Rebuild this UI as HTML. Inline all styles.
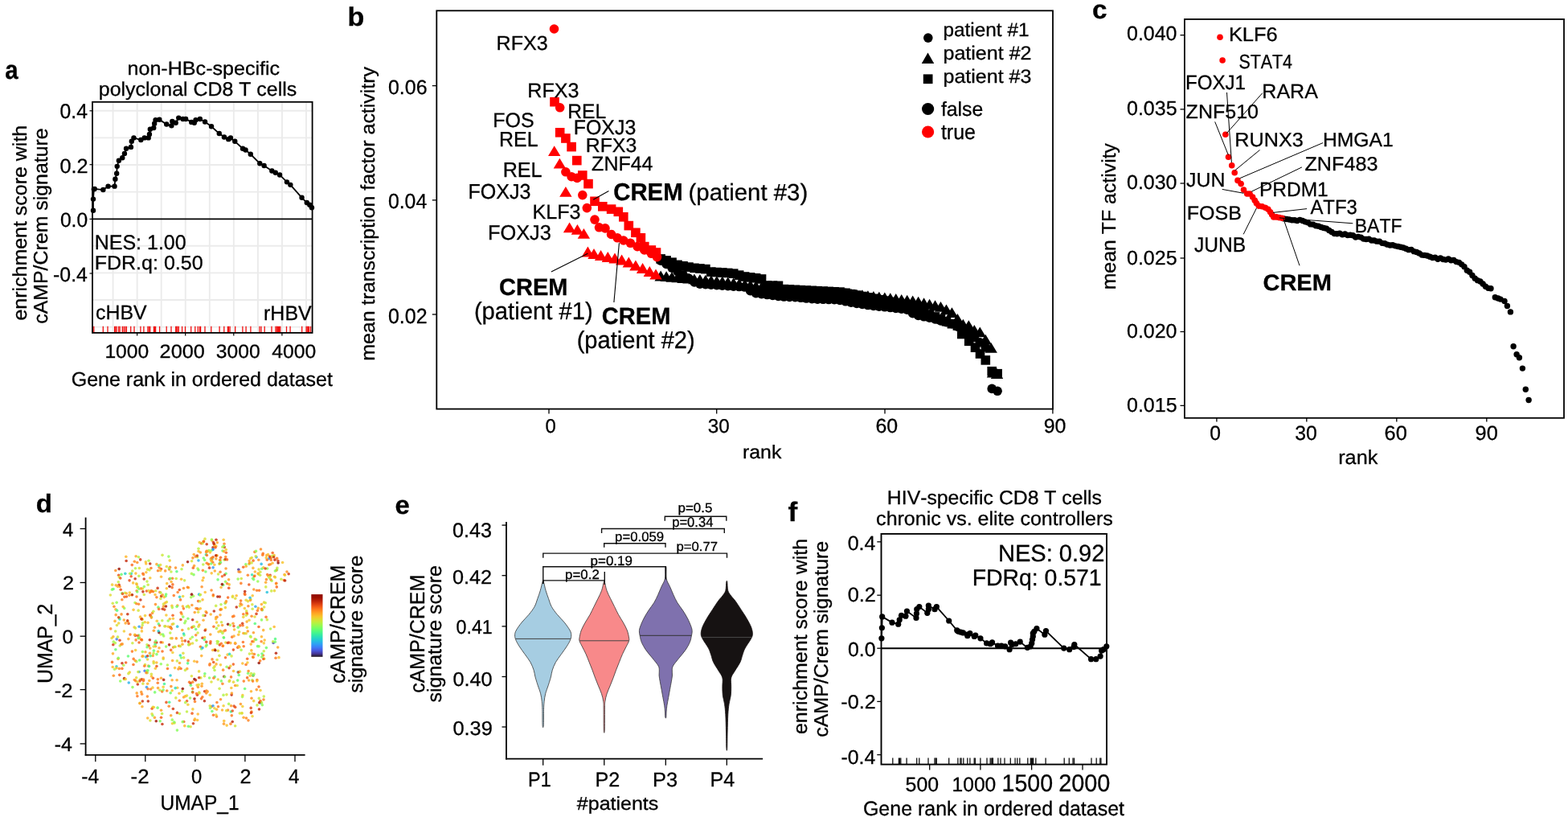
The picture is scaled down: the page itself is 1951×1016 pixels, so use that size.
<!DOCTYPE html>
<html><head><meta charset="utf-8"><title>Figure</title>
<style>
html,body{margin:0;padding:0;background:#fff;width:1951px;height:1016px;overflow:hidden}
svg{display:block}
text{font-family:"Liberation Sans",Arial,sans-serif;font-kerning:none;fill:#000;stroke:#000;stroke-width:0.3px}
</style></head><body>
<svg width="1951" height="1016" viewBox="0 0 1951 1016" text-rendering="geometricPrecision">
<rect width="1951" height="1016" fill="#fff"/>
<g id="pa">
<line x1="115.00" y1="137.80" x2="388.60" y2="137.80" stroke="#EBEBEB" stroke-width="1.90"/>
<line x1="115.00" y1="171.40" x2="388.60" y2="171.40" stroke="#EBEBEB" stroke-width="1.90"/>
<line x1="115.00" y1="205.00" x2="388.60" y2="205.00" stroke="#EBEBEB" stroke-width="1.90"/>
<line x1="115.00" y1="238.60" x2="388.60" y2="238.60" stroke="#EBEBEB" stroke-width="1.90"/>
<line x1="115.00" y1="305.80" x2="388.60" y2="305.80" stroke="#EBEBEB" stroke-width="1.90"/>
<line x1="115.00" y1="339.40" x2="388.60" y2="339.40" stroke="#EBEBEB" stroke-width="1.90"/>
<line x1="115.00" y1="373.00" x2="388.60" y2="373.00" stroke="#EBEBEB" stroke-width="1.90"/>
<line x1="115.00" y1="406.60" x2="388.60" y2="406.60" stroke="#EBEBEB" stroke-width="1.90"/>
<line x1="140.60" y1="126.80" x2="140.60" y2="413.90" stroke="#EBEBEB" stroke-width="1.90"/>
<line x1="170.65" y1="126.80" x2="170.65" y2="413.90" stroke="#EBEBEB" stroke-width="1.90"/>
<line x1="200.70" y1="126.80" x2="200.70" y2="413.90" stroke="#EBEBEB" stroke-width="1.90"/>
<line x1="230.75" y1="126.80" x2="230.75" y2="413.90" stroke="#EBEBEB" stroke-width="1.90"/>
<line x1="260.80" y1="126.80" x2="260.80" y2="413.90" stroke="#EBEBEB" stroke-width="1.90"/>
<line x1="290.85" y1="126.80" x2="290.85" y2="413.90" stroke="#EBEBEB" stroke-width="1.90"/>
<line x1="320.90" y1="126.80" x2="320.90" y2="413.90" stroke="#EBEBEB" stroke-width="1.90"/>
<line x1="350.95" y1="126.80" x2="350.95" y2="413.90" stroke="#EBEBEB" stroke-width="1.90"/>
<line x1="381.00" y1="126.80" x2="381.00" y2="413.90" stroke="#EBEBEB" stroke-width="1.90"/>
<line x1="116.80" y1="405.80" x2="116.80" y2="413.20" stroke="#F01010" stroke-width="1.30"/>
<line x1="128.30" y1="405.80" x2="128.30" y2="413.20" stroke="#F01010" stroke-width="1.30"/>
<line x1="134.00" y1="405.80" x2="134.00" y2="413.20" stroke="#F01010" stroke-width="1.30"/>
<line x1="142.60" y1="405.80" x2="142.60" y2="413.20" stroke="#F01010" stroke-width="1.30"/>
<line x1="143.70" y1="405.80" x2="143.70" y2="413.20" stroke="#F01010" stroke-width="1.30"/>
<line x1="145.20" y1="405.80" x2="145.20" y2="413.20" stroke="#F01010" stroke-width="1.30"/>
<line x1="147.70" y1="405.80" x2="147.70" y2="413.20" stroke="#F01010" stroke-width="1.30"/>
<line x1="149.10" y1="405.80" x2="149.10" y2="413.20" stroke="#F01010" stroke-width="1.30"/>
<line x1="152.30" y1="405.80" x2="152.30" y2="413.20" stroke="#F01010" stroke-width="1.30"/>
<line x1="154.10" y1="405.80" x2="154.10" y2="413.20" stroke="#F01010" stroke-width="1.30"/>
<line x1="155.90" y1="405.80" x2="155.90" y2="413.20" stroke="#F01010" stroke-width="1.30"/>
<line x1="157.40" y1="405.80" x2="157.40" y2="413.20" stroke="#F01010" stroke-width="1.30"/>
<line x1="162.70" y1="405.80" x2="162.70" y2="413.20" stroke="#F01010" stroke-width="1.30"/>
<line x1="167.00" y1="405.80" x2="167.00" y2="413.20" stroke="#F01010" stroke-width="1.30"/>
<line x1="174.90" y1="405.80" x2="174.90" y2="413.20" stroke="#F01010" stroke-width="1.30"/>
<line x1="178.90" y1="405.80" x2="178.90" y2="413.20" stroke="#F01010" stroke-width="1.30"/>
<line x1="183.90" y1="405.80" x2="183.90" y2="413.20" stroke="#F01010" stroke-width="1.30"/>
<line x1="185.30" y1="405.80" x2="185.30" y2="413.20" stroke="#F01010" stroke-width="1.30"/>
<line x1="186.80" y1="405.80" x2="186.80" y2="413.20" stroke="#F01010" stroke-width="1.30"/>
<line x1="191.40" y1="405.80" x2="191.40" y2="413.20" stroke="#F01010" stroke-width="1.30"/>
<line x1="192.50" y1="405.80" x2="192.50" y2="413.20" stroke="#F01010" stroke-width="1.30"/>
<line x1="193.60" y1="405.80" x2="193.60" y2="413.20" stroke="#F01010" stroke-width="1.30"/>
<line x1="198.60" y1="405.80" x2="198.60" y2="413.20" stroke="#F01010" stroke-width="1.30"/>
<line x1="207.20" y1="405.80" x2="207.20" y2="413.20" stroke="#F01010" stroke-width="1.30"/>
<line x1="213.00" y1="405.80" x2="213.00" y2="413.20" stroke="#F01010" stroke-width="1.30"/>
<line x1="218.70" y1="405.80" x2="218.70" y2="413.20" stroke="#F01010" stroke-width="1.30"/>
<line x1="219.80" y1="405.80" x2="219.80" y2="413.20" stroke="#F01010" stroke-width="1.30"/>
<line x1="220.90" y1="405.80" x2="220.90" y2="413.20" stroke="#F01010" stroke-width="1.30"/>
<line x1="222.30" y1="405.80" x2="222.30" y2="413.20" stroke="#F01010" stroke-width="1.30"/>
<line x1="226.60" y1="405.80" x2="226.60" y2="413.20" stroke="#F01010" stroke-width="1.30"/>
<line x1="230.50" y1="405.80" x2="230.50" y2="413.20" stroke="#F01010" stroke-width="1.30"/>
<line x1="237.70" y1="405.80" x2="237.70" y2="413.20" stroke="#F01010" stroke-width="1.30"/>
<line x1="242.80" y1="405.80" x2="242.80" y2="413.20" stroke="#F01010" stroke-width="1.30"/>
<line x1="246.30" y1="405.80" x2="246.30" y2="413.20" stroke="#F01010" stroke-width="1.30"/>
<line x1="248.50" y1="405.80" x2="248.50" y2="413.20" stroke="#F01010" stroke-width="1.30"/>
<line x1="249.60" y1="405.80" x2="249.60" y2="413.20" stroke="#F01010" stroke-width="1.30"/>
<line x1="255.00" y1="405.80" x2="255.00" y2="413.20" stroke="#F01010" stroke-width="1.30"/>
<line x1="262.80" y1="405.80" x2="262.80" y2="413.20" stroke="#F01010" stroke-width="1.30"/>
<line x1="273.10" y1="405.80" x2="273.10" y2="413.20" stroke="#F01010" stroke-width="1.30"/>
<line x1="278.80" y1="405.80" x2="278.80" y2="413.20" stroke="#F01010" stroke-width="1.30"/>
<line x1="283.40" y1="405.80" x2="283.40" y2="413.20" stroke="#F01010" stroke-width="1.30"/>
<line x1="284.60" y1="405.80" x2="284.60" y2="413.20" stroke="#F01010" stroke-width="1.30"/>
<line x1="286.10" y1="405.80" x2="286.10" y2="413.20" stroke="#F01010" stroke-width="1.30"/>
<line x1="292.70" y1="405.80" x2="292.70" y2="413.20" stroke="#F01010" stroke-width="1.30"/>
<line x1="301.90" y1="405.80" x2="301.90" y2="413.20" stroke="#F01010" stroke-width="1.30"/>
<line x1="306.10" y1="405.80" x2="306.10" y2="413.20" stroke="#F01010" stroke-width="1.30"/>
<line x1="311.90" y1="405.80" x2="311.90" y2="413.20" stroke="#F01010" stroke-width="1.30"/>
<line x1="323.00" y1="405.80" x2="323.00" y2="413.20" stroke="#F01010" stroke-width="1.30"/>
<line x1="325.00" y1="405.80" x2="325.00" y2="413.20" stroke="#F01010" stroke-width="1.30"/>
<line x1="329.20" y1="405.80" x2="329.20" y2="413.20" stroke="#F01010" stroke-width="1.30"/>
<line x1="338.00" y1="405.80" x2="338.00" y2="413.20" stroke="#F01010" stroke-width="1.30"/>
<line x1="343.00" y1="405.80" x2="343.00" y2="413.20" stroke="#F01010" stroke-width="1.30"/>
<line x1="344.20" y1="405.80" x2="344.20" y2="413.20" stroke="#F01010" stroke-width="1.30"/>
<line x1="345.30" y1="405.80" x2="345.30" y2="413.20" stroke="#F01010" stroke-width="1.30"/>
<line x1="346.50" y1="405.80" x2="346.50" y2="413.20" stroke="#F01010" stroke-width="1.30"/>
<line x1="347.60" y1="405.80" x2="347.60" y2="413.20" stroke="#F01010" stroke-width="1.30"/>
<line x1="348.80" y1="405.80" x2="348.80" y2="413.20" stroke="#F01010" stroke-width="1.30"/>
<line x1="356.50" y1="405.80" x2="356.50" y2="413.20" stroke="#F01010" stroke-width="1.30"/>
<line x1="361.10" y1="405.80" x2="361.10" y2="413.20" stroke="#F01010" stroke-width="1.30"/>
<line x1="375.70" y1="405.80" x2="375.70" y2="413.20" stroke="#F01010" stroke-width="1.30"/>
<line x1="381.10" y1="405.80" x2="381.10" y2="413.20" stroke="#F01010" stroke-width="1.30"/>
<line x1="382.20" y1="405.80" x2="382.20" y2="413.20" stroke="#F01010" stroke-width="1.30"/>
<line x1="383.40" y1="405.80" x2="383.40" y2="413.20" stroke="#F01010" stroke-width="1.30"/>
<line x1="384.50" y1="405.80" x2="384.50" y2="413.20" stroke="#F01010" stroke-width="1.30"/>
<line x1="386.50" y1="405.80" x2="386.50" y2="413.20" stroke="#F01010" stroke-width="1.30"/>
<line x1="115.00" y1="272.40" x2="388.60" y2="272.40" stroke="#000" stroke-width="1.90"/>
<polyline fill="none" stroke="#000" stroke-width="1.8" points="116.00,261.77 116.00,247.59 116.84,235.19 117.72,234.83 128.35,236.07 134.56,231.64 142.53,231.64 143.42,222.78 145.19,215.69 145.72,206.83 147.85,199.74 152.28,196.20 154.94,190.88 157.06,184.68 162.91,182.91 163.80,175.82 166.45,171.39 175.31,174.05 179.74,171.39 184.71,171.39 185.95,166.96 186.83,160.76 191.26,158.99 192.15,153.67 193.57,149.24 198.35,148.71 207.21,154.56 213.41,156.33 214.30,151.01 218.73,152.78 222.28,146.58 227.59,148.00 231.14,148.00 238.22,151.90 241.77,152.78 243.54,149.24 248.86,148.00 255.06,151.54 263.03,157.21 272.78,166.07 278.98,170.51 284.30,173.16 286.96,171.39 292.27,175.82 302.02,184.68 305.56,186.45 311.77,191.77 323.29,203.29 328.60,205.95 338.35,212.50 342.78,214.81 348.09,217.47 356.96,226.33 361.39,229.87 375.56,245.82 381.77,252.02 385.31,254.68 387.97,258.22"/>
<circle cx="116.00" cy="261.77" r="3.20" fill="#000"/>
<circle cx="116.00" cy="247.59" r="3.20" fill="#000"/>
<circle cx="116.84" cy="235.19" r="3.20" fill="#000"/>
<circle cx="117.72" cy="234.83" r="3.20" fill="#000"/>
<circle cx="128.35" cy="236.07" r="3.20" fill="#000"/>
<circle cx="134.56" cy="231.64" r="3.20" fill="#000"/>
<circle cx="142.53" cy="231.64" r="3.20" fill="#000"/>
<circle cx="143.42" cy="222.78" r="3.20" fill="#000"/>
<circle cx="145.19" cy="215.69" r="3.20" fill="#000"/>
<circle cx="145.72" cy="206.83" r="3.20" fill="#000"/>
<circle cx="147.85" cy="199.74" r="3.20" fill="#000"/>
<circle cx="152.28" cy="196.20" r="3.20" fill="#000"/>
<circle cx="154.94" cy="190.88" r="3.20" fill="#000"/>
<circle cx="157.06" cy="184.68" r="3.20" fill="#000"/>
<circle cx="162.91" cy="182.91" r="3.20" fill="#000"/>
<circle cx="163.80" cy="175.82" r="3.20" fill="#000"/>
<circle cx="166.45" cy="171.39" r="3.20" fill="#000"/>
<circle cx="175.31" cy="174.05" r="3.20" fill="#000"/>
<circle cx="179.74" cy="171.39" r="3.20" fill="#000"/>
<circle cx="184.71" cy="171.39" r="3.20" fill="#000"/>
<circle cx="185.95" cy="166.96" r="3.20" fill="#000"/>
<circle cx="186.83" cy="160.76" r="3.20" fill="#000"/>
<circle cx="191.26" cy="158.99" r="3.20" fill="#000"/>
<circle cx="192.15" cy="153.67" r="3.20" fill="#000"/>
<circle cx="193.57" cy="149.24" r="3.20" fill="#000"/>
<circle cx="198.35" cy="148.71" r="3.20" fill="#000"/>
<circle cx="207.21" cy="154.56" r="3.20" fill="#000"/>
<circle cx="213.41" cy="156.33" r="3.20" fill="#000"/>
<circle cx="214.30" cy="151.01" r="3.20" fill="#000"/>
<circle cx="218.73" cy="152.78" r="3.20" fill="#000"/>
<circle cx="222.28" cy="146.58" r="3.20" fill="#000"/>
<circle cx="227.59" cy="148.00" r="3.20" fill="#000"/>
<circle cx="231.14" cy="148.00" r="3.20" fill="#000"/>
<circle cx="238.22" cy="151.90" r="3.20" fill="#000"/>
<circle cx="241.77" cy="152.78" r="3.20" fill="#000"/>
<circle cx="243.54" cy="149.24" r="3.20" fill="#000"/>
<circle cx="248.86" cy="148.00" r="3.20" fill="#000"/>
<circle cx="255.06" cy="151.54" r="3.20" fill="#000"/>
<circle cx="263.03" cy="157.21" r="3.20" fill="#000"/>
<circle cx="272.78" cy="166.07" r="3.20" fill="#000"/>
<circle cx="278.98" cy="170.51" r="3.20" fill="#000"/>
<circle cx="284.30" cy="173.16" r="3.20" fill="#000"/>
<circle cx="286.96" cy="171.39" r="3.20" fill="#000"/>
<circle cx="292.27" cy="175.82" r="3.20" fill="#000"/>
<circle cx="302.02" cy="184.68" r="3.20" fill="#000"/>
<circle cx="305.56" cy="186.45" r="3.20" fill="#000"/>
<circle cx="311.77" cy="191.77" r="3.20" fill="#000"/>
<circle cx="323.29" cy="203.29" r="3.20" fill="#000"/>
<circle cx="328.60" cy="205.95" r="3.20" fill="#000"/>
<circle cx="338.35" cy="212.50" r="3.20" fill="#000"/>
<circle cx="342.78" cy="214.81" r="3.20" fill="#000"/>
<circle cx="348.09" cy="217.47" r="3.20" fill="#000"/>
<circle cx="356.96" cy="226.33" r="3.20" fill="#000"/>
<circle cx="361.39" cy="229.87" r="3.20" fill="#000"/>
<circle cx="375.56" cy="245.82" r="3.20" fill="#000"/>
<circle cx="381.77" cy="252.02" r="3.20" fill="#000"/>
<circle cx="385.31" cy="254.68" r="3.20" fill="#000"/>
<circle cx="387.97" cy="258.22" r="3.20" fill="#000"/>
<rect x="115.00" y="126.80" width="273.60" height="287.10" fill="none" stroke="#000" stroke-width="1.8"/>
<line x1="111.50" y1="137.80" x2="115.00" y2="137.80" stroke="#000" stroke-width="1.20"/>
<line x1="111.50" y1="204.70" x2="115.00" y2="204.70" stroke="#000" stroke-width="1.20"/>
<line x1="111.50" y1="272.40" x2="115.00" y2="272.40" stroke="#000" stroke-width="1.20"/>
<line x1="111.50" y1="340.00" x2="115.00" y2="340.00" stroke="#000" stroke-width="1.20"/>
<line x1="170.60" y1="413.90" x2="170.60" y2="417.50" stroke="#000" stroke-width="1.20"/>
<line x1="230.70" y1="413.90" x2="230.70" y2="417.50" stroke="#000" stroke-width="1.20"/>
<line x1="290.80" y1="413.90" x2="290.80" y2="417.50" stroke="#000" stroke-width="1.20"/>
<line x1="350.90" y1="413.90" x2="350.90" y2="417.50" stroke="#000" stroke-width="1.20"/>
</g>
<g id="pb">
<circle cx="822.14" cy="324.09" r="5.80" fill="#000"/>
<rect x="816.34" y="316.14" width="11.60" height="11.60" fill="#000"/>
<polygon points="822.14,336.61 814.44,349.41 829.84,349.41" fill="#000"/>
<circle cx="829.11" cy="328.52" r="5.80" fill="#000"/>
<rect x="823.31" y="318.13" width="11.60" height="11.60" fill="#000"/>
<polygon points="829.11,337.25 821.41,350.05 836.81,350.05" fill="#000"/>
<circle cx="836.07" cy="333.20" r="5.80" fill="#000"/>
<rect x="830.27" y="320.44" width="11.60" height="11.60" fill="#000"/>
<polygon points="836.07,337.88 828.37,350.68 843.77,350.68" fill="#000"/>
<circle cx="843.04" cy="337.74" r="5.80" fill="#000"/>
<rect x="837.24" y="323.56" width="11.60" height="11.60" fill="#000"/>
<polygon points="843.04,338.51 835.34,351.31 850.74,351.31" fill="#000"/>
<circle cx="850.01" cy="341.72" r="5.80" fill="#000"/>
<rect x="844.21" y="324.99" width="11.60" height="11.60" fill="#000"/>
<polygon points="850.01,339.15 842.31,351.95 857.71,351.95" fill="#000"/>
<circle cx="856.97" cy="346.12" r="5.80" fill="#000"/>
<rect x="851.17" y="326.30" width="11.60" height="11.60" fill="#000"/>
<polygon points="856.97,339.78 849.27,352.58 864.67,352.58" fill="#000"/>
<circle cx="863.94" cy="350.96" r="5.80" fill="#000"/>
<rect x="858.14" y="327.51" width="11.60" height="11.60" fill="#000"/>
<polygon points="863.94,340.41 856.24,353.21 871.64,353.21" fill="#000"/>
<circle cx="870.91" cy="353.26" r="5.80" fill="#000"/>
<rect x="865.11" y="328.17" width="11.60" height="11.60" fill="#000"/>
<polygon points="870.91,341.03 863.21,353.83 878.61,353.83" fill="#000"/>
<circle cx="877.88" cy="353.74" r="5.80" fill="#000"/>
<rect x="872.08" y="328.84" width="11.60" height="11.60" fill="#000"/>
<polygon points="877.88,341.65 870.18,354.45 885.58,354.45" fill="#000"/>
<circle cx="884.84" cy="354.21" r="5.80" fill="#000"/>
<rect x="879.04" y="332.30" width="11.60" height="11.60" fill="#000"/>
<polygon points="884.84,342.26 877.14,355.06 892.54,355.06" fill="#000"/>
<circle cx="891.81" cy="354.68" r="5.80" fill="#000"/>
<rect x="886.01" y="332.75" width="11.60" height="11.60" fill="#000"/>
<polygon points="891.81,342.88 884.11,355.68 899.51,355.68" fill="#000"/>
<circle cx="898.78" cy="355.15" r="5.80" fill="#000"/>
<rect x="892.98" y="333.19" width="11.60" height="11.60" fill="#000"/>
<polygon points="898.78,343.49 891.08,356.29 906.48,356.29" fill="#000"/>
<circle cx="905.74" cy="355.62" r="5.80" fill="#000"/>
<rect x="899.94" y="333.63" width="11.60" height="11.60" fill="#000"/>
<polygon points="905.74,344.36 898.04,357.16 913.44,357.16" fill="#000"/>
<circle cx="912.71" cy="356.10" r="5.80" fill="#000"/>
<rect x="906.91" y="334.35" width="11.60" height="11.60" fill="#000"/>
<polygon points="912.71,345.27 905.01,358.07 920.41,358.07" fill="#000"/>
<circle cx="919.68" cy="356.57" r="5.80" fill="#000"/>
<rect x="913.88" y="336.34" width="11.60" height="11.60" fill="#000"/>
<polygon points="919.68,346.19 911.98,358.99 927.38,358.99" fill="#000"/>
<circle cx="926.64" cy="357.04" r="5.80" fill="#000"/>
<rect x="920.85" y="338.21" width="11.60" height="11.60" fill="#000"/>
<polygon points="926.64,347.11 918.94,359.91 934.35,359.91" fill="#000"/>
<circle cx="933.61" cy="361.68" r="5.80" fill="#000"/>
<rect x="927.81" y="339.09" width="11.60" height="11.60" fill="#000"/>
<polygon points="933.61,348.02 925.91,360.82 941.31,360.82" fill="#000"/>
<circle cx="940.58" cy="364.63" r="5.80" fill="#000"/>
<rect x="934.78" y="339.97" width="11.60" height="11.60" fill="#000"/>
<polygon points="940.58,349.02 932.88,361.82 948.28,361.82" fill="#000"/>
<circle cx="947.55" cy="365.59" r="5.80" fill="#000"/>
<rect x="941.75" y="341.17" width="11.60" height="11.60" fill="#000"/>
<polygon points="947.55,350.15 939.85,362.95 955.25,362.95" fill="#000"/>
<circle cx="954.51" cy="366.55" r="5.80" fill="#000"/>
<rect x="948.71" y="349.20" width="11.60" height="11.60" fill="#000"/>
<polygon points="954.51,351.28 946.81,364.08 962.21,364.08" fill="#000"/>
<circle cx="961.48" cy="367.51" r="5.80" fill="#000"/>
<rect x="955.68" y="349.37" width="11.60" height="11.60" fill="#000"/>
<polygon points="961.48,352.41 953.78,365.21 969.18,365.21" fill="#000"/>
<circle cx="968.45" cy="368.48" r="5.80" fill="#000"/>
<rect x="962.65" y="349.54" width="11.60" height="11.60" fill="#000"/>
<polygon points="968.45,353.54 960.75,366.34 976.15,366.34" fill="#000"/>
<circle cx="975.41" cy="369.03" r="5.80" fill="#000"/>
<rect x="969.61" y="353.80" width="11.60" height="11.60" fill="#000"/>
<polygon points="975.41,354.62 967.71,367.42 983.11,367.42" fill="#000"/>
<circle cx="982.38" cy="369.36" r="5.80" fill="#000"/>
<rect x="976.58" y="354.15" width="11.60" height="11.60" fill="#000"/>
<polygon points="982.38,354.94 974.68,367.74 990.08,367.74" fill="#000"/>
<circle cx="989.35" cy="369.70" r="5.80" fill="#000"/>
<rect x="983.55" y="354.51" width="11.60" height="11.60" fill="#000"/>
<polygon points="989.35,355.27 981.65,368.07 997.05,368.07" fill="#000"/>
<circle cx="996.31" cy="370.31" r="5.80" fill="#000"/>
<rect x="990.51" y="354.86" width="11.60" height="11.60" fill="#000"/>
<polygon points="996.31,355.59 988.61,368.39 1004.01,368.39" fill="#000"/>
<circle cx="1003.28" cy="371.03" r="5.80" fill="#000"/>
<rect x="997.48" y="355.21" width="11.60" height="11.60" fill="#000"/>
<polygon points="1003.28,355.91 995.58,368.71 1010.98,368.71" fill="#000"/>
<circle cx="1010.25" cy="371.74" r="5.80" fill="#000"/>
<rect x="1004.45" y="355.56" width="11.60" height="11.60" fill="#000"/>
<polygon points="1010.25,356.24 1002.55,369.04 1017.95,369.04" fill="#000"/>
<circle cx="1017.22" cy="372.08" r="5.80" fill="#000"/>
<rect x="1011.42" y="355.91" width="11.60" height="11.60" fill="#000"/>
<polygon points="1017.22,356.56 1009.52,369.36 1024.92,369.36" fill="#000"/>
<circle cx="1024.18" cy="372.30" r="5.80" fill="#000"/>
<rect x="1018.38" y="356.27" width="11.60" height="11.60" fill="#000"/>
<polygon points="1024.18,356.89 1016.48,369.69 1031.88,369.69" fill="#000"/>
<circle cx="1031.15" cy="372.53" r="5.80" fill="#000"/>
<rect x="1025.35" y="356.62" width="11.60" height="11.60" fill="#000"/>
<polygon points="1031.15,357.21 1023.45,370.01 1038.85,370.01" fill="#000"/>
<circle cx="1038.12" cy="372.76" r="5.80" fill="#000"/>
<rect x="1032.32" y="356.97" width="11.60" height="11.60" fill="#000"/>
<polygon points="1038.12,357.53 1030.42,370.33 1045.82,370.33" fill="#000"/>
<circle cx="1045.08" cy="373.42" r="5.80" fill="#000"/>
<rect x="1039.28" y="357.32" width="11.60" height="11.60" fill="#000"/>
<polygon points="1045.08,357.86 1037.38,370.66 1052.78,370.66" fill="#000"/>
<circle cx="1052.05" cy="374.81" r="5.80" fill="#000"/>
<rect x="1046.25" y="358.50" width="11.60" height="11.60" fill="#000"/>
<polygon points="1052.05,358.08 1044.35,370.88 1059.75,370.88" fill="#000"/>
<circle cx="1059.02" cy="376.20" r="5.80" fill="#000"/>
<rect x="1053.22" y="359.90" width="11.60" height="11.60" fill="#000"/>
<polygon points="1059.02,358.80 1051.32,371.60 1066.72,371.60" fill="#000"/>
<circle cx="1065.98" cy="377.45" r="5.80" fill="#000"/>
<rect x="1060.18" y="361.30" width="11.60" height="11.60" fill="#000"/>
<polygon points="1065.98,359.59 1058.28,372.39 1073.68,372.39" fill="#000"/>
<circle cx="1072.95" cy="378.50" r="5.80" fill="#000"/>
<rect x="1067.15" y="362.71" width="11.60" height="11.60" fill="#000"/>
<polygon points="1072.95,360.37 1065.25,373.17 1080.65,373.17" fill="#000"/>
<circle cx="1079.92" cy="379.56" r="5.80" fill="#000"/>
<rect x="1074.12" y="364.11" width="11.60" height="11.60" fill="#000"/>
<polygon points="1079.92,361.16 1072.22,373.96 1087.62,373.96" fill="#000"/>
<circle cx="1086.89" cy="380.43" r="5.80" fill="#000"/>
<rect x="1081.09" y="365.52" width="11.60" height="11.60" fill="#000"/>
<polygon points="1086.89,361.95 1079.19,374.75 1094.59,374.75" fill="#000"/>
<circle cx="1093.85" cy="381.11" r="5.80" fill="#000"/>
<rect x="1088.05" y="366.92" width="11.60" height="11.60" fill="#000"/>
<polygon points="1093.85,362.73 1086.15,375.53 1101.55,375.53" fill="#000"/>
<circle cx="1100.82" cy="381.79" r="5.80" fill="#000"/>
<rect x="1095.02" y="368.32" width="11.60" height="11.60" fill="#000"/>
<polygon points="1100.82,363.52 1093.12,376.32 1108.52,376.32" fill="#000"/>
<circle cx="1107.79" cy="382.56" r="5.80" fill="#000"/>
<rect x="1101.99" y="369.73" width="11.60" height="11.60" fill="#000"/>
<polygon points="1107.79,364.30 1100.09,377.10 1115.49,377.10" fill="#000"/>
<circle cx="1114.75" cy="383.40" r="5.80" fill="#000"/>
<rect x="1108.95" y="371.13" width="11.60" height="11.60" fill="#000"/>
<polygon points="1114.75,365.09 1107.05,377.89 1122.45,377.89" fill="#000"/>
<circle cx="1121.72" cy="384.25" r="5.80" fill="#000"/>
<rect x="1115.92" y="372.53" width="11.60" height="11.60" fill="#000"/>
<polygon points="1121.72,365.88 1114.02,378.68 1129.42,378.68" fill="#000"/>
<circle cx="1128.69" cy="385.09" r="5.80" fill="#000"/>
<rect x="1122.89" y="373.94" width="11.60" height="11.60" fill="#000"/>
<polygon points="1128.69,366.66 1120.99,379.46 1136.39,379.46" fill="#000"/>
<circle cx="1135.65" cy="389.74" r="5.80" fill="#000"/>
<rect x="1129.86" y="376.56" width="11.60" height="11.60" fill="#000"/>
<polygon points="1135.65,367.45 1127.95,380.25 1143.36,380.25" fill="#000"/>
<circle cx="1142.62" cy="392.42" r="5.80" fill="#000"/>
<rect x="1136.82" y="379.46" width="11.60" height="11.60" fill="#000"/>
<polygon points="1142.62,368.82 1134.92,381.62 1150.32,381.62" fill="#000"/>
<circle cx="1149.59" cy="393.82" r="5.80" fill="#000"/>
<rect x="1143.79" y="382.36" width="11.60" height="11.60" fill="#000"/>
<polygon points="1149.59,370.34 1141.89,383.14 1157.29,383.14" fill="#000"/>
<circle cx="1156.56" cy="395.21" r="5.80" fill="#000"/>
<rect x="1150.76" y="385.26" width="11.60" height="11.60" fill="#000"/>
<polygon points="1156.56,371.86 1148.86,384.66 1164.26,384.66" fill="#000"/>
<circle cx="1163.52" cy="397.01" r="5.80" fill="#000"/>
<rect x="1157.72" y="388.17" width="11.60" height="11.60" fill="#000"/>
<polygon points="1163.52,373.37 1155.82,386.17 1171.22,386.17" fill="#000"/>
<circle cx="1170.49" cy="398.88" r="5.80" fill="#000"/>
<rect x="1164.69" y="391.07" width="11.60" height="11.60" fill="#000"/>
<polygon points="1170.49,374.89 1162.79,387.69 1178.19,387.69" fill="#000"/>
<circle cx="1177.46" cy="400.74" r="5.80" fill="#000"/>
<rect x="1171.66" y="393.97" width="11.60" height="11.60" fill="#000"/>
<polygon points="1177.46,378.51 1169.76,391.31 1185.16,391.31" fill="#000"/>
<circle cx="1184.42" cy="402.61" r="5.80" fill="#000"/>
<rect x="1178.62" y="396.88" width="11.60" height="11.60" fill="#000"/>
<polygon points="1184.42,382.29 1176.72,395.09 1192.12,395.09" fill="#000"/>
<circle cx="1191.39" cy="406.12" r="5.80" fill="#000"/>
<rect x="1185.59" y="399.20" width="11.60" height="11.60" fill="#000"/>
<polygon points="1191.39,390.06 1183.69,402.86 1199.09,402.86" fill="#000"/>
<circle cx="1198.36" cy="410.60" r="5.80" fill="#000"/>
<polygon points="1198.36,396.87 1190.66,409.67 1206.06,409.67" fill="#000"/>
<circle cx="1205.32" cy="415.07" r="5.80" fill="#000"/>
<polygon points="1205.32,398.26 1197.62,411.06 1213.02,411.06" fill="#000"/>
<circle cx="1212.29" cy="419.55" r="5.80" fill="#000"/>
<polygon points="1212.29,403.89 1204.59,416.69 1219.99,416.69" fill="#000"/>
<circle cx="1219.26" cy="425.78" r="5.80" fill="#000"/>
<polygon points="1219.26,406.39 1211.56,419.19 1226.96,419.19" fill="#000"/>
<circle cx="1226.23" cy="432.00" r="5.80" fill="#000"/>
<polygon points="1226.23,415.72 1218.53,428.52 1233.93,428.52" fill="#000"/>
<polygon points="1233.19,425.92 1225.49,438.72 1240.89,438.72" fill="#000"/>
<rect x="1191.00" y="409.70" width="11.60" height="11.60" fill="#000"/>
<rect x="1199.90" y="418.50" width="11.60" height="11.60" fill="#000"/>
<rect x="1207.70" y="426.40" width="11.60" height="11.60" fill="#000"/>
<rect x="1213.70" y="434.20" width="11.60" height="11.60" fill="#000"/>
<rect x="1220.50" y="442.10" width="11.60" height="11.60" fill="#000"/>
<rect x="1228.40" y="455.90" width="11.60" height="11.60" fill="#000"/>
<rect x="1235.30" y="458.90" width="11.60" height="11.60" fill="#000"/>
<polygon points="1235.50,456.60 1227.80,469.40 1243.20,469.40" fill="#000"/>
<polygon points="1240.50,458.10 1232.80,470.90 1248.20,470.90" fill="#000"/>
<circle cx="1234.20" cy="483.40" r="5.80" fill="#000"/>
<circle cx="1241.10" cy="486.30" r="5.80" fill="#000"/>
<polygon points="689.70,181.30 682.00,194.10 697.40,194.10" fill="#FF0000"/>
<polygon points="696.40,196.80 688.70,209.60 704.10,209.60" fill="#FF0000"/>
<polygon points="703.90,231.90 696.20,244.70 711.60,244.70" fill="#FF0000"/>
<polygon points="708.60,276.40 700.90,289.20 716.30,289.20" fill="#FF0000"/>
<polygon points="718.40,279.00 710.70,291.80 726.10,291.80" fill="#FF0000"/>
<polygon points="726.40,284.00 718.70,296.80 734.10,296.80" fill="#FF0000"/>
<polygon points="731.40,306.60 723.70,319.40 739.10,319.40" fill="#FF0000"/>
<polygon points="739.00,309.10 731.30,321.90 746.70,321.90" fill="#FF0000"/>
<polygon points="747.60,311.10 739.90,323.90 755.30,323.90" fill="#FF0000"/>
<polygon points="756.30,313.10 748.60,325.90 764.00,325.90" fill="#FF0000"/>
<polygon points="765.00,314.60 757.30,327.40 772.70,327.40" fill="#FF0000"/>
<polygon points="773.60,316.60 765.90,329.40 781.30,329.40" fill="#FF0000"/>
<polygon points="782.30,319.60 774.60,332.40 790.00,332.40" fill="#FF0000"/>
<polygon points="790.90,323.60 783.20,336.40 798.60,336.40" fill="#FF0000"/>
<polygon points="799.60,327.10 791.90,339.90 807.30,339.90" fill="#FF0000"/>
<polygon points="808.30,331.10 800.60,343.90 816.00,343.90" fill="#FF0000"/>
<polygon points="816.00,334.60 808.30,347.40 823.70,347.40" fill="#FF0000"/>
<circle cx="689.50" cy="36.00" r="5.80" fill="#FF0000"/>
<circle cx="696.70" cy="133.80" r="5.80" fill="#FF0000"/>
<circle cx="703.90" cy="213.80" r="5.80" fill="#FF0000"/>
<circle cx="711.10" cy="219.70" r="5.80" fill="#FF0000"/>
<circle cx="718.10" cy="221.40" r="5.80" fill="#FF0000"/>
<circle cx="724.80" cy="242.60" r="5.80" fill="#FF0000"/>
<circle cx="730.30" cy="258.60" r="5.80" fill="#FF0000"/>
<circle cx="740.00" cy="273.10" r="5.80" fill="#FF0000"/>
<circle cx="745.50" cy="282.80" r="5.80" fill="#FF0000"/>
<circle cx="753.00" cy="283.90" r="5.80" fill="#FF0000"/>
<circle cx="760.60" cy="291.50" r="5.80" fill="#FF0000"/>
<circle cx="768.20" cy="295.80" r="5.80" fill="#FF0000"/>
<circle cx="775.80" cy="299.00" r="5.80" fill="#FF0000"/>
<circle cx="784.40" cy="302.30" r="5.80" fill="#FF0000"/>
<circle cx="793.10" cy="306.60" r="5.80" fill="#FF0000"/>
<circle cx="801.80" cy="311.00" r="5.80" fill="#FF0000"/>
<circle cx="810.40" cy="315.30" r="5.80" fill="#FF0000"/>
<circle cx="817.50" cy="319.60" r="5.80" fill="#FF0000"/>
<rect x="684.20" y="120.90" width="11.60" height="11.60" fill="#FF0000"/>
<rect x="690.90" y="159.00" width="11.60" height="11.60" fill="#FF0000"/>
<rect x="698.10" y="166.20" width="11.60" height="11.60" fill="#FF0000"/>
<rect x="705.30" y="176.80" width="11.60" height="11.60" fill="#FF0000"/>
<rect x="712.00" y="193.80" width="11.60" height="11.60" fill="#FF0000"/>
<rect x="719.00" y="212.20" width="11.60" height="11.60" fill="#FF0000"/>
<rect x="726.20" y="222.80" width="11.60" height="11.60" fill="#FF0000"/>
<rect x="734.20" y="244.50" width="11.60" height="11.60" fill="#FF0000"/>
<rect x="744.00" y="251.00" width="11.60" height="11.60" fill="#FF0000"/>
<rect x="754.80" y="254.30" width="11.60" height="11.60" fill="#FF0000"/>
<rect x="763.50" y="257.50" width="11.60" height="11.60" fill="#FF0000"/>
<rect x="770.00" y="264.00" width="11.60" height="11.60" fill="#FF0000"/>
<rect x="776.50" y="274.80" width="11.60" height="11.60" fill="#FF0000"/>
<rect x="785.10" y="283.50" width="11.60" height="11.60" fill="#FF0000"/>
<rect x="791.60" y="290.00" width="11.60" height="11.60" fill="#FF0000"/>
<rect x="796.00" y="300.80" width="11.60" height="11.60" fill="#FF0000"/>
<rect x="804.60" y="305.20" width="11.60" height="11.60" fill="#FF0000"/>
<rect x="810.70" y="308.20" width="11.60" height="11.60" fill="#FF0000"/>
<line x1="738.20" y1="248.20" x2="757.40" y2="237.60" stroke="#000" stroke-width="1.10"/>
<line x1="685.90" y1="338.00" x2="731.40" y2="315.30" stroke="#000" stroke-width="1.10"/>
<line x1="770.40" y1="302.30" x2="763.90" y2="376.00" stroke="#000" stroke-width="1.10"/>
<rect x="543.30" y="13.30" width="766.70" height="495.30" fill="none" stroke="#000" stroke-width="1.8"/>
<line x1="537.80" y1="106.60" x2="543.30" y2="106.60" stroke="#000" stroke-width="1.30"/>
<line x1="537.80" y1="248.90" x2="543.30" y2="248.90" stroke="#000" stroke-width="1.30"/>
<line x1="537.80" y1="391.00" x2="543.30" y2="391.00" stroke="#000" stroke-width="1.30"/>
<line x1="683.00" y1="508.60" x2="683.00" y2="514.60" stroke="#000" stroke-width="1.30"/>
<line x1="891.70" y1="508.60" x2="891.70" y2="514.60" stroke="#000" stroke-width="1.30"/>
<line x1="1101.00" y1="508.60" x2="1101.00" y2="514.60" stroke="#000" stroke-width="1.30"/>
<line x1="1309.90" y1="508.60" x2="1309.90" y2="514.60" stroke="#000" stroke-width="1.30"/>
<circle cx="1154.80" cy="47.10" r="5.80" fill="#000"/>
<polygon points="1154.50,65.60 1146.75,79.00 1162.25,79.00" fill="#000"/>
<rect x="1148.80" y="92.40" width="11.70" height="11.70" fill="#000"/>
<circle cx="1154.60" cy="135.50" r="7.60" fill="#000"/>
<circle cx="1154.60" cy="164.00" r="7.60" fill="#FF0000"/>
</g>
<g id="pc">
<circle cx="1597.60" cy="271.92" r="3.70" fill="#000"/>
<circle cx="1600.90" cy="272.55" r="3.70" fill="#000"/>
<circle cx="1604.20" cy="273.07" r="3.70" fill="#000"/>
<circle cx="1607.50" cy="273.75" r="3.70" fill="#000"/>
<circle cx="1610.80" cy="273.81" r="3.70" fill="#000"/>
<circle cx="1614.10" cy="274.55" r="3.70" fill="#000"/>
<circle cx="1617.40" cy="273.36" r="3.70" fill="#000"/>
<circle cx="1620.70" cy="274.57" r="3.70" fill="#000"/>
<circle cx="1624.00" cy="275.85" r="3.70" fill="#000"/>
<circle cx="1627.30" cy="276.80" r="3.70" fill="#000"/>
<circle cx="1630.60" cy="278.89" r="3.70" fill="#000"/>
<circle cx="1633.90" cy="279.11" r="3.70" fill="#000"/>
<circle cx="1637.20" cy="280.73" r="3.70" fill="#000"/>
<circle cx="1640.50" cy="281.18" r="3.70" fill="#000"/>
<circle cx="1643.80" cy="282.56" r="3.70" fill="#000"/>
<circle cx="1647.10" cy="283.45" r="3.70" fill="#000"/>
<circle cx="1650.40" cy="284.17" r="3.70" fill="#000"/>
<circle cx="1653.70" cy="286.50" r="3.70" fill="#000"/>
<circle cx="1657.00" cy="288.57" r="3.70" fill="#000"/>
<circle cx="1660.30" cy="290.58" r="3.70" fill="#000"/>
<circle cx="1663.60" cy="290.76" r="3.70" fill="#000"/>
<circle cx="1666.90" cy="290.13" r="3.70" fill="#000"/>
<circle cx="1670.20" cy="291.73" r="3.70" fill="#000"/>
<circle cx="1673.50" cy="291.00" r="3.70" fill="#000"/>
<circle cx="1676.80" cy="292.46" r="3.70" fill="#000"/>
<circle cx="1680.10" cy="292.25" r="3.70" fill="#000"/>
<circle cx="1683.40" cy="292.69" r="3.70" fill="#000"/>
<circle cx="1686.70" cy="294.93" r="3.70" fill="#000"/>
<circle cx="1690.00" cy="294.41" r="3.70" fill="#000"/>
<circle cx="1693.30" cy="295.08" r="3.70" fill="#000"/>
<circle cx="1696.60" cy="297.11" r="3.70" fill="#000"/>
<circle cx="1699.90" cy="297.56" r="3.70" fill="#000"/>
<circle cx="1703.20" cy="297.16" r="3.70" fill="#000"/>
<circle cx="1706.50" cy="299.02" r="3.70" fill="#000"/>
<circle cx="1709.80" cy="299.02" r="3.70" fill="#000"/>
<circle cx="1713.10" cy="300.14" r="3.70" fill="#000"/>
<circle cx="1716.40" cy="300.16" r="3.70" fill="#000"/>
<circle cx="1719.70" cy="302.35" r="3.70" fill="#000"/>
<circle cx="1723.00" cy="302.77" r="3.70" fill="#000"/>
<circle cx="1726.30" cy="304.16" r="3.70" fill="#000"/>
<circle cx="1729.60" cy="304.96" r="3.70" fill="#000"/>
<circle cx="1732.90" cy="304.82" r="3.70" fill="#000"/>
<circle cx="1736.20" cy="305.86" r="3.70" fill="#000"/>
<circle cx="1739.50" cy="306.44" r="3.70" fill="#000"/>
<circle cx="1742.80" cy="307.30" r="3.70" fill="#000"/>
<circle cx="1746.10" cy="307.99" r="3.70" fill="#000"/>
<circle cx="1749.40" cy="309.26" r="3.70" fill="#000"/>
<circle cx="1752.70" cy="310.65" r="3.70" fill="#000"/>
<circle cx="1756.00" cy="310.42" r="3.70" fill="#000"/>
<circle cx="1759.30" cy="312.66" r="3.70" fill="#000"/>
<circle cx="1762.60" cy="313.50" r="3.70" fill="#000"/>
<circle cx="1765.90" cy="314.90" r="3.70" fill="#000"/>
<circle cx="1769.20" cy="317.12" r="3.70" fill="#000"/>
<circle cx="1772.50" cy="317.42" r="3.70" fill="#000"/>
<circle cx="1775.80" cy="318.03" r="3.70" fill="#000"/>
<circle cx="1779.10" cy="319.24" r="3.70" fill="#000"/>
<circle cx="1782.40" cy="320.55" r="3.70" fill="#000"/>
<circle cx="1785.70" cy="320.18" r="3.70" fill="#000"/>
<circle cx="1789.00" cy="322.22" r="3.70" fill="#000"/>
<circle cx="1792.30" cy="320.88" r="3.70" fill="#000"/>
<circle cx="1795.60" cy="322.57" r="3.70" fill="#000"/>
<circle cx="1798.90" cy="323.12" r="3.70" fill="#000"/>
<circle cx="1802.20" cy="322.02" r="3.70" fill="#000"/>
<circle cx="1805.50" cy="323.78" r="3.70" fill="#000"/>
<circle cx="1808.80" cy="323.56" r="3.70" fill="#000"/>
<circle cx="1812.10" cy="325.62" r="3.70" fill="#000"/>
<circle cx="1815.40" cy="326.34" r="3.70" fill="#000"/>
<circle cx="1818.70" cy="328.87" r="3.70" fill="#000"/>
<circle cx="1822.00" cy="331.63" r="3.70" fill="#000"/>
<circle cx="1825.30" cy="336.32" r="3.70" fill="#000"/>
<circle cx="1828.60" cy="338.25" r="3.70" fill="#000"/>
<circle cx="1831.90" cy="342.56" r="3.70" fill="#000"/>
<circle cx="1835.20" cy="346.17" r="3.70" fill="#000"/>
<circle cx="1838.50" cy="348.66" r="3.70" fill="#000"/>
<circle cx="1841.80" cy="350.05" r="3.70" fill="#000"/>
<circle cx="1845.10" cy="353.00" r="3.70" fill="#000"/>
<circle cx="1848.40" cy="356.27" r="3.70" fill="#000"/>
<circle cx="1851.70" cy="358.37" r="3.70" fill="#000"/>
<circle cx="1855.00" cy="358.74" r="3.70" fill="#000"/>
<circle cx="1860.30" cy="369.80" r="3.70" fill="#000"/>
<circle cx="1864.00" cy="371.00" r="3.70" fill="#000"/>
<circle cx="1867.00" cy="372.10" r="3.70" fill="#000"/>
<circle cx="1872.00" cy="374.50" r="3.70" fill="#000"/>
<circle cx="1875.40" cy="380.50" r="3.70" fill="#000"/>
<circle cx="1879.40" cy="387.90" r="3.70" fill="#000"/>
<circle cx="1883.10" cy="430.70" r="3.70" fill="#000"/>
<circle cx="1887.10" cy="440.70" r="3.70" fill="#000"/>
<circle cx="1890.40" cy="444.70" r="3.70" fill="#000"/>
<circle cx="1894.40" cy="458.10" r="3.70" fill="#000"/>
<circle cx="1898.30" cy="484.20" r="3.70" fill="#000"/>
<circle cx="1902.10" cy="497.50" r="3.70" fill="#000"/>
<circle cx="1518.00" cy="46.30" r="3.80" fill="#FF0000"/>
<circle cx="1521.10" cy="75.00" r="3.80" fill="#FF0000"/>
<circle cx="1524.80" cy="167.20" r="3.80" fill="#FF0000"/>
<circle cx="1528.50" cy="195.20" r="3.80" fill="#FF0000"/>
<circle cx="1532.70" cy="205.80" r="3.80" fill="#FF0000"/>
<circle cx="1536.20" cy="214.80" r="3.80" fill="#FF0000"/>
<circle cx="1540.00" cy="224.40" r="3.80" fill="#FF0000"/>
<circle cx="1544.10" cy="228.60" r="3.80" fill="#FF0000"/>
<circle cx="1547.50" cy="236.10" r="3.80" fill="#FF0000"/>
<circle cx="1551.70" cy="241.00" r="3.80" fill="#FF0000"/>
<circle cx="1555.10" cy="241.00" r="3.80" fill="#FF0000"/>
<circle cx="1558.60" cy="245.10" r="3.80" fill="#FF0000"/>
<circle cx="1561.30" cy="249.20" r="3.80" fill="#FF0000"/>
<circle cx="1563.40" cy="252.70" r="3.80" fill="#FF0000"/>
<circle cx="1566.20" cy="256.10" r="3.80" fill="#FF0000"/>
<circle cx="1570.30" cy="256.80" r="3.80" fill="#FF0000"/>
<circle cx="1574.40" cy="258.20" r="3.80" fill="#FF0000"/>
<circle cx="1577.90" cy="260.30" r="3.80" fill="#FF0000"/>
<circle cx="1580.60" cy="263.70" r="3.80" fill="#FF0000"/>
<circle cx="1582.70" cy="267.10" r="3.80" fill="#FF0000"/>
<circle cx="1584.80" cy="269.90" r="3.80" fill="#FF0000"/>
<circle cx="1588.20" cy="269.90" r="3.80" fill="#FF0000"/>
<circle cx="1591.60" cy="270.60" r="3.80" fill="#FF0000"/>
<circle cx="1595.10" cy="271.30" r="3.80" fill="#FF0000"/>
<line x1="1526.50" y1="115.00" x2="1532.40" y2="202.00" stroke="#000" stroke-width="1.00"/>
<line x1="1570.90" y1="115.60" x2="1526.20" y2="165.80" stroke="#000" stroke-width="1.00"/>
<line x1="1511.70" y1="151.40" x2="1528.30" y2="192.70" stroke="#000" stroke-width="1.00"/>
<line x1="1567.50" y1="186.50" x2="1536.50" y2="212.00" stroke="#000" stroke-width="1.00"/>
<line x1="1646.10" y1="177.60" x2="1542.70" y2="221.70" stroke="#000" stroke-width="1.00"/>
<line x1="1619.90" y1="207.90" x2="1557.20" y2="238.20" stroke="#000" stroke-width="1.00"/>
<line x1="1520.70" y1="235.40" x2="1547.50" y2="240.30" stroke="#000" stroke-width="1.00"/>
<line x1="1626.10" y1="259.60" x2="1584.10" y2="264.40" stroke="#000" stroke-width="1.00"/>
<line x1="1683.30" y1="277.80" x2="1592.00" y2="270.90" stroke="#000" stroke-width="1.00"/>
<line x1="1563.40" y1="258.90" x2="1547.20" y2="291.30" stroke="#000" stroke-width="1.00"/>
<line x1="1596.70" y1="271.50" x2="1617.00" y2="330.30" stroke="#000" stroke-width="1.00"/>
<rect x="1473.90" y="23.90" width="472.10" height="495.90" fill="none" stroke="#000" stroke-width="1.8"/>
<line x1="1468.50" y1="43.70" x2="1473.90" y2="43.70" stroke="#000" stroke-width="1.30"/>
<line x1="1468.50" y1="135.90" x2="1473.90" y2="135.90" stroke="#000" stroke-width="1.30"/>
<line x1="1468.50" y1="228.00" x2="1473.90" y2="228.00" stroke="#000" stroke-width="1.30"/>
<line x1="1468.50" y1="321.00" x2="1473.90" y2="321.00" stroke="#000" stroke-width="1.30"/>
<line x1="1468.50" y1="412.50" x2="1473.90" y2="412.50" stroke="#000" stroke-width="1.30"/>
<line x1="1468.50" y1="504.40" x2="1473.90" y2="504.40" stroke="#000" stroke-width="1.30"/>
<line x1="1513.90" y1="519.80" x2="1513.90" y2="524.60" stroke="#000" stroke-width="1.30"/>
<line x1="1625.80" y1="519.80" x2="1625.80" y2="524.60" stroke="#000" stroke-width="1.30"/>
<line x1="1737.80" y1="519.80" x2="1737.80" y2="524.60" stroke="#000" stroke-width="1.30"/>
<line x1="1849.80" y1="519.80" x2="1849.80" y2="524.60" stroke="#000" stroke-width="1.30"/>
</g>
<g id="pd">
<circle cx="234.95" cy="801.94" r="1.8" fill="#F0CD2C" fill-opacity="0.82"/>
<circle cx="172.84" cy="789.98" r="1.8" fill="#75FE63" fill-opacity="0.82"/>
<circle cx="151.84" cy="737.85" r="1.8" fill="#75FE63" fill-opacity="0.82"/>
<circle cx="272.81" cy="701.37" r="1.8" fill="#C6EB3B" fill-opacity="0.82"/>
<circle cx="143.82" cy="709.55" r="1.8" fill="#FF8C1F" fill-opacity="0.82"/>
<circle cx="325.44" cy="791.78" r="1.8" fill="#FFB125" fill-opacity="0.82"/>
<circle cx="283.69" cy="776.33" r="1.8" fill="#900D00" fill-opacity="0.82"/>
<circle cx="294.21" cy="740.82" r="1.8" fill="#FFB727" fill-opacity="0.82"/>
<circle cx="326.41" cy="758.63" r="1.8" fill="#87FD58" fill-opacity="0.82"/>
<circle cx="341.18" cy="779.50" r="1.8" fill="#FFB626" fill-opacity="0.82"/>
<circle cx="146.94" cy="819.36" r="1.8" fill="#FFA723" fill-opacity="0.82"/>
<circle cx="314.91" cy="706.42" r="1.8" fill="#FFAD25" fill-opacity="0.82"/>
<circle cx="174.24" cy="844.97" r="1.8" fill="#DBDF33" fill-opacity="0.82"/>
<circle cx="179.38" cy="729.45" r="1.8" fill="#87FD58" fill-opacity="0.82"/>
<circle cx="200.56" cy="883.22" r="1.8" fill="#FFA523" fill-opacity="0.82"/>
<circle cx="189.92" cy="855.17" r="1.8" fill="#F3CA2B" fill-opacity="0.82"/>
<circle cx="186.38" cy="812.32" r="1.8" fill="#FFA022" fill-opacity="0.82"/>
<circle cx="263.30" cy="878.63" r="1.8" fill="#FF7C1C" fill-opacity="0.82"/>
<circle cx="174.03" cy="846.86" r="1.8" fill="#E84C14" fill-opacity="0.82"/>
<circle cx="270.02" cy="767.36" r="1.8" fill="#FF831E" fill-opacity="0.82"/>
<circle cx="353.34" cy="721.60" r="1.8" fill="#FB6819" fill-opacity="0.82"/>
<circle cx="198.08" cy="705.86" r="1.8" fill="#FF8F1F" fill-opacity="0.82"/>
<circle cx="182.99" cy="801.84" r="1.8" fill="#C3ED3C" fill-opacity="0.82"/>
<circle cx="215.56" cy="805.04" r="1.8" fill="#FF8A1F" fill-opacity="0.82"/>
<circle cx="290.36" cy="808.11" r="1.8" fill="#E54813" fill-opacity="0.82"/>
<circle cx="292.63" cy="902.69" r="1.8" fill="#D1E537" fill-opacity="0.82"/>
<circle cx="241.88" cy="844.62" r="1.8" fill="#900C00" fill-opacity="0.82"/>
<circle cx="300.99" cy="887.05" r="1.8" fill="#D7E135" fill-opacity="0.82"/>
<circle cx="314.04" cy="890.75" r="1.8" fill="#EBD22E" fill-opacity="0.82"/>
<circle cx="226.78" cy="859.63" r="1.8" fill="#B1F343" fill-opacity="0.82"/>
<circle cx="274.99" cy="757.58" r="1.8" fill="#E4D830" fill-opacity="0.82"/>
<circle cx="220.12" cy="845.76" r="1.8" fill="#FFA924" fill-opacity="0.82"/>
<circle cx="324.50" cy="682.95" r="1.8" fill="#FF891E" fill-opacity="0.82"/>
<circle cx="183.41" cy="836.58" r="1.8" fill="#BDEF3F" fill-opacity="0.82"/>
<circle cx="343.55" cy="725.96" r="1.8" fill="#FDBB28" fill-opacity="0.82"/>
<circle cx="232.53" cy="884.93" r="1.8" fill="#BEEE3E" fill-opacity="0.82"/>
<circle cx="176.05" cy="769.72" r="1.8" fill="#C3280B" fill-opacity="0.82"/>
<circle cx="265.28" cy="741.12" r="1.8" fill="#F9C229" fill-opacity="0.82"/>
<circle cx="324.21" cy="874.18" r="1.8" fill="#26B9E4" fill-opacity="0.82"/>
<circle cx="234.55" cy="730.79" r="1.8" fill="#FFAA24" fill-opacity="0.82"/>
<circle cx="275.17" cy="785.47" r="1.8" fill="#90FB53" fill-opacity="0.82"/>
<circle cx="201.70" cy="859.88" r="1.8" fill="#FF781C" fill-opacity="0.82"/>
<circle cx="185.08" cy="697.22" r="1.8" fill="#AEF445" fill-opacity="0.82"/>
<circle cx="281.97" cy="863.85" r="1.8" fill="#D5E335" fill-opacity="0.82"/>
<circle cx="176.25" cy="780.79" r="1.8" fill="#FF9621" fill-opacity="0.82"/>
<circle cx="171.55" cy="730.09" r="1.8" fill="#D1E537" fill-opacity="0.82"/>
<circle cx="250.74" cy="815.61" r="1.8" fill="#FFAB24" fill-opacity="0.82"/>
<circle cx="160.14" cy="775.38" r="1.8" fill="#EE5415" fill-opacity="0.82"/>
<circle cx="217.42" cy="804.20" r="1.8" fill="#8FFC53" fill-opacity="0.82"/>
<circle cx="281.11" cy="713.22" r="1.8" fill="#6EFE67" fill-opacity="0.82"/>
<circle cx="278.85" cy="841.42" r="1.8" fill="#A31302" fill-opacity="0.82"/>
<circle cx="254.57" cy="859.70" r="1.8" fill="#D5370F" fill-opacity="0.82"/>
<circle cx="328.54" cy="749.13" r="1.8" fill="#ECD12E" fill-opacity="0.82"/>
<circle cx="207.72" cy="858.98" r="1.8" fill="#FF811D" fill-opacity="0.82"/>
<circle cx="249.83" cy="842.89" r="1.8" fill="#E1DA31" fill-opacity="0.82"/>
<circle cx="278.22" cy="792.70" r="1.8" fill="#C3EC3C" fill-opacity="0.82"/>
<circle cx="202.31" cy="757.30" r="1.8" fill="#C72B0C" fill-opacity="0.82"/>
<circle cx="176.62" cy="795.98" r="1.8" fill="#EECF2D" fill-opacity="0.82"/>
<circle cx="222.94" cy="862.27" r="1.8" fill="#FFB827" fill-opacity="0.82"/>
<circle cx="254.98" cy="765.44" r="1.8" fill="#D5370F" fill-opacity="0.82"/>
<circle cx="192.46" cy="780.29" r="1.8" fill="#FFA523" fill-opacity="0.82"/>
<circle cx="240.56" cy="741.30" r="1.8" fill="#9FF94C" fill-opacity="0.82"/>
<circle cx="344.66" cy="694.37" r="1.8" fill="#FF701A" fill-opacity="0.82"/>
<circle cx="289.39" cy="742.52" r="1.8" fill="#D9E034" fill-opacity="0.82"/>
<circle cx="154.33" cy="844.72" r="1.8" fill="#CCE839" fill-opacity="0.82"/>
<circle cx="253.04" cy="771.19" r="1.8" fill="#FFA924" fill-opacity="0.82"/>
<circle cx="252.81" cy="701.93" r="1.8" fill="#BAF040" fill-opacity="0.82"/>
<circle cx="327.49" cy="814.93" r="1.8" fill="#FF891F" fill-opacity="0.82"/>
<circle cx="301.86" cy="864.63" r="1.8" fill="#F6C62A" fill-opacity="0.82"/>
<circle cx="161.07" cy="721.84" r="1.8" fill="#E64A13" fill-opacity="0.82"/>
<circle cx="313.27" cy="693.50" r="1.8" fill="#D9E034" fill-opacity="0.82"/>
<circle cx="288.31" cy="889.84" r="1.8" fill="#FF741B" fill-opacity="0.82"/>
<circle cx="247.32" cy="851.54" r="1.8" fill="#CFE738" fill-opacity="0.82"/>
<circle cx="249.44" cy="804.19" r="1.8" fill="#FE6E1A" fill-opacity="0.82"/>
<circle cx="177.31" cy="872.05" r="1.8" fill="#CA2E0C" fill-opacity="0.82"/>
<circle cx="205.82" cy="778.74" r="1.8" fill="#FFB226" fill-opacity="0.82"/>
<circle cx="325.87" cy="707.32" r="1.8" fill="#6BFD6A" fill-opacity="0.82"/>
<circle cx="168.30" cy="790.14" r="1.8" fill="#C92D0C" fill-opacity="0.82"/>
<circle cx="316.00" cy="838.17" r="1.8" fill="#B3F343" fill-opacity="0.82"/>
<circle cx="189.92" cy="889.82" r="1.8" fill="#89FC57" fill-opacity="0.82"/>
<circle cx="319.00" cy="763.41" r="1.8" fill="#D93B10" fill-opacity="0.82"/>
<circle cx="307.53" cy="763.44" r="1.8" fill="#FF9721" fill-opacity="0.82"/>
<circle cx="209.28" cy="779.21" r="1.8" fill="#F6C62A" fill-opacity="0.82"/>
<circle cx="208.37" cy="826.94" r="1.8" fill="#B4F242" fill-opacity="0.82"/>
<circle cx="292.69" cy="852.43" r="1.8" fill="#FF8F1F" fill-opacity="0.82"/>
<circle cx="189.54" cy="762.39" r="1.8" fill="#FF8C1F" fill-opacity="0.82"/>
<circle cx="340.11" cy="799.51" r="1.8" fill="#4B45BD" fill-opacity="0.82"/>
<circle cx="278.02" cy="864.38" r="1.8" fill="#ADF545" fill-opacity="0.82"/>
<circle cx="167.10" cy="779.94" r="1.8" fill="#FDBB27" fill-opacity="0.82"/>
<circle cx="268.70" cy="753.39" r="1.8" fill="#C7EB3B" fill-opacity="0.82"/>
<circle cx="220.47" cy="886.39" r="1.8" fill="#E14412" fill-opacity="0.82"/>
<circle cx="270.04" cy="690.77" r="1.8" fill="#FEB927" fill-opacity="0.82"/>
<circle cx="158.84" cy="772.72" r="1.8" fill="#FFB827" fill-opacity="0.82"/>
<circle cx="227.33" cy="856.49" r="1.8" fill="#900C00" fill-opacity="0.82"/>
<circle cx="274.99" cy="751.80" r="1.8" fill="#B0F444" fill-opacity="0.82"/>
<circle cx="276.88" cy="850.34" r="1.8" fill="#FF811D" fill-opacity="0.82"/>
<circle cx="228.64" cy="817.84" r="1.8" fill="#D4E436" fill-opacity="0.82"/>
<circle cx="286.90" cy="799.66" r="1.8" fill="#FFB226" fill-opacity="0.82"/>
<circle cx="241.02" cy="714.66" r="1.8" fill="#7CFD5F" fill-opacity="0.82"/>
<circle cx="308.35" cy="715.29" r="1.8" fill="#FF7C1D" fill-opacity="0.82"/>
<circle cx="317.89" cy="754.24" r="1.8" fill="#2BA8F0" fill-opacity="0.82"/>
<circle cx="303.10" cy="892.21" r="1.8" fill="#FFA022" fill-opacity="0.82"/>
<circle cx="149.26" cy="803.05" r="1.8" fill="#C0EE3D" fill-opacity="0.82"/>
<circle cx="147.65" cy="715.32" r="1.8" fill="#ED5315" fill-opacity="0.82"/>
<circle cx="200.48" cy="843.25" r="1.8" fill="#FFAB24" fill-opacity="0.82"/>
<circle cx="298.43" cy="753.60" r="1.8" fill="#DBDF34" fill-opacity="0.82"/>
<circle cx="200.71" cy="741.40" r="1.8" fill="#C52A0B" fill-opacity="0.82"/>
<circle cx="213.91" cy="753.39" r="1.8" fill="#FBBE28" fill-opacity="0.82"/>
<circle cx="219.92" cy="710.74" r="1.8" fill="#51F980" fill-opacity="0.82"/>
<circle cx="260.56" cy="706.15" r="1.8" fill="#D73910" fill-opacity="0.82"/>
<circle cx="256.24" cy="803.87" r="1.8" fill="#CEE738" fill-opacity="0.82"/>
<circle cx="256.86" cy="859.02" r="1.8" fill="#FF7D1D" fill-opacity="0.82"/>
<circle cx="301.00" cy="886.77" r="1.8" fill="#E0DB32" fill-opacity="0.82"/>
<circle cx="280.57" cy="723.36" r="1.8" fill="#95FB50" fill-opacity="0.82"/>
<circle cx="251.00" cy="853.18" r="1.8" fill="#FF9921" fill-opacity="0.82"/>
<circle cx="244.53" cy="796.33" r="1.8" fill="#C5EB3B" fill-opacity="0.82"/>
<circle cx="284.68" cy="875.38" r="1.8" fill="#A4F749" fill-opacity="0.82"/>
<circle cx="278.54" cy="792.96" r="1.8" fill="#55FA7C" fill-opacity="0.82"/>
<circle cx="227.81" cy="767.11" r="1.8" fill="#8DFC54" fill-opacity="0.82"/>
<circle cx="168.90" cy="713.09" r="1.8" fill="#FFB727" fill-opacity="0.82"/>
<circle cx="156.64" cy="824.00" r="1.8" fill="#F65F18" fill-opacity="0.82"/>
<circle cx="265.50" cy="889.32" r="1.8" fill="#FD6C1A" fill-opacity="0.82"/>
<circle cx="172.81" cy="716.34" r="1.8" fill="#BFEE3E" fill-opacity="0.82"/>
<circle cx="172.92" cy="732.27" r="1.8" fill="#6EFE68" fill-opacity="0.82"/>
<circle cx="202.32" cy="799.06" r="1.8" fill="#FEB827" fill-opacity="0.82"/>
<circle cx="219.31" cy="793.90" r="1.8" fill="#FF8C1F" fill-opacity="0.82"/>
<circle cx="314.85" cy="840.32" r="1.8" fill="#FC6B1A" fill-opacity="0.82"/>
<circle cx="190.19" cy="879.31" r="1.8" fill="#DADF34" fill-opacity="0.82"/>
<circle cx="164.95" cy="854.59" r="1.8" fill="#8FFB53" fill-opacity="0.82"/>
<circle cx="149.12" cy="729.48" r="1.8" fill="#FF9620" fill-opacity="0.82"/>
<circle cx="241.38" cy="779.17" r="1.8" fill="#D7E235" fill-opacity="0.82"/>
<circle cx="313.12" cy="766.24" r="1.8" fill="#FF831E" fill-opacity="0.82"/>
<circle cx="321.71" cy="714.10" r="1.8" fill="#E0DB32" fill-opacity="0.82"/>
<circle cx="202.25" cy="739.69" r="1.8" fill="#FF9721" fill-opacity="0.82"/>
<circle cx="238.40" cy="840.79" r="1.8" fill="#DCDF33" fill-opacity="0.82"/>
<circle cx="237.13" cy="903.73" r="1.8" fill="#D8E134" fill-opacity="0.82"/>
<circle cx="185.09" cy="803.03" r="1.8" fill="#EB5015" fill-opacity="0.82"/>
<circle cx="177.96" cy="816.02" r="1.8" fill="#FFB827" fill-opacity="0.82"/>
<circle cx="255.23" cy="736.55" r="1.8" fill="#FCBD28" fill-opacity="0.82"/>
<circle cx="176.39" cy="844.86" r="1.8" fill="#DA3C10" fill-opacity="0.82"/>
<circle cx="260.57" cy="842.95" r="1.8" fill="#81FD5B" fill-opacity="0.82"/>
<circle cx="151.90" cy="831.42" r="1.8" fill="#FE6F1A" fill-opacity="0.82"/>
<circle cx="223.33" cy="871.23" r="1.8" fill="#FF731B" fill-opacity="0.82"/>
<circle cx="158.79" cy="763.71" r="1.8" fill="#C62A0B" fill-opacity="0.82"/>
<circle cx="229.07" cy="789.89" r="1.8" fill="#81FD5C" fill-opacity="0.82"/>
<circle cx="206.89" cy="765.04" r="1.8" fill="#F6C62A" fill-opacity="0.82"/>
<circle cx="283.17" cy="814.15" r="1.8" fill="#F7C42A" fill-opacity="0.82"/>
<circle cx="154.66" cy="756.40" r="1.8" fill="#93FB51" fill-opacity="0.82"/>
<circle cx="321.44" cy="814.86" r="1.8" fill="#8FFC54" fill-opacity="0.82"/>
<circle cx="211.79" cy="787.10" r="1.8" fill="#BCEF3F" fill-opacity="0.82"/>
<circle cx="323.84" cy="711.30" r="1.8" fill="#CEE738" fill-opacity="0.82"/>
<circle cx="186.75" cy="806.12" r="1.8" fill="#FFAE25" fill-opacity="0.82"/>
<circle cx="339.74" cy="797.86" r="1.8" fill="#C7EA3A" fill-opacity="0.82"/>
<circle cx="338.11" cy="722.22" r="1.8" fill="#AAF646" fill-opacity="0.82"/>
<circle cx="173.05" cy="798.96" r="1.8" fill="#F35B17" fill-opacity="0.82"/>
<circle cx="285.73" cy="846.42" r="1.8" fill="#F9C229" fill-opacity="0.82"/>
<circle cx="238.58" cy="697.75" r="1.8" fill="#D7E235" fill-opacity="0.82"/>
<circle cx="191.17" cy="804.01" r="1.8" fill="#E1DB31" fill-opacity="0.82"/>
<circle cx="225.45" cy="817.95" r="1.8" fill="#77FE61" fill-opacity="0.82"/>
<circle cx="224.89" cy="770.49" r="1.8" fill="#E14412" fill-opacity="0.82"/>
<circle cx="252.02" cy="793.25" r="1.8" fill="#D2340E" fill-opacity="0.82"/>
<circle cx="298.34" cy="887.03" r="1.8" fill="#D2E537" fill-opacity="0.82"/>
<circle cx="304.44" cy="738.19" r="1.8" fill="#F96519" fill-opacity="0.82"/>
<circle cx="246.61" cy="761.18" r="1.8" fill="#DBDF33" fill-opacity="0.82"/>
<circle cx="252.08" cy="721.79" r="1.8" fill="#FFB526" fill-opacity="0.82"/>
<circle cx="331.03" cy="767.35" r="1.8" fill="#FE6D1A" fill-opacity="0.82"/>
<circle cx="303.22" cy="803.70" r="1.8" fill="#FF721B" fill-opacity="0.82"/>
<circle cx="186.59" cy="736.82" r="1.8" fill="#FF801D" fill-opacity="0.82"/>
<circle cx="212.71" cy="808.38" r="1.8" fill="#FA6719" fill-opacity="0.82"/>
<circle cx="245.63" cy="895.48" r="1.8" fill="#FBBF28" fill-opacity="0.82"/>
<circle cx="177.91" cy="735.84" r="1.8" fill="#C4290B" fill-opacity="0.82"/>
<circle cx="212.16" cy="780.12" r="1.8" fill="#B11C06" fill-opacity="0.82"/>
<circle cx="154.62" cy="843.44" r="1.8" fill="#BD2409" fill-opacity="0.82"/>
<circle cx="161.29" cy="835.99" r="1.8" fill="#F3CA2B" fill-opacity="0.82"/>
<circle cx="148.33" cy="717.81" r="1.8" fill="#D0E637" fill-opacity="0.82"/>
<circle cx="184.62" cy="828.15" r="1.8" fill="#FFAB24" fill-opacity="0.82"/>
<circle cx="283.59" cy="883.11" r="1.8" fill="#FF851E" fill-opacity="0.82"/>
<circle cx="284.75" cy="731.21" r="1.8" fill="#E54813" fill-opacity="0.82"/>
<circle cx="253.15" cy="673.34" r="1.8" fill="#FFB626" fill-opacity="0.82"/>
<circle cx="150.22" cy="733.29" r="1.8" fill="#EB4F15" fill-opacity="0.82"/>
<circle cx="194.75" cy="799.03" r="1.8" fill="#CB2F0D" fill-opacity="0.82"/>
<circle cx="237.10" cy="849.65" r="1.8" fill="#D0330E" fill-opacity="0.82"/>
<circle cx="245.98" cy="706.97" r="1.8" fill="#B7F141" fill-opacity="0.82"/>
<circle cx="311.65" cy="791.18" r="1.8" fill="#91FB52" fill-opacity="0.82"/>
<circle cx="288.75" cy="792.13" r="1.8" fill="#FF731B" fill-opacity="0.82"/>
<circle cx="271.07" cy="720.84" r="1.8" fill="#6AFD6B" fill-opacity="0.82"/>
<circle cx="312.48" cy="859.78" r="1.8" fill="#FFB125" fill-opacity="0.82"/>
<circle cx="295.81" cy="805.16" r="1.8" fill="#F35A17" fill-opacity="0.82"/>
<circle cx="230.84" cy="772.42" r="1.8" fill="#A5F749" fill-opacity="0.82"/>
<circle cx="261.98" cy="797.81" r="1.8" fill="#F76118" fill-opacity="0.82"/>
<circle cx="163.93" cy="739.75" r="1.8" fill="#F6C62A" fill-opacity="0.82"/>
<circle cx="191.42" cy="809.17" r="1.8" fill="#64FD6F" fill-opacity="0.82"/>
<circle cx="169.81" cy="725.71" r="1.8" fill="#DDDE33" fill-opacity="0.82"/>
<circle cx="144.18" cy="764.66" r="1.8" fill="#FF9621" fill-opacity="0.82"/>
<circle cx="235.63" cy="848.24" r="1.8" fill="#FD6C1A" fill-opacity="0.82"/>
<circle cx="221.16" cy="736.52" r="1.8" fill="#FF7D1D" fill-opacity="0.82"/>
<circle cx="300.30" cy="719.47" r="1.8" fill="#CDE738" fill-opacity="0.82"/>
<circle cx="223.51" cy="824.45" r="1.8" fill="#FFA022" fill-opacity="0.82"/>
<circle cx="291.17" cy="878.11" r="1.8" fill="#DF4111" fill-opacity="0.82"/>
<circle cx="325.59" cy="757.28" r="1.8" fill="#FF701B" fill-opacity="0.82"/>
<circle cx="210.60" cy="707.90" r="1.8" fill="#FF711B" fill-opacity="0.82"/>
<circle cx="238.51" cy="739.14" r="1.8" fill="#910B00" fill-opacity="0.82"/>
<circle cx="287.57" cy="877.68" r="1.8" fill="#FF9B21" fill-opacity="0.82"/>
<circle cx="214.17" cy="730.63" r="1.8" fill="#FA6719" fill-opacity="0.82"/>
<circle cx="190.86" cy="760.24" r="1.8" fill="#C9E93A" fill-opacity="0.82"/>
<circle cx="307.64" cy="842.86" r="1.8" fill="#F76118" fill-opacity="0.82"/>
<circle cx="204.72" cy="758.10" r="1.8" fill="#DC3E11" fill-opacity="0.82"/>
<circle cx="250.48" cy="675.73" r="1.8" fill="#EF5516" fill-opacity="0.82"/>
<circle cx="137.37" cy="740.07" r="1.8" fill="#E0DB32" fill-opacity="0.82"/>
<circle cx="190.41" cy="843.37" r="1.8" fill="#F45C17" fill-opacity="0.82"/>
<circle cx="177.51" cy="732.09" r="1.8" fill="#EDD02D" fill-opacity="0.82"/>
<circle cx="182.44" cy="735.02" r="1.8" fill="#F25917" fill-opacity="0.82"/>
<circle cx="261.30" cy="864.19" r="1.8" fill="#F4C92B" fill-opacity="0.82"/>
<circle cx="180.16" cy="834.30" r="1.8" fill="#436FF2" fill-opacity="0.82"/>
<circle cx="331.46" cy="720.65" r="1.8" fill="#FF881E" fill-opacity="0.82"/>
<circle cx="143.94" cy="757.84" r="1.8" fill="#FFAE25" fill-opacity="0.82"/>
<circle cx="194.92" cy="701.65" r="1.8" fill="#FFA824" fill-opacity="0.82"/>
<circle cx="292.72" cy="800.30" r="1.8" fill="#F35A17" fill-opacity="0.82"/>
<circle cx="220.80" cy="753.07" r="1.8" fill="#FFA122" fill-opacity="0.82"/>
<circle cx="265.92" cy="779.23" r="1.8" fill="#FD6D1A" fill-opacity="0.82"/>
<circle cx="173.15" cy="779.31" r="1.8" fill="#2F9DF5" fill-opacity="0.82"/>
<circle cx="274.03" cy="764.74" r="1.8" fill="#FFA323" fill-opacity="0.82"/>
<circle cx="322.47" cy="881.93" r="1.8" fill="#C62B0C" fill-opacity="0.82"/>
<circle cx="247.64" cy="739.15" r="1.8" fill="#25C1DC" fill-opacity="0.82"/>
<circle cx="164.77" cy="710.11" r="1.8" fill="#CCE839" fill-opacity="0.82"/>
<circle cx="256.16" cy="760.48" r="1.8" fill="#FFB526" fill-opacity="0.82"/>
<circle cx="280.84" cy="799.03" r="1.8" fill="#E5D830" fill-opacity="0.82"/>
<circle cx="207.38" cy="748.67" r="1.8" fill="#E0DB32" fill-opacity="0.82"/>
<circle cx="296.10" cy="835.85" r="1.8" fill="#25C6D8" fill-opacity="0.82"/>
<circle cx="274.21" cy="784.66" r="1.8" fill="#FABF29" fill-opacity="0.82"/>
<circle cx="196.28" cy="849.24" r="1.8" fill="#FF751B" fill-opacity="0.82"/>
<circle cx="171.25" cy="790.44" r="1.8" fill="#F86218" fill-opacity="0.82"/>
<circle cx="156.16" cy="774.90" r="1.8" fill="#FFA223" fill-opacity="0.82"/>
<circle cx="247.73" cy="861.11" r="1.8" fill="#ECD12E" fill-opacity="0.82"/>
<circle cx="188.42" cy="840.93" r="1.8" fill="#FFB426" fill-opacity="0.82"/>
<circle cx="322.22" cy="803.87" r="1.8" fill="#A0F84B" fill-opacity="0.82"/>
<circle cx="274.53" cy="869.75" r="1.8" fill="#FF8C1F" fill-opacity="0.82"/>
<circle cx="183.60" cy="708.16" r="1.8" fill="#E0DB32" fill-opacity="0.82"/>
<circle cx="289.52" cy="766.83" r="1.8" fill="#FF7E1D" fill-opacity="0.82"/>
<circle cx="141.30" cy="840.32" r="1.8" fill="#FF8F1F" fill-opacity="0.82"/>
<circle cx="196.36" cy="844.81" r="1.8" fill="#FF781C" fill-opacity="0.82"/>
<circle cx="255.87" cy="782.76" r="1.8" fill="#FFB226" fill-opacity="0.82"/>
<circle cx="315.71" cy="871.67" r="1.8" fill="#F1CC2C" fill-opacity="0.82"/>
<circle cx="256.66" cy="862.04" r="1.8" fill="#FF8E1F" fill-opacity="0.82"/>
<circle cx="243.28" cy="692.09" r="1.8" fill="#FF801D" fill-opacity="0.82"/>
<circle cx="275.07" cy="730.50" r="1.8" fill="#FEBA27" fill-opacity="0.82"/>
<circle cx="214.88" cy="726.90" r="1.8" fill="#FA6719" fill-opacity="0.82"/>
<circle cx="148.19" cy="707.62" r="1.8" fill="#970D00" fill-opacity="0.82"/>
<circle cx="176.91" cy="878.81" r="1.8" fill="#FFAF25" fill-opacity="0.82"/>
<circle cx="143.37" cy="799.64" r="1.8" fill="#B7F141" fill-opacity="0.82"/>
<circle cx="194.29" cy="896.72" r="1.8" fill="#A31302" fill-opacity="0.82"/>
<circle cx="169.17" cy="691.69" r="1.8" fill="#FFA924" fill-opacity="0.82"/>
<circle cx="304.83" cy="739.50" r="1.8" fill="#FB6819" fill-opacity="0.82"/>
<circle cx="313.81" cy="845.85" r="1.8" fill="#B0F444" fill-opacity="0.82"/>
<circle cx="322.02" cy="853.93" r="1.8" fill="#F76118" fill-opacity="0.82"/>
<circle cx="220.11" cy="754.33" r="1.8" fill="#70FE66" fill-opacity="0.82"/>
<circle cx="214.61" cy="821.51" r="1.8" fill="#FFA824" fill-opacity="0.82"/>
<circle cx="151.84" cy="745.70" r="1.8" fill="#FF801D" fill-opacity="0.82"/>
<circle cx="302.42" cy="798.56" r="1.8" fill="#FD6C1A" fill-opacity="0.82"/>
<circle cx="211.28" cy="769.69" r="1.8" fill="#FFAF25" fill-opacity="0.82"/>
<circle cx="223.58" cy="742.37" r="1.8" fill="#26D0CD" fill-opacity="0.82"/>
<circle cx="204.45" cy="850.53" r="1.8" fill="#3DF196" fill-opacity="0.82"/>
<circle cx="229.79" cy="902.67" r="1.8" fill="#FEB927" fill-opacity="0.82"/>
<circle cx="193.42" cy="831.30" r="1.8" fill="#FAC129" fill-opacity="0.82"/>
<circle cx="172.56" cy="751.30" r="1.8" fill="#FF831E" fill-opacity="0.82"/>
<circle cx="279.38" cy="715.07" r="1.8" fill="#DB3D11" fill-opacity="0.82"/>
<circle cx="328.67" cy="819.16" r="1.8" fill="#E7D62F" fill-opacity="0.82"/>
<circle cx="290.04" cy="775.30" r="1.8" fill="#FF9D22" fill-opacity="0.82"/>
<circle cx="219.24" cy="719.51" r="1.8" fill="#C6EB3B" fill-opacity="0.82"/>
<circle cx="275.54" cy="773.70" r="1.8" fill="#CBE839" fill-opacity="0.82"/>
<circle cx="346.13" cy="699.98" r="1.8" fill="#940C00" fill-opacity="0.82"/>
<circle cx="331.25" cy="693.67" r="1.8" fill="#F6C52A" fill-opacity="0.82"/>
<circle cx="184.32" cy="872.05" r="1.8" fill="#C1270A" fill-opacity="0.82"/>
<circle cx="317.26" cy="775.52" r="1.8" fill="#56FB7B" fill-opacity="0.82"/>
<circle cx="175.47" cy="731.91" r="1.8" fill="#FF9821" fill-opacity="0.82"/>
<circle cx="210.22" cy="878.21" r="1.8" fill="#FF821D" fill-opacity="0.82"/>
<circle cx="172.16" cy="759.16" r="1.8" fill="#D2E537" fill-opacity="0.82"/>
<circle cx="359.18" cy="713.68" r="1.8" fill="#D3360F" fill-opacity="0.82"/>
<circle cx="298.82" cy="711.27" r="1.8" fill="#FFA423" fill-opacity="0.82"/>
<circle cx="203.16" cy="819.43" r="1.8" fill="#CDE738" fill-opacity="0.82"/>
<circle cx="290.95" cy="778.62" r="1.8" fill="#F35A17" fill-opacity="0.82"/>
<circle cx="212.95" cy="711.04" r="1.8" fill="#C1ED3D" fill-opacity="0.82"/>
<circle cx="300.81" cy="752.08" r="1.8" fill="#FFA523" fill-opacity="0.82"/>
<circle cx="228.54" cy="867.04" r="1.8" fill="#FFA022" fill-opacity="0.82"/>
<circle cx="196.09" cy="880.16" r="1.8" fill="#6CFD69" fill-opacity="0.82"/>
<circle cx="269.49" cy="774.10" r="1.8" fill="#F5C72B" fill-opacity="0.82"/>
<circle cx="195.26" cy="772.22" r="1.8" fill="#FBBF28" fill-opacity="0.82"/>
<circle cx="186.77" cy="764.88" r="1.8" fill="#E54813" fill-opacity="0.82"/>
<circle cx="188.38" cy="767.16" r="1.8" fill="#89FC57" fill-opacity="0.82"/>
<circle cx="256.65" cy="686.86" r="1.8" fill="#FF8C1F" fill-opacity="0.82"/>
<circle cx="214.35" cy="755.62" r="1.8" fill="#B1F343" fill-opacity="0.82"/>
<circle cx="238.85" cy="752.44" r="1.8" fill="#FF9320" fill-opacity="0.82"/>
<circle cx="285.64" cy="813.39" r="1.8" fill="#29DCBD" fill-opacity="0.82"/>
<circle cx="322.25" cy="824.49" r="1.8" fill="#940C00" fill-opacity="0.82"/>
<circle cx="145.44" cy="777.56" r="1.8" fill="#D8E135" fill-opacity="0.82"/>
<circle cx="178.59" cy="754.48" r="1.8" fill="#FF7A1C" fill-opacity="0.82"/>
<circle cx="280.56" cy="817.75" r="1.8" fill="#FB6819" fill-opacity="0.82"/>
<circle cx="254.33" cy="795.42" r="1.8" fill="#57FB7A" fill-opacity="0.82"/>
<circle cx="199.96" cy="788.83" r="1.8" fill="#D2E537" fill-opacity="0.82"/>
<circle cx="187.25" cy="765.48" r="1.8" fill="#FE6F1A" fill-opacity="0.82"/>
<circle cx="234.79" cy="801.53" r="1.8" fill="#9BF94D" fill-opacity="0.82"/>
<circle cx="224.29" cy="815.05" r="1.8" fill="#2BE1B5" fill-opacity="0.82"/>
<circle cx="319.88" cy="845.61" r="1.8" fill="#FF7A1C" fill-opacity="0.82"/>
<circle cx="155.58" cy="737.19" r="1.8" fill="#CBE939" fill-opacity="0.82"/>
<circle cx="148.18" cy="727.21" r="1.8" fill="#D83A10" fill-opacity="0.82"/>
<circle cx="281.73" cy="883.67" r="1.8" fill="#E0DB32" fill-opacity="0.82"/>
<circle cx="246.22" cy="887.97" r="1.8" fill="#FFB727" fill-opacity="0.82"/>
<circle cx="215.34" cy="769.31" r="1.8" fill="#F8C42A" fill-opacity="0.82"/>
<circle cx="229.87" cy="774.70" r="1.8" fill="#91FB52" fill-opacity="0.82"/>
<circle cx="257.03" cy="761.94" r="1.8" fill="#FD6B1A" fill-opacity="0.82"/>
<circle cx="216.29" cy="740.60" r="1.8" fill="#FF751B" fill-opacity="0.82"/>
<circle cx="214.83" cy="811.51" r="1.8" fill="#F3CA2B" fill-opacity="0.82"/>
<circle cx="271.33" cy="809.36" r="1.8" fill="#EBD22E" fill-opacity="0.82"/>
<circle cx="192.67" cy="860.91" r="1.8" fill="#73FE64" fill-opacity="0.82"/>
<circle cx="223.33" cy="733.44" r="1.8" fill="#EA4E14" fill-opacity="0.82"/>
<circle cx="206.14" cy="741.34" r="1.8" fill="#73FE64" fill-opacity="0.82"/>
<circle cx="279.01" cy="676.19" r="1.8" fill="#FF881E" fill-opacity="0.82"/>
<circle cx="304.36" cy="756.46" r="1.8" fill="#F6C62A" fill-opacity="0.82"/>
<circle cx="157.37" cy="741.98" r="1.8" fill="#F15716" fill-opacity="0.82"/>
<circle cx="284.57" cy="799.03" r="1.8" fill="#F35B17" fill-opacity="0.82"/>
<circle cx="201.93" cy="900.47" r="1.8" fill="#CB2F0D" fill-opacity="0.82"/>
<circle cx="254.43" cy="871.81" r="1.8" fill="#BE250A" fill-opacity="0.82"/>
<circle cx="217.59" cy="830.59" r="1.8" fill="#FCBD28" fill-opacity="0.82"/>
<circle cx="168.63" cy="808.46" r="1.8" fill="#F6C62A" fill-opacity="0.82"/>
<circle cx="168.01" cy="749.44" r="1.8" fill="#B5F242" fill-opacity="0.82"/>
<circle cx="325.41" cy="751.57" r="1.8" fill="#FFA623" fill-opacity="0.82"/>
<circle cx="184.19" cy="727.32" r="1.8" fill="#CBE839" fill-opacity="0.82"/>
<circle cx="321.36" cy="756.39" r="1.8" fill="#FFAF25" fill-opacity="0.82"/>
<circle cx="273.29" cy="801.88" r="1.8" fill="#E14312" fill-opacity="0.82"/>
<circle cx="183.67" cy="850.28" r="1.8" fill="#FFB025" fill-opacity="0.82"/>
<circle cx="261.79" cy="799.88" r="1.8" fill="#EE5315" fill-opacity="0.82"/>
<circle cx="316.93" cy="686.42" r="1.8" fill="#FF801D" fill-opacity="0.82"/>
<circle cx="176.23" cy="795.74" r="1.8" fill="#FF731B" fill-opacity="0.82"/>
<circle cx="214.45" cy="899.76" r="1.8" fill="#F0CD2C" fill-opacity="0.82"/>
<circle cx="188.83" cy="735.26" r="1.8" fill="#FF861E" fill-opacity="0.82"/>
<circle cx="196.13" cy="731.40" r="1.8" fill="#CE310D" fill-opacity="0.82"/>
<circle cx="271.38" cy="797.95" r="1.8" fill="#B1F343" fill-opacity="0.82"/>
<circle cx="309.85" cy="726.96" r="1.8" fill="#EC5015" fill-opacity="0.82"/>
<circle cx="214.14" cy="858.82" r="1.8" fill="#F3C92B" fill-opacity="0.82"/>
<circle cx="210.91" cy="720.05" r="1.8" fill="#F45C17" fill-opacity="0.82"/>
<circle cx="339.20" cy="687.50" r="1.8" fill="#F86318" fill-opacity="0.82"/>
<circle cx="312.08" cy="792.30" r="1.8" fill="#CAE939" fill-opacity="0.82"/>
<circle cx="172.82" cy="793.68" r="1.8" fill="#FFAC24" fill-opacity="0.82"/>
<circle cx="226.81" cy="783.47" r="1.8" fill="#FF9921" fill-opacity="0.82"/>
<circle cx="161.30" cy="737.05" r="1.8" fill="#F7C42A" fill-opacity="0.82"/>
<circle cx="267.03" cy="833.43" r="1.8" fill="#B5F242" fill-opacity="0.82"/>
<circle cx="250.59" cy="807.02" r="1.8" fill="#7FFD5C" fill-opacity="0.82"/>
<circle cx="224.57" cy="745.89" r="1.8" fill="#FF751B" fill-opacity="0.82"/>
<circle cx="252.06" cy="745.85" r="1.8" fill="#FFB226" fill-opacity="0.82"/>
<circle cx="170.76" cy="699.49" r="1.8" fill="#FF8D1F" fill-opacity="0.82"/>
<circle cx="311.81" cy="745.22" r="1.8" fill="#CAE93A" fill-opacity="0.82"/>
<circle cx="189.14" cy="881.25" r="1.8" fill="#F45B17" fill-opacity="0.82"/>
<circle cx="199.95" cy="744.40" r="1.8" fill="#D2E537" fill-opacity="0.82"/>
<circle cx="180.54" cy="765.59" r="1.8" fill="#F2CB2C" fill-opacity="0.82"/>
<circle cx="212.70" cy="889.75" r="1.8" fill="#FF9F22" fill-opacity="0.82"/>
<circle cx="311.49" cy="746.54" r="1.8" fill="#FF9C22" fill-opacity="0.82"/>
<circle cx="196.60" cy="810.32" r="1.8" fill="#FFB526" fill-opacity="0.82"/>
<circle cx="245.76" cy="757.10" r="1.8" fill="#D2340E" fill-opacity="0.82"/>
<circle cx="163.28" cy="713.40" r="1.8" fill="#27D7C3" fill-opacity="0.82"/>
<circle cx="345.93" cy="697.44" r="1.8" fill="#D5380F" fill-opacity="0.82"/>
<circle cx="174.70" cy="695.92" r="1.8" fill="#D5380F" fill-opacity="0.82"/>
<circle cx="235.27" cy="755.08" r="1.8" fill="#DEDD32" fill-opacity="0.82"/>
<circle cx="172.42" cy="692.70" r="1.8" fill="#A9F647" fill-opacity="0.82"/>
<circle cx="306.48" cy="893.05" r="1.8" fill="#FF841E" fill-opacity="0.82"/>
<circle cx="206.66" cy="804.11" r="1.8" fill="#90FB53" fill-opacity="0.82"/>
<circle cx="269.92" cy="873.50" r="1.8" fill="#FF791C" fill-opacity="0.82"/>
<circle cx="306.95" cy="762.13" r="1.8" fill="#F96519" fill-opacity="0.82"/>
<circle cx="315.41" cy="786.79" r="1.8" fill="#FF9A21" fill-opacity="0.82"/>
<circle cx="139.64" cy="727.14" r="1.8" fill="#EFCE2D" fill-opacity="0.82"/>
<circle cx="203.57" cy="751.14" r="1.8" fill="#D1E537" fill-opacity="0.82"/>
<circle cx="226.74" cy="797.03" r="1.8" fill="#FFAA24" fill-opacity="0.82"/>
<circle cx="167.73" cy="789.21" r="1.8" fill="#FCBD28" fill-opacity="0.82"/>
<circle cx="169.66" cy="842.85" r="1.8" fill="#E5D730" fill-opacity="0.82"/>
<circle cx="210.53" cy="801.83" r="1.8" fill="#AE1905" fill-opacity="0.82"/>
<circle cx="249.30" cy="756.74" r="1.8" fill="#FEB927" fill-opacity="0.82"/>
<circle cx="276.60" cy="777.56" r="1.8" fill="#FF9D22" fill-opacity="0.82"/>
<circle cx="241.78" cy="822.32" r="1.8" fill="#FCBD28" fill-opacity="0.82"/>
<circle cx="315.59" cy="720.62" r="1.8" fill="#7AFE60" fill-opacity="0.82"/>
<circle cx="189.08" cy="887.71" r="1.8" fill="#E1DB32" fill-opacity="0.82"/>
<circle cx="243.65" cy="782.55" r="1.8" fill="#65FD6E" fill-opacity="0.82"/>
<circle cx="246.70" cy="747.62" r="1.8" fill="#F86218" fill-opacity="0.82"/>
<circle cx="315.00" cy="839.91" r="1.8" fill="#56FB7B" fill-opacity="0.82"/>
<circle cx="170.88" cy="865.68" r="1.8" fill="#FF711B" fill-opacity="0.82"/>
<circle cx="248.74" cy="747.79" r="1.8" fill="#C9E93A" fill-opacity="0.82"/>
<circle cx="144.96" cy="828.80" r="1.8" fill="#26D0CC" fill-opacity="0.82"/>
<circle cx="173.13" cy="835.56" r="1.8" fill="#2CA6F1" fill-opacity="0.82"/>
<circle cx="274.51" cy="693.32" r="1.8" fill="#F55D17" fill-opacity="0.82"/>
<circle cx="312.20" cy="880.40" r="1.8" fill="#E34613" fill-opacity="0.82"/>
<circle cx="278.28" cy="784.98" r="1.8" fill="#FFAB24" fill-opacity="0.82"/>
<circle cx="314.59" cy="719.18" r="1.8" fill="#79FE60" fill-opacity="0.82"/>
<circle cx="291.11" cy="790.96" r="1.8" fill="#FFAB24" fill-opacity="0.82"/>
<circle cx="289.22" cy="897.55" r="1.8" fill="#B92108" fill-opacity="0.82"/>
<circle cx="341.47" cy="734.64" r="1.8" fill="#EBD22E" fill-opacity="0.82"/>
<circle cx="207.32" cy="731.82" r="1.8" fill="#FCBD28" fill-opacity="0.82"/>
<circle cx="239.74" cy="848.15" r="1.8" fill="#FF831E" fill-opacity="0.82"/>
<circle cx="212.43" cy="793.73" r="1.8" fill="#C4EC3C" fill-opacity="0.82"/>
<circle cx="226.14" cy="763.69" r="1.8" fill="#FFAD24" fill-opacity="0.82"/>
<circle cx="230.45" cy="833.41" r="1.8" fill="#C9EA3A" fill-opacity="0.82"/>
<circle cx="278.75" cy="896.59" r="1.8" fill="#FEB927" fill-opacity="0.82"/>
<circle cx="252.43" cy="709.34" r="1.8" fill="#FF881E" fill-opacity="0.82"/>
<circle cx="164.87" cy="799.82" r="1.8" fill="#C9EA3A" fill-opacity="0.82"/>
<circle cx="307.93" cy="823.93" r="1.8" fill="#F6C52A" fill-opacity="0.82"/>
<circle cx="146.48" cy="729.36" r="1.8" fill="#FFA824" fill-opacity="0.82"/>
<circle cx="262.98" cy="848.06" r="1.8" fill="#DBDF33" fill-opacity="0.82"/>
<circle cx="288.07" cy="815.92" r="1.8" fill="#D0E637" fill-opacity="0.82"/>
<circle cx="220.71" cy="779.14" r="1.8" fill="#25C5D9" fill-opacity="0.82"/>
<circle cx="327.69" cy="783.66" r="1.8" fill="#FFAC24" fill-opacity="0.82"/>
<circle cx="200.57" cy="717.24" r="1.8" fill="#FFB727" fill-opacity="0.82"/>
<circle cx="225.22" cy="761.70" r="1.8" fill="#FD6D1A" fill-opacity="0.82"/>
<circle cx="234.02" cy="753.45" r="1.8" fill="#EDD02D" fill-opacity="0.82"/>
<circle cx="203.21" cy="817.96" r="1.8" fill="#FFB326" fill-opacity="0.82"/>
<circle cx="239.86" cy="881.89" r="1.8" fill="#F3C92B" fill-opacity="0.82"/>
<circle cx="223.13" cy="829.79" r="1.8" fill="#FCBD28" fill-opacity="0.82"/>
<circle cx="282.14" cy="829.20" r="1.8" fill="#94FB51" fill-opacity="0.82"/>
<circle cx="182.43" cy="854.59" r="1.8" fill="#2F9DF5" fill-opacity="0.82"/>
<circle cx="190.20" cy="815.38" r="1.8" fill="#FF9C22" fill-opacity="0.82"/>
<circle cx="143.87" cy="807.75" r="1.8" fill="#60FC72" fill-opacity="0.82"/>
<circle cx="295.21" cy="852.43" r="1.8" fill="#DDDE33" fill-opacity="0.82"/>
<circle cx="188.36" cy="838.30" r="1.8" fill="#D7E235" fill-opacity="0.82"/>
<circle cx="311.11" cy="743.19" r="1.8" fill="#26BBE2" fill-opacity="0.82"/>
<circle cx="193.67" cy="803.79" r="1.8" fill="#FFA924" fill-opacity="0.82"/>
<circle cx="317.00" cy="767.00" r="1.8" fill="#E3D931" fill-opacity="0.82"/>
<circle cx="236.80" cy="794.46" r="1.8" fill="#DDDD33" fill-opacity="0.82"/>
<circle cx="290.53" cy="834.55" r="1.8" fill="#FDBB27" fill-opacity="0.82"/>
<circle cx="193.48" cy="751.60" r="1.8" fill="#FF8B1F" fill-opacity="0.82"/>
<circle cx="164.48" cy="739.78" r="1.8" fill="#BE2409" fill-opacity="0.82"/>
<circle cx="187.94" cy="706.48" r="1.8" fill="#FD6C1A" fill-opacity="0.82"/>
<circle cx="191.34" cy="784.28" r="1.8" fill="#FF9721" fill-opacity="0.82"/>
<circle cx="319.98" cy="876.88" r="1.8" fill="#C6EB3B" fill-opacity="0.82"/>
<circle cx="333.79" cy="716.60" r="1.8" fill="#F7C52A" fill-opacity="0.82"/>
<circle cx="232.51" cy="865.08" r="1.8" fill="#DAE034" fill-opacity="0.82"/>
<circle cx="181.67" cy="816.92" r="1.8" fill="#26BBE2" fill-opacity="0.82"/>
<circle cx="209.17" cy="772.01" r="1.8" fill="#95FB50" fill-opacity="0.82"/>
<circle cx="169.77" cy="750.79" r="1.8" fill="#FF861E" fill-opacity="0.82"/>
<circle cx="214.51" cy="719.19" r="1.8" fill="#FF781C" fill-opacity="0.82"/>
<circle cx="325.14" cy="797.81" r="1.8" fill="#FF7D1D" fill-opacity="0.82"/>
<circle cx="140.27" cy="750.27" r="1.8" fill="#D0E537" fill-opacity="0.82"/>
<circle cx="170.92" cy="730.17" r="1.8" fill="#C6EB3B" fill-opacity="0.82"/>
<circle cx="204.80" cy="778.86" r="1.8" fill="#BFEE3E" fill-opacity="0.82"/>
<circle cx="187.74" cy="735.04" r="1.8" fill="#FA6519" fill-opacity="0.82"/>
<circle cx="202.01" cy="810.01" r="1.8" fill="#FB6819" fill-opacity="0.82"/>
<circle cx="248.73" cy="739.97" r="1.8" fill="#63FD70" fill-opacity="0.82"/>
<circle cx="274.45" cy="826.85" r="1.8" fill="#F7C52A" fill-opacity="0.82"/>
<circle cx="246.96" cy="779.15" r="1.8" fill="#D6E235" fill-opacity="0.82"/>
<circle cx="312.95" cy="885.15" r="1.8" fill="#FF771C" fill-opacity="0.82"/>
<circle cx="314.76" cy="817.09" r="1.8" fill="#FF701B" fill-opacity="0.82"/>
<circle cx="290.48" cy="848.14" r="1.8" fill="#E6D630" fill-opacity="0.82"/>
<circle cx="147.26" cy="723.73" r="1.8" fill="#BDEF3F" fill-opacity="0.82"/>
<circle cx="249.44" cy="739.46" r="1.8" fill="#D4E436" fill-opacity="0.82"/>
<circle cx="220.37" cy="821.88" r="1.8" fill="#CBE839" fill-opacity="0.82"/>
<circle cx="267.32" cy="807.60" r="1.8" fill="#FF9E22" fill-opacity="0.82"/>
<circle cx="180.30" cy="773.74" r="1.8" fill="#F6C52A" fill-opacity="0.82"/>
<circle cx="264.04" cy="819.89" r="1.8" fill="#FF7D1D" fill-opacity="0.82"/>
<circle cx="277.74" cy="727.56" r="1.8" fill="#6AFD6A" fill-opacity="0.82"/>
<circle cx="315.11" cy="697.13" r="1.8" fill="#FB6919" fill-opacity="0.82"/>
<circle cx="322.08" cy="708.11" r="1.8" fill="#DFDC32" fill-opacity="0.82"/>
<circle cx="218.82" cy="867.91" r="1.8" fill="#D5E336" fill-opacity="0.82"/>
<circle cx="354.65" cy="721.98" r="1.8" fill="#BD2409" fill-opacity="0.82"/>
<circle cx="185.03" cy="734.48" r="1.8" fill="#E8D52F" fill-opacity="0.82"/>
<circle cx="275.66" cy="757.78" r="1.8" fill="#FEB927" fill-opacity="0.82"/>
<circle cx="143.66" cy="785.00" r="1.8" fill="#D0E637" fill-opacity="0.82"/>
<circle cx="164.41" cy="810.12" r="1.8" fill="#FF741B" fill-opacity="0.82"/>
<circle cx="246.05" cy="786.93" r="1.8" fill="#CDE839" fill-opacity="0.82"/>
<circle cx="325.81" cy="816.91" r="1.8" fill="#86FD59" fill-opacity="0.82"/>
<circle cx="164.27" cy="702.58" r="1.8" fill="#FA6619" fill-opacity="0.82"/>
<circle cx="269.57" cy="891.08" r="1.8" fill="#FF841E" fill-opacity="0.82"/>
<circle cx="196.51" cy="709.75" r="1.8" fill="#FF7E1D" fill-opacity="0.82"/>
<circle cx="169.12" cy="795.88" r="1.8" fill="#FF7F1D" fill-opacity="0.82"/>
<circle cx="261.81" cy="788.99" r="1.8" fill="#FF9C22" fill-opacity="0.82"/>
<circle cx="174.86" cy="745.94" r="1.8" fill="#CA2D0C" fill-opacity="0.82"/>
<circle cx="266.33" cy="760.04" r="1.8" fill="#C4290B" fill-opacity="0.82"/>
<circle cx="294.27" cy="755.03" r="1.8" fill="#C3280B" fill-opacity="0.82"/>
<circle cx="139.48" cy="733.13" r="1.8" fill="#7EFD5D" fill-opacity="0.82"/>
<circle cx="344.54" cy="708.43" r="1.8" fill="#57FB7A" fill-opacity="0.82"/>
<circle cx="301.79" cy="878.48" r="1.8" fill="#F1CC2C" fill-opacity="0.82"/>
<circle cx="263.89" cy="884.49" r="1.8" fill="#6BFD6A" fill-opacity="0.82"/>
<circle cx="282.16" cy="902.09" r="1.8" fill="#FBBF28" fill-opacity="0.82"/>
<circle cx="194.89" cy="742.71" r="1.8" fill="#FF7A1C" fill-opacity="0.82"/>
<circle cx="233.82" cy="876.30" r="1.8" fill="#F4C82B" fill-opacity="0.82"/>
<circle cx="174.02" cy="874.28" r="1.8" fill="#E2DA31" fill-opacity="0.82"/>
<circle cx="296.12" cy="720.12" r="1.8" fill="#99FA4E" fill-opacity="0.82"/>
<circle cx="227.66" cy="741.43" r="1.8" fill="#E8D52F" fill-opacity="0.82"/>
<circle cx="302.06" cy="777.74" r="1.8" fill="#FC6A19" fill-opacity="0.82"/>
<circle cx="177.10" cy="816.15" r="1.8" fill="#FFAA24" fill-opacity="0.82"/>
<circle cx="226.04" cy="707.81" r="1.8" fill="#B1F343" fill-opacity="0.82"/>
<circle cx="236.58" cy="868.12" r="1.8" fill="#96FA50" fill-opacity="0.82"/>
<circle cx="328.63" cy="755.04" r="1.8" fill="#DAE034" fill-opacity="0.82"/>
<circle cx="253.32" cy="694.02" r="1.8" fill="#7AFE60" fill-opacity="0.82"/>
<circle cx="209.90" cy="692.08" r="1.8" fill="#8DFC55" fill-opacity="0.82"/>
<circle cx="265.04" cy="877.77" r="1.8" fill="#2F9DF5" fill-opacity="0.82"/>
<circle cx="196.58" cy="855.59" r="1.8" fill="#FFA022" fill-opacity="0.82"/>
<circle cx="191.10" cy="812.38" r="1.8" fill="#CDE738" fill-opacity="0.82"/>
<circle cx="197.30" cy="775.92" r="1.8" fill="#52FA7F" fill-opacity="0.82"/>
<circle cx="242.28" cy="761.50" r="1.8" fill="#FF9B21" fill-opacity="0.82"/>
<circle cx="148.43" cy="831.48" r="1.8" fill="#FF8F1F" fill-opacity="0.82"/>
<circle cx="307.16" cy="773.12" r="1.8" fill="#FFAA24" fill-opacity="0.82"/>
<circle cx="336.10" cy="715.31" r="1.8" fill="#D83A10" fill-opacity="0.82"/>
<circle cx="144.94" cy="830.78" r="1.8" fill="#FFB526" fill-opacity="0.82"/>
<circle cx="270.37" cy="674.73" r="1.8" fill="#FFA122" fill-opacity="0.82"/>
<circle cx="239.06" cy="887.15" r="1.8" fill="#F25816" fill-opacity="0.82"/>
<circle cx="140.48" cy="812.85" r="1.8" fill="#FFAB24" fill-opacity="0.82"/>
<circle cx="279.24" cy="680.38" r="1.8" fill="#D5370F" fill-opacity="0.82"/>
<circle cx="273.39" cy="742.09" r="1.8" fill="#CE310D" fill-opacity="0.82"/>
<circle cx="246.95" cy="696.98" r="1.8" fill="#28B3E9" fill-opacity="0.82"/>
<circle cx="330.66" cy="724.20" r="1.8" fill="#FFA623" fill-opacity="0.82"/>
<circle cx="306.17" cy="746.18" r="1.8" fill="#E7D62F" fill-opacity="0.82"/>
<circle cx="298.80" cy="777.89" r="1.8" fill="#F86218" fill-opacity="0.82"/>
<circle cx="245.14" cy="823.12" r="1.8" fill="#FF9620" fill-opacity="0.82"/>
<circle cx="159.84" cy="837.67" r="1.8" fill="#CFE638" fill-opacity="0.82"/>
<circle cx="280.42" cy="755.59" r="1.8" fill="#F0CD2C" fill-opacity="0.82"/>
<circle cx="280.17" cy="750.13" r="1.8" fill="#81FD5B" fill-opacity="0.82"/>
<circle cx="325.72" cy="758.52" r="1.8" fill="#FF9420" fill-opacity="0.82"/>
<circle cx="157.15" cy="697.55" r="1.8" fill="#C4290B" fill-opacity="0.82"/>
<circle cx="211.85" cy="780.35" r="1.8" fill="#FFAF25" fill-opacity="0.82"/>
<circle cx="228.49" cy="731.55" r="1.8" fill="#FF8E1F" fill-opacity="0.82"/>
<circle cx="205.66" cy="709.88" r="1.8" fill="#FF9220" fill-opacity="0.82"/>
<circle cx="313.78" cy="812.76" r="1.8" fill="#F8C329" fill-opacity="0.82"/>
<circle cx="331.39" cy="805.59" r="1.8" fill="#6BFD69" fill-opacity="0.82"/>
<circle cx="150.92" cy="801.30" r="1.8" fill="#FF801D" fill-opacity="0.82"/>
<circle cx="239.73" cy="856.44" r="1.8" fill="#FE6F1A" fill-opacity="0.82"/>
<circle cx="252.97" cy="765.38" r="1.8" fill="#C1ED3D" fill-opacity="0.82"/>
<circle cx="313.01" cy="868.30" r="1.8" fill="#FF8F1F" fill-opacity="0.82"/>
<circle cx="201.82" cy="771.75" r="1.8" fill="#C5EC3B" fill-opacity="0.82"/>
<circle cx="206.95" cy="873.40" r="1.8" fill="#ED5115" fill-opacity="0.82"/>
<circle cx="257.07" cy="685.27" r="1.8" fill="#FF791C" fill-opacity="0.82"/>
<circle cx="267.08" cy="828.74" r="1.8" fill="#EBD22E" fill-opacity="0.82"/>
<circle cx="177.16" cy="777.59" r="1.8" fill="#D4E336" fill-opacity="0.82"/>
<circle cx="175.83" cy="795.23" r="1.8" fill="#FE6E1A" fill-opacity="0.82"/>
<circle cx="171.32" cy="851.01" r="1.8" fill="#CD300D" fill-opacity="0.82"/>
<circle cx="168.17" cy="719.81" r="1.8" fill="#C72B0C" fill-opacity="0.82"/>
<circle cx="239.92" cy="693.87" r="1.8" fill="#FF8A1F" fill-opacity="0.82"/>
<circle cx="310.05" cy="771.26" r="1.8" fill="#F1CC2C" fill-opacity="0.82"/>
<circle cx="215.88" cy="775.78" r="1.8" fill="#BFEE3E" fill-opacity="0.82"/>
<circle cx="228.78" cy="897.57" r="1.8" fill="#F55D17" fill-opacity="0.82"/>
<circle cx="203.48" cy="754.17" r="1.8" fill="#FF9721" fill-opacity="0.82"/>
<circle cx="218.55" cy="706.09" r="1.8" fill="#FF8B1F" fill-opacity="0.82"/>
<circle cx="203.17" cy="854.22" r="1.8" fill="#F6C62A" fill-opacity="0.82"/>
<circle cx="239.44" cy="860.40" r="1.8" fill="#7DFD5E" fill-opacity="0.82"/>
<circle cx="343.44" cy="812.25" r="1.8" fill="#B71F08" fill-opacity="0.82"/>
<circle cx="176.53" cy="863.16" r="1.8" fill="#FF7F1D" fill-opacity="0.82"/>
<circle cx="232.58" cy="871.80" r="1.8" fill="#EE5315" fill-opacity="0.82"/>
<circle cx="248.29" cy="674.66" r="1.8" fill="#F2CB2C" fill-opacity="0.82"/>
<circle cx="227.16" cy="897.65" r="1.8" fill="#87FD58" fill-opacity="0.82"/>
<circle cx="299.66" cy="747.11" r="1.8" fill="#FE6E1A" fill-opacity="0.82"/>
<circle cx="222.77" cy="803.26" r="1.8" fill="#FF7E1D" fill-opacity="0.82"/>
<circle cx="244.01" cy="756.43" r="1.8" fill="#FF861E" fill-opacity="0.82"/>
<circle cx="198.81" cy="736.50" r="1.8" fill="#FF791C" fill-opacity="0.82"/>
<circle cx="312.20" cy="801.12" r="1.8" fill="#FFB526" fill-opacity="0.82"/>
<circle cx="304.28" cy="787.79" r="1.8" fill="#94FB51" fill-opacity="0.82"/>
<circle cx="286.35" cy="777.39" r="1.8" fill="#B6F241" fill-opacity="0.82"/>
<circle cx="251.86" cy="866.78" r="1.8" fill="#FF751B" fill-opacity="0.82"/>
<circle cx="268.82" cy="889.06" r="1.8" fill="#EFCE2D" fill-opacity="0.82"/>
<circle cx="217.09" cy="899.10" r="1.8" fill="#E0DB32" fill-opacity="0.82"/>
<circle cx="243.47" cy="845.85" r="1.8" fill="#B92108" fill-opacity="0.82"/>
<circle cx="148.78" cy="839.34" r="1.8" fill="#F55D17" fill-opacity="0.82"/>
<circle cx="137.77" cy="781.88" r="1.8" fill="#FF801D" fill-opacity="0.82"/>
<circle cx="233.39" cy="730.35" r="1.8" fill="#FF801D" fill-opacity="0.82"/>
<circle cx="239.69" cy="770.80" r="1.8" fill="#C0260A" fill-opacity="0.82"/>
<circle cx="182.98" cy="723.11" r="1.8" fill="#BCEF3F" fill-opacity="0.82"/>
<circle cx="151.06" cy="714.36" r="1.8" fill="#6AFD6A" fill-opacity="0.82"/>
<circle cx="312.48" cy="886.41" r="1.8" fill="#DD3F11" fill-opacity="0.82"/>
<circle cx="296.26" cy="780.16" r="1.8" fill="#6BFD6A" fill-opacity="0.82"/>
<circle cx="283.65" cy="743.08" r="1.8" fill="#FA6719" fill-opacity="0.82"/>
<circle cx="320.50" cy="803.67" r="1.8" fill="#74FE64" fill-opacity="0.82"/>
<circle cx="323.90" cy="871.45" r="1.8" fill="#FF781C" fill-opacity="0.82"/>
<circle cx="286.72" cy="828.27" r="1.8" fill="#F3CA2B" fill-opacity="0.82"/>
<circle cx="278.37" cy="678.95" r="1.8" fill="#7FFD5C" fill-opacity="0.82"/>
<circle cx="177.59" cy="774.80" r="1.8" fill="#B4F242" fill-opacity="0.82"/>
<circle cx="186.81" cy="718.69" r="1.8" fill="#F8C329" fill-opacity="0.82"/>
<circle cx="271.27" cy="844.94" r="1.8" fill="#E4D830" fill-opacity="0.82"/>
<circle cx="142.53" cy="832.27" r="1.8" fill="#ACF546" fill-opacity="0.82"/>
<circle cx="278.12" cy="877.76" r="1.8" fill="#F3CA2B" fill-opacity="0.82"/>
<circle cx="205.59" cy="749.82" r="1.8" fill="#FEBA27" fill-opacity="0.82"/>
<circle cx="152.57" cy="738.38" r="1.8" fill="#EF5516" fill-opacity="0.82"/>
<circle cx="268.74" cy="767.74" r="1.8" fill="#FFA924" fill-opacity="0.82"/>
<circle cx="253.15" cy="718.57" r="1.8" fill="#FFB827" fill-opacity="0.82"/>
<circle cx="337.76" cy="734.88" r="1.8" fill="#C9EA3A" fill-opacity="0.82"/>
<circle cx="145.18" cy="749.35" r="1.8" fill="#94FB51" fill-opacity="0.82"/>
<circle cx="308.65" cy="837.20" r="1.8" fill="#76FE62" fill-opacity="0.82"/>
<circle cx="160.26" cy="848.97" r="1.8" fill="#28B1EA" fill-opacity="0.82"/>
<circle cx="309.86" cy="701.45" r="1.8" fill="#C2ED3C" fill-opacity="0.82"/>
<circle cx="285.24" cy="726.92" r="1.8" fill="#FDBC28" fill-opacity="0.82"/>
<circle cx="270.85" cy="741.95" r="1.8" fill="#AD1905" fill-opacity="0.82"/>
<circle cx="343.78" cy="725.29" r="1.8" fill="#FF781C" fill-opacity="0.82"/>
<circle cx="264.97" cy="680.89" r="1.8" fill="#BD2309" fill-opacity="0.82"/>
<circle cx="245.14" cy="773.57" r="1.8" fill="#E2DA31" fill-opacity="0.82"/>
<circle cx="139.07" cy="793.52" r="1.8" fill="#E3D931" fill-opacity="0.82"/>
<circle cx="292.77" cy="744.32" r="1.8" fill="#E1DB32" fill-opacity="0.82"/>
<circle cx="225.94" cy="793.45" r="1.8" fill="#FFA824" fill-opacity="0.82"/>
<circle cx="308.92" cy="753.71" r="1.8" fill="#FF821D" fill-opacity="0.82"/>
<circle cx="266.65" cy="677.60" r="1.8" fill="#FF8C1F" fill-opacity="0.82"/>
<circle cx="181.32" cy="698.80" r="1.8" fill="#F6C62A" fill-opacity="0.82"/>
<circle cx="227.43" cy="754.01" r="1.8" fill="#FFAB24" fill-opacity="0.82"/>
<circle cx="183.93" cy="833.78" r="1.8" fill="#5FFC73" fill-opacity="0.82"/>
<circle cx="186.74" cy="701.01" r="1.8" fill="#BD2309" fill-opacity="0.82"/>
<circle cx="141.91" cy="754.20" r="1.8" fill="#FF821D" fill-opacity="0.82"/>
<circle cx="177.27" cy="770.34" r="1.8" fill="#E0DC32" fill-opacity="0.82"/>
<circle cx="143.02" cy="772.39" r="1.8" fill="#FFA824" fill-opacity="0.82"/>
<circle cx="320.82" cy="723.02" r="1.8" fill="#95FB51" fill-opacity="0.82"/>
<circle cx="254.49" cy="840.70" r="1.8" fill="#CCE839" fill-opacity="0.82"/>
<circle cx="181.86" cy="711.76" r="1.8" fill="#FCBD28" fill-opacity="0.82"/>
<circle cx="290.98" cy="766.16" r="1.8" fill="#FF781C" fill-opacity="0.82"/>
<circle cx="220.42" cy="908.09" r="1.8" fill="#86FD59" fill-opacity="0.82"/>
<circle cx="316.43" cy="813.53" r="1.8" fill="#FF7A1C" fill-opacity="0.82"/>
<circle cx="279.06" cy="696.22" r="1.8" fill="#B3F343" fill-opacity="0.82"/>
<circle cx="321.80" cy="696.30" r="1.8" fill="#FF9320" fill-opacity="0.82"/>
<circle cx="288.15" cy="864.12" r="1.8" fill="#BF250A" fill-opacity="0.82"/>
<circle cx="316.97" cy="716.00" r="1.8" fill="#FF9721" fill-opacity="0.82"/>
<circle cx="307.33" cy="780.36" r="1.8" fill="#E8D42F" fill-opacity="0.82"/>
<circle cx="344.29" cy="729.91" r="1.8" fill="#F96318" fill-opacity="0.82"/>
<circle cx="286.99" cy="900.13" r="1.8" fill="#FF7C1D" fill-opacity="0.82"/>
<circle cx="319.74" cy="846.85" r="1.8" fill="#FEB927" fill-opacity="0.82"/>
<circle cx="262.19" cy="763.98" r="1.8" fill="#FFAD25" fill-opacity="0.82"/>
<circle cx="148.40" cy="768.23" r="1.8" fill="#7BFD5F" fill-opacity="0.82"/>
<circle cx="271.52" cy="878.73" r="1.8" fill="#FF7C1C" fill-opacity="0.82"/>
<circle cx="265.70" cy="823.56" r="1.8" fill="#EA4E14" fill-opacity="0.82"/>
<circle cx="176.34" cy="769.88" r="1.8" fill="#DA3C10" fill-opacity="0.82"/>
<circle cx="140.80" cy="801.70" r="1.8" fill="#D6380F" fill-opacity="0.82"/>
<circle cx="177.92" cy="713.20" r="1.8" fill="#FA6619" fill-opacity="0.82"/>
<circle cx="187.18" cy="815.63" r="1.8" fill="#50F981" fill-opacity="0.82"/>
<circle cx="194.95" cy="813.66" r="1.8" fill="#75FE63" fill-opacity="0.82"/>
<circle cx="287.37" cy="884.96" r="1.8" fill="#3EF295" fill-opacity="0.82"/>
<circle cx="202.04" cy="690.33" r="1.8" fill="#CCE839" fill-opacity="0.82"/>
<circle cx="310.19" cy="697.50" r="1.8" fill="#FFAD25" fill-opacity="0.82"/>
<circle cx="214.31" cy="895.13" r="1.8" fill="#96FA50" fill-opacity="0.82"/>
<circle cx="346.98" cy="817.63" r="1.8" fill="#FEB927" fill-opacity="0.82"/>
<circle cx="217.99" cy="804.44" r="1.8" fill="#E0DB32" fill-opacity="0.82"/>
<circle cx="230.71" cy="873.63" r="1.8" fill="#B1F344" fill-opacity="0.82"/>
<circle cx="270.53" cy="800.26" r="1.8" fill="#BCEF3F" fill-opacity="0.82"/>
<circle cx="158.66" cy="771.91" r="1.8" fill="#D3360F" fill-opacity="0.82"/>
<circle cx="198.02" cy="805.68" r="1.8" fill="#FFA723" fill-opacity="0.82"/>
<circle cx="149.79" cy="718.99" r="1.8" fill="#EE5415" fill-opacity="0.82"/>
<circle cx="169.90" cy="822.65" r="1.8" fill="#ADF545" fill-opacity="0.82"/>
<circle cx="198.58" cy="777.99" r="1.8" fill="#FF721B" fill-opacity="0.82"/>
<circle cx="300.13" cy="808.36" r="1.8" fill="#A7F748" fill-opacity="0.82"/>
<circle cx="196.91" cy="755.14" r="1.8" fill="#6BFD69" fill-opacity="0.82"/>
<circle cx="296.86" cy="708.30" r="1.8" fill="#47389E" fill-opacity="0.82"/>
<circle cx="274.14" cy="758.15" r="1.8" fill="#FF731B" fill-opacity="0.82"/>
<circle cx="267.17" cy="841.63" r="1.8" fill="#57FB7A" fill-opacity="0.82"/>
<circle cx="270.12" cy="820.55" r="1.8" fill="#D9E034" fill-opacity="0.82"/>
<circle cx="259.92" cy="684.64" r="1.8" fill="#95FB50" fill-opacity="0.82"/>
<circle cx="241.59" cy="703.59" r="1.8" fill="#FF9F22" fill-opacity="0.82"/>
<circle cx="234.02" cy="821.42" r="1.8" fill="#FF831E" fill-opacity="0.82"/>
<circle cx="331.79" cy="690.52" r="1.8" fill="#FFA623" fill-opacity="0.82"/>
<circle cx="258.25" cy="860.08" r="1.8" fill="#FF9D22" fill-opacity="0.82"/>
<circle cx="192.93" cy="798.86" r="1.8" fill="#FF7D1D" fill-opacity="0.82"/>
<circle cx="280.32" cy="783.89" r="1.8" fill="#FF731B" fill-opacity="0.82"/>
<circle cx="227.89" cy="812.35" r="1.8" fill="#E1DB32" fill-opacity="0.82"/>
<circle cx="239.83" cy="860.90" r="1.8" fill="#F35B17" fill-opacity="0.82"/>
<circle cx="207.72" cy="725.65" r="1.8" fill="#FEB927" fill-opacity="0.82"/>
<circle cx="191.35" cy="879.53" r="1.8" fill="#F4C92B" fill-opacity="0.82"/>
<circle cx="257.12" cy="802.15" r="1.8" fill="#6AFD6A" fill-opacity="0.82"/>
<circle cx="328.29" cy="809.69" r="1.8" fill="#CDE738" fill-opacity="0.82"/>
<circle cx="241.28" cy="689.47" r="1.8" fill="#FFA323" fill-opacity="0.82"/>
<circle cx="176.45" cy="784.90" r="1.8" fill="#FCBD28" fill-opacity="0.82"/>
<circle cx="186.00" cy="708.85" r="1.8" fill="#C7EB3B" fill-opacity="0.82"/>
<circle cx="182.74" cy="834.19" r="1.8" fill="#8CFC55" fill-opacity="0.82"/>
<circle cx="255.86" cy="710.99" r="1.8" fill="#76FE62" fill-opacity="0.82"/>
<circle cx="233.56" cy="698.81" r="1.8" fill="#990E00" fill-opacity="0.82"/>
<circle cx="254.86" cy="837.68" r="1.8" fill="#66FD6D" fill-opacity="0.82"/>
<circle cx="187.59" cy="857.02" r="1.8" fill="#FF831E" fill-opacity="0.82"/>
<circle cx="230.52" cy="865.90" r="1.8" fill="#FFB626" fill-opacity="0.82"/>
<circle cx="308.31" cy="785.06" r="1.8" fill="#FF8F1F" fill-opacity="0.82"/>
<circle cx="289.57" cy="741.23" r="1.8" fill="#E7D62F" fill-opacity="0.82"/>
<circle cx="220.78" cy="855.19" r="1.8" fill="#FAC029" fill-opacity="0.82"/>
<circle cx="299.86" cy="725.39" r="1.8" fill="#FF761C" fill-opacity="0.82"/>
<circle cx="268.60" cy="769.69" r="1.8" fill="#FFB125" fill-opacity="0.82"/>
<circle cx="154.36" cy="785.02" r="1.8" fill="#F1CB2C" fill-opacity="0.82"/>
<circle cx="166.19" cy="819.40" r="1.8" fill="#FF721B" fill-opacity="0.82"/>
<circle cx="184.07" cy="856.68" r="1.8" fill="#FF721B" fill-opacity="0.82"/>
<circle cx="247.92" cy="862.10" r="1.8" fill="#CFE638" fill-opacity="0.82"/>
<circle cx="173.60" cy="793.11" r="1.8" fill="#FFAF25" fill-opacity="0.82"/>
<circle cx="277.57" cy="802.99" r="1.8" fill="#FFA924" fill-opacity="0.82"/>
<circle cx="309.14" cy="834.50" r="1.8" fill="#FF8B1F" fill-opacity="0.82"/>
<circle cx="153.76" cy="827.25" r="1.8" fill="#AEF444" fill-opacity="0.82"/>
<circle cx="229.59" cy="721.86" r="1.8" fill="#C3ED3C" fill-opacity="0.82"/>
<circle cx="233.89" cy="769.30" r="1.8" fill="#7BFD5F" fill-opacity="0.82"/>
<circle cx="233.63" cy="824.86" r="1.8" fill="#51FA7F" fill-opacity="0.82"/>
<circle cx="226.94" cy="801.22" r="1.8" fill="#FFA623" fill-opacity="0.82"/>
<circle cx="240.47" cy="899.81" r="1.8" fill="#CE310D" fill-opacity="0.82"/>
<circle cx="199.21" cy="896.71" r="1.8" fill="#7EFD5D" fill-opacity="0.82"/>
<circle cx="247.03" cy="685.62" r="1.8" fill="#FAC029" fill-opacity="0.82"/>
<circle cx="319.59" cy="734.31" r="1.8" fill="#FF761B" fill-opacity="0.82"/>
<circle cx="264.75" cy="808.56" r="1.8" fill="#FFAF25" fill-opacity="0.82"/>
<circle cx="332.65" cy="706.94" r="1.8" fill="#9DF94C" fill-opacity="0.82"/>
<circle cx="238.43" cy="713.39" r="1.8" fill="#ABF546" fill-opacity="0.82"/>
<circle cx="328.27" cy="799.83" r="1.8" fill="#F6C62A" fill-opacity="0.82"/>
<circle cx="264.72" cy="699.30" r="1.8" fill="#FF711B" fill-opacity="0.82"/>
<circle cx="223.41" cy="887.55" r="1.8" fill="#C1ED3D" fill-opacity="0.82"/>
<circle cx="210.72" cy="873.29" r="1.8" fill="#40F392" fill-opacity="0.82"/>
<circle cx="166.08" cy="758.35" r="1.8" fill="#FCBD28" fill-opacity="0.82"/>
<circle cx="212.08" cy="840.04" r="1.8" fill="#25CCD1" fill-opacity="0.82"/>
<circle cx="267.55" cy="679.27" r="1.8" fill="#FFB727" fill-opacity="0.82"/>
<circle cx="242.52" cy="872.49" r="1.8" fill="#FF771C" fill-opacity="0.82"/>
<circle cx="284.61" cy="720.78" r="1.8" fill="#FFA222" fill-opacity="0.82"/>
<circle cx="193.04" cy="739.52" r="1.8" fill="#FDBB28" fill-opacity="0.82"/>
<circle cx="186.33" cy="795.76" r="1.8" fill="#C2270A" fill-opacity="0.82"/>
<circle cx="297.74" cy="785.83" r="1.8" fill="#D4E336" fill-opacity="0.82"/>
<circle cx="200.53" cy="707.55" r="1.8" fill="#F45C17" fill-opacity="0.82"/>
<circle cx="305.83" cy="701.87" r="1.8" fill="#7BFD5F" fill-opacity="0.82"/>
<circle cx="198.93" cy="858.24" r="1.8" fill="#C8EA3A" fill-opacity="0.82"/>
<circle cx="320.43" cy="759.37" r="1.8" fill="#FF721B" fill-opacity="0.82"/>
<circle cx="230.26" cy="796.91" r="1.8" fill="#E54813" fill-opacity="0.82"/>
<circle cx="269.51" cy="781.38" r="1.8" fill="#B7F141" fill-opacity="0.82"/>
<circle cx="232.81" cy="831.67" r="1.8" fill="#FF9D22" fill-opacity="0.82"/>
<circle cx="154.29" cy="771.07" r="1.8" fill="#FFA022" fill-opacity="0.82"/>
<circle cx="281.43" cy="747.83" r="1.8" fill="#FF8C1F" fill-opacity="0.82"/>
<circle cx="252.06" cy="675.77" r="1.8" fill="#CDE738" fill-opacity="0.82"/>
<circle cx="168.53" cy="781.12" r="1.8" fill="#C8EA3A" fill-opacity="0.82"/>
<circle cx="192.98" cy="801.19" r="1.8" fill="#53FA7D" fill-opacity="0.82"/>
<circle cx="247.61" cy="834.92" r="1.8" fill="#E4D830" fill-opacity="0.82"/>
<circle cx="243.74" cy="789.74" r="1.8" fill="#FF821D" fill-opacity="0.82"/>
<circle cx="175.77" cy="860.66" r="1.8" fill="#FF9320" fill-opacity="0.82"/>
<circle cx="281.06" cy="707.06" r="1.8" fill="#FF9020" fill-opacity="0.82"/>
<circle cx="247.93" cy="777.00" r="1.8" fill="#FFB125" fill-opacity="0.82"/>
<circle cx="139.55" cy="823.38" r="1.8" fill="#FC6919" fill-opacity="0.82"/>
<circle cx="303.30" cy="847.09" r="1.8" fill="#FF791C" fill-opacity="0.82"/>
<circle cx="269.30" cy="691.25" r="1.8" fill="#FF9821" fill-opacity="0.82"/>
<circle cx="315.08" cy="817.46" r="1.8" fill="#FF8C1F" fill-opacity="0.82"/>
<circle cx="327.81" cy="819.43" r="1.8" fill="#F45B17" fill-opacity="0.82"/>
<circle cx="324.16" cy="872.65" r="1.8" fill="#FF751B" fill-opacity="0.82"/>
<circle cx="169.99" cy="742.02" r="1.8" fill="#FF781C" fill-opacity="0.82"/>
<circle cx="167.31" cy="845.50" r="1.8" fill="#FF9320" fill-opacity="0.82"/>
<circle cx="149.72" cy="847.03" r="1.8" fill="#8CFC55" fill-opacity="0.82"/>
<circle cx="306.19" cy="787.69" r="1.8" fill="#F0CD2C" fill-opacity="0.82"/>
<circle cx="312.87" cy="808.90" r="1.8" fill="#FFAD25" fill-opacity="0.82"/>
<circle cx="306.20" cy="704.13" r="1.8" fill="#FFB326" fill-opacity="0.82"/>
<circle cx="214.14" cy="845.68" r="1.8" fill="#FFA723" fill-opacity="0.82"/>
<circle cx="324.03" cy="858.56" r="1.8" fill="#F7C42A" fill-opacity="0.82"/>
<circle cx="321.13" cy="713.14" r="1.8" fill="#FFB226" fill-opacity="0.82"/>
<circle cx="270.22" cy="797.55" r="1.8" fill="#B9F140" fill-opacity="0.82"/>
<circle cx="181.76" cy="700.96" r="1.8" fill="#FFB827" fill-opacity="0.82"/>
<circle cx="265.83" cy="830.51" r="1.8" fill="#CAE93A" fill-opacity="0.82"/>
<circle cx="177.35" cy="810.60" r="1.8" fill="#9EF94C" fill-opacity="0.82"/>
<circle cx="313.85" cy="751.68" r="1.8" fill="#D5E336" fill-opacity="0.82"/>
<circle cx="151.92" cy="824.72" r="1.8" fill="#C82C0C" fill-opacity="0.82"/>
<circle cx="317.10" cy="794.90" r="1.8" fill="#FFAD25" fill-opacity="0.82"/>
<circle cx="332.27" cy="736.52" r="1.8" fill="#25C2DC" fill-opacity="0.82"/>
<circle cx="218.21" cy="855.67" r="1.8" fill="#29DCBD" fill-opacity="0.82"/>
<circle cx="208.50" cy="831.47" r="1.8" fill="#FC6A19" fill-opacity="0.82"/>
<circle cx="342.51" cy="794.67" r="1.8" fill="#52FA7E" fill-opacity="0.82"/>
<circle cx="277.14" cy="803.57" r="1.8" fill="#FF771C" fill-opacity="0.82"/>
<circle cx="148.94" cy="770.05" r="1.8" fill="#33EAA5" fill-opacity="0.82"/>
<circle cx="180.96" cy="810.75" r="1.8" fill="#FFAC24" fill-opacity="0.82"/>
<circle cx="211.20" cy="697.12" r="1.8" fill="#EECF2D" fill-opacity="0.82"/>
<circle cx="147.61" cy="767.84" r="1.8" fill="#E04312" fill-opacity="0.82"/>
<circle cx="274.08" cy="711.25" r="1.8" fill="#FF7D1D" fill-opacity="0.82"/>
<circle cx="162.01" cy="789.08" r="1.8" fill="#FF761B" fill-opacity="0.82"/>
<circle cx="265.34" cy="739.89" r="1.8" fill="#FB6919" fill-opacity="0.82"/>
<circle cx="170.11" cy="734.73" r="1.8" fill="#FF891E" fill-opacity="0.82"/>
<circle cx="341.65" cy="717.27" r="1.8" fill="#FFA824" fill-opacity="0.82"/>
<circle cx="173.34" cy="706.56" r="1.8" fill="#DAE034" fill-opacity="0.82"/>
<circle cx="163.18" cy="716.79" r="1.8" fill="#EF5516" fill-opacity="0.82"/>
<circle cx="179.33" cy="739.49" r="1.8" fill="#D1E537" fill-opacity="0.82"/>
<circle cx="275.25" cy="800.27" r="1.8" fill="#FE6F1A" fill-opacity="0.82"/>
<circle cx="264.83" cy="683.58" r="1.8" fill="#25C3DB" fill-opacity="0.82"/>
<circle cx="183.75" cy="893.06" r="1.8" fill="#FFB025" fill-opacity="0.82"/>
<circle cx="304.65" cy="856.46" r="1.8" fill="#63FD6F" fill-opacity="0.82"/>
<circle cx="211.51" cy="705.29" r="1.8" fill="#FF791C" fill-opacity="0.82"/>
<circle cx="245.44" cy="864.18" r="1.8" fill="#DB3E11" fill-opacity="0.82"/>
<circle cx="298.38" cy="835.15" r="1.8" fill="#E3D931" fill-opacity="0.82"/>
<circle cx="283.30" cy="799.48" r="1.8" fill="#DA3C10" fill-opacity="0.82"/>
<circle cx="199.62" cy="709.52" r="1.8" fill="#FDBC28" fill-opacity="0.82"/>
<circle cx="221.92" cy="832.00" r="1.8" fill="#FF9320" fill-opacity="0.82"/>
<circle cx="272.93" cy="815.36" r="1.8" fill="#D2E437" fill-opacity="0.82"/>
<circle cx="332.32" cy="770.67" r="1.8" fill="#C9EA3A" fill-opacity="0.82"/>
<circle cx="179.22" cy="720.02" r="1.8" fill="#CC300D" fill-opacity="0.82"/>
<circle cx="304.71" cy="735.45" r="1.8" fill="#BC2309" fill-opacity="0.82"/>
<circle cx="275.32" cy="846.89" r="1.8" fill="#75FE63" fill-opacity="0.82"/>
<circle cx="170.17" cy="726.75" r="1.8" fill="#FFAD25" fill-opacity="0.82"/>
<circle cx="319.02" cy="692.86" r="1.8" fill="#2E9FF4" fill-opacity="0.82"/>
<circle cx="309.65" cy="846.06" r="1.8" fill="#FFA423" fill-opacity="0.82"/>
<circle cx="278.51" cy="900.13" r="1.8" fill="#FF9921" fill-opacity="0.82"/>
<circle cx="260.83" cy="826.95" r="1.8" fill="#FD6C1A" fill-opacity="0.82"/>
<circle cx="265.87" cy="843.15" r="1.8" fill="#FF7E1D" fill-opacity="0.82"/>
<circle cx="207.33" cy="704.55" r="1.8" fill="#DFDC32" fill-opacity="0.82"/>
<circle cx="159.44" cy="815.96" r="1.8" fill="#5EFC73" fill-opacity="0.82"/>
<circle cx="182.01" cy="836.64" r="1.8" fill="#FF861E" fill-opacity="0.82"/>
<circle cx="336.07" cy="693.59" r="1.8" fill="#EAD32E" fill-opacity="0.82"/>
<circle cx="159.83" cy="794.60" r="1.8" fill="#FFAA24" fill-opacity="0.82"/>
<circle cx="234.46" cy="798.12" r="1.8" fill="#D73910" fill-opacity="0.82"/>
<circle cx="178.54" cy="846.41" r="1.8" fill="#F96419" fill-opacity="0.82"/>
<circle cx="174.60" cy="767.15" r="1.8" fill="#FFAE25" fill-opacity="0.82"/>
<circle cx="188.66" cy="734.70" r="1.8" fill="#FF8B1F" fill-opacity="0.82"/>
<circle cx="263.72" cy="672.12" r="1.8" fill="#FFA723" fill-opacity="0.82"/>
<circle cx="289.25" cy="883.94" r="1.8" fill="#EC5115" fill-opacity="0.82"/>
<circle cx="202.71" cy="789.12" r="1.8" fill="#7AFE60" fill-opacity="0.82"/>
<circle cx="332.71" cy="714.60" r="1.8" fill="#FF781C" fill-opacity="0.82"/>
<circle cx="326.80" cy="690.14" r="1.8" fill="#FF741B" fill-opacity="0.82"/>
<circle cx="295.71" cy="846.10" r="1.8" fill="#6BFD6A" fill-opacity="0.82"/>
<circle cx="141.30" cy="798.15" r="1.8" fill="#A2F84A" fill-opacity="0.82"/>
<circle cx="314.60" cy="847.12" r="1.8" fill="#FF761B" fill-opacity="0.82"/>
<circle cx="255.16" cy="784.05" r="1.8" fill="#C72B0C" fill-opacity="0.82"/>
<circle cx="327.77" cy="705.78" r="1.8" fill="#F6C52A" fill-opacity="0.82"/>
<circle cx="144.30" cy="727.77" r="1.8" fill="#FFA523" fill-opacity="0.82"/>
<circle cx="264.14" cy="693.61" r="1.8" fill="#D8E135" fill-opacity="0.82"/>
<circle cx="302.79" cy="763.78" r="1.8" fill="#FF751B" fill-opacity="0.82"/>
<circle cx="342.31" cy="798.23" r="1.8" fill="#6EFE68" fill-opacity="0.82"/>
<circle cx="334.92" cy="694.48" r="1.8" fill="#3393F8" fill-opacity="0.82"/>
<circle cx="297.11" cy="803.72" r="1.8" fill="#FF9B21" fill-opacity="0.82"/>
<circle cx="319.29" cy="857.67" r="1.8" fill="#FF9320" fill-opacity="0.82"/>
<circle cx="311.15" cy="840.25" r="1.8" fill="#F9C229" fill-opacity="0.82"/>
<circle cx="318.51" cy="685.38" r="1.8" fill="#94FB51" fill-opacity="0.82"/>
<circle cx="276.53" cy="882.96" r="1.8" fill="#FFAB24" fill-opacity="0.82"/>
<circle cx="197.80" cy="786.60" r="1.8" fill="#900D00" fill-opacity="0.82"/>
<circle cx="151.09" cy="763.88" r="1.8" fill="#FF8B1F" fill-opacity="0.82"/>
<circle cx="148.99" cy="796.24" r="1.8" fill="#DB3D10" fill-opacity="0.82"/>
<circle cx="272.00" cy="785.74" r="1.8" fill="#F7C42A" fill-opacity="0.82"/>
<circle cx="314.22" cy="740.81" r="1.8" fill="#FBBF28" fill-opacity="0.82"/>
<circle cx="152.21" cy="800.90" r="1.8" fill="#FF9621" fill-opacity="0.82"/>
<circle cx="299.22" cy="750.74" r="1.8" fill="#FF811D" fill-opacity="0.82"/>
<circle cx="271.85" cy="777.95" r="1.8" fill="#E3D931" fill-opacity="0.82"/>
<circle cx="330.75" cy="729.92" r="1.8" fill="#CDE839" fill-opacity="0.82"/>
<circle cx="147.22" cy="818.22" r="1.8" fill="#81FD5B" fill-opacity="0.82"/>
<circle cx="266.81" cy="880.68" r="1.8" fill="#E6D730" fill-opacity="0.82"/>
<circle cx="183.56" cy="819.97" r="1.8" fill="#EED02D" fill-opacity="0.82"/>
<circle cx="153.16" cy="754.46" r="1.8" fill="#FFB226" fill-opacity="0.82"/>
<circle cx="212.23" cy="861.70" r="1.8" fill="#69FD6B" fill-opacity="0.82"/>
<circle cx="269.04" cy="825.88" r="1.8" fill="#FFA323" fill-opacity="0.82"/>
<circle cx="291.52" cy="782.94" r="1.8" fill="#FFB827" fill-opacity="0.82"/>
<circle cx="193.77" cy="734.81" r="1.8" fill="#D4E336" fill-opacity="0.82"/>
<circle cx="285.17" cy="847.40" r="1.8" fill="#D1E537" fill-opacity="0.82"/>
<circle cx="156.80" cy="692.18" r="1.8" fill="#FFB426" fill-opacity="0.82"/>
<circle cx="341.98" cy="696.14" r="1.8" fill="#C92D0C" fill-opacity="0.82"/>
<circle cx="203.68" cy="845.39" r="1.8" fill="#B31D07" fill-opacity="0.82"/>
<circle cx="312.53" cy="837.50" r="1.8" fill="#C5EB3B" fill-opacity="0.82"/>
<circle cx="345.69" cy="804.95" r="1.8" fill="#FFA122" fill-opacity="0.82"/>
<circle cx="241.94" cy="895.53" r="1.8" fill="#FF8D1F" fill-opacity="0.82"/>
<circle cx="292.74" cy="879.46" r="1.8" fill="#EA4E14" fill-opacity="0.82"/>
<circle cx="180.48" cy="826.43" r="1.8" fill="#DCDE33" fill-opacity="0.82"/>
<circle cx="341.10" cy="690.47" r="1.8" fill="#FFAE25" fill-opacity="0.82"/>
<circle cx="301.57" cy="866.58" r="1.8" fill="#A8F647" fill-opacity="0.82"/>
<circle cx="328.01" cy="869.95" r="1.8" fill="#FF801D" fill-opacity="0.82"/>
<circle cx="173.97" cy="874.72" r="1.8" fill="#FF9B21" fill-opacity="0.82"/>
<circle cx="165.95" cy="826.46" r="1.8" fill="#FB6919" fill-opacity="0.82"/>
<circle cx="292.60" cy="799.43" r="1.8" fill="#FCBD28" fill-opacity="0.82"/>
<circle cx="225.60" cy="720.29" r="1.8" fill="#FFB225" fill-opacity="0.82"/>
<circle cx="244.53" cy="862.43" r="1.8" fill="#FF781C" fill-opacity="0.82"/>
<circle cx="183.36" cy="866.08" r="1.8" fill="#FF841E" fill-opacity="0.82"/>
<circle cx="326.38" cy="876.70" r="1.8" fill="#87FD58" fill-opacity="0.82"/>
<circle cx="212.89" cy="853.58" r="1.8" fill="#FF8B1F" fill-opacity="0.82"/>
<circle cx="236.58" cy="800.83" r="1.8" fill="#FFB226" fill-opacity="0.82"/>
<circle cx="250.53" cy="868.83" r="1.8" fill="#FC6A1A" fill-opacity="0.82"/>
<circle cx="302.84" cy="787.48" r="1.8" fill="#FFAA24" fill-opacity="0.82"/>
<circle cx="277.64" cy="833.17" r="1.8" fill="#FF8A1F" fill-opacity="0.82"/>
<circle cx="287.81" cy="855.57" r="1.8" fill="#FBBE28" fill-opacity="0.82"/>
<circle cx="234.39" cy="903.19" r="1.8" fill="#6BFD6A" fill-opacity="0.82"/>
<circle cx="234.61" cy="781.88" r="1.8" fill="#CBE839" fill-opacity="0.82"/>
<circle cx="168.48" cy="706.71" r="1.8" fill="#B6F241" fill-opacity="0.82"/>
<circle cx="225.07" cy="831.45" r="1.8" fill="#FB6819" fill-opacity="0.82"/>
<circle cx="237.41" cy="852.22" r="1.8" fill="#64FD6F" fill-opacity="0.82"/>
<circle cx="156.25" cy="844.60" r="1.8" fill="#F7C42A" fill-opacity="0.82"/>
<circle cx="237.72" cy="742.70" r="1.8" fill="#9EF94C" fill-opacity="0.82"/>
<circle cx="232.27" cy="754.61" r="1.8" fill="#AFF444" fill-opacity="0.82"/>
<circle cx="192.38" cy="892.38" r="1.8" fill="#FFA223" fill-opacity="0.82"/>
<circle cx="328.30" cy="866.08" r="1.8" fill="#C0EE3D" fill-opacity="0.82"/>
<circle cx="197.45" cy="703.24" r="1.8" fill="#42F48F" fill-opacity="0.82"/>
<circle cx="315.58" cy="797.87" r="1.8" fill="#F5C62A" fill-opacity="0.82"/>
<circle cx="302.79" cy="767.36" r="1.8" fill="#EDD02D" fill-opacity="0.82"/>
<circle cx="336.59" cy="782.07" r="1.8" fill="#A6F748" fill-opacity="0.82"/>
<circle cx="194.81" cy="824.00" r="1.8" fill="#FFB626" fill-opacity="0.82"/>
<circle cx="261.23" cy="877.81" r="1.8" fill="#DCDE33" fill-opacity="0.82"/>
<circle cx="306.69" cy="759.71" r="1.8" fill="#D5E336" fill-opacity="0.82"/>
<circle cx="342.43" cy="717.99" r="1.8" fill="#EAD32E" fill-opacity="0.82"/>
<circle cx="210.41" cy="706.83" r="1.8" fill="#B2F343" fill-opacity="0.82"/>
<circle cx="273.08" cy="856.35" r="1.8" fill="#C6EB3B" fill-opacity="0.82"/>
<circle cx="321.97" cy="779.55" r="1.8" fill="#F76118" fill-opacity="0.82"/>
<circle cx="197.12" cy="784.81" r="1.8" fill="#25CFCE" fill-opacity="0.82"/>
<circle cx="165.66" cy="724.89" r="1.8" fill="#FDBB28" fill-opacity="0.82"/>
<circle cx="186.90" cy="895.94" r="1.8" fill="#D5E336" fill-opacity="0.82"/>
<circle cx="145.24" cy="794.86" r="1.8" fill="#3F77F6" fill-opacity="0.82"/>
<circle cx="214.16" cy="793.86" r="1.8" fill="#FFA824" fill-opacity="0.82"/>
<circle cx="240.07" cy="779.27" r="1.8" fill="#B2F343" fill-opacity="0.82"/>
<circle cx="301.68" cy="775.28" r="1.8" fill="#D93B10" fill-opacity="0.82"/>
<circle cx="157.34" cy="737.93" r="1.8" fill="#FFAD25" fill-opacity="0.82"/>
<circle cx="200.20" cy="798.76" r="1.8" fill="#E94D14" fill-opacity="0.82"/>
<circle cx="299.42" cy="875.54" r="1.8" fill="#FF9420" fill-opacity="0.82"/>
<circle cx="216.78" cy="898.07" r="1.8" fill="#80FD5C" fill-opacity="0.82"/>
<circle cx="145.57" cy="759.17" r="1.8" fill="#4EF982" fill-opacity="0.82"/>
<circle cx="306.29" cy="765.31" r="1.8" fill="#CDE738" fill-opacity="0.82"/>
<circle cx="336.97" cy="720.78" r="1.8" fill="#FF871E" fill-opacity="0.82"/>
<circle cx="247.24" cy="757.74" r="1.8" fill="#FFB626" fill-opacity="0.82"/>
<circle cx="306.08" cy="826.46" r="1.8" fill="#FF741B" fill-opacity="0.82"/>
<circle cx="228.55" cy="788.04" r="1.8" fill="#28D9C1" fill-opacity="0.82"/>
<circle cx="190.60" cy="735.76" r="1.8" fill="#FF791C" fill-opacity="0.82"/>
<circle cx="267.80" cy="808.75" r="1.8" fill="#950C00" fill-opacity="0.82"/>
<circle cx="185.77" cy="846.45" r="1.8" fill="#FFAD25" fill-opacity="0.82"/>
<circle cx="183.02" cy="804.78" r="1.8" fill="#6EFE68" fill-opacity="0.82"/>
<circle cx="201.64" cy="887.43" r="1.8" fill="#BEEE3E" fill-opacity="0.82"/>
<circle cx="206.63" cy="739.04" r="1.8" fill="#70FE66" fill-opacity="0.82"/>
<circle cx="280.42" cy="695.61" r="1.8" fill="#CC300D" fill-opacity="0.82"/>
<circle cx="269.57" cy="882.24" r="1.8" fill="#FFB426" fill-opacity="0.82"/>
<circle cx="224.35" cy="803.66" r="1.8" fill="#CBE839" fill-opacity="0.82"/>
<circle cx="199.99" cy="737.12" r="1.8" fill="#B3F343" fill-opacity="0.82"/>
<circle cx="146.49" cy="792.16" r="1.8" fill="#C2ED3D" fill-opacity="0.82"/>
<circle cx="241.97" cy="869.10" r="1.8" fill="#AC1805" fill-opacity="0.82"/>
<circle cx="256.73" cy="798.33" r="1.8" fill="#E14412" fill-opacity="0.82"/>
<circle cx="214.31" cy="776.37" r="1.8" fill="#FBBE28" fill-opacity="0.82"/>
<circle cx="200.55" cy="892.29" r="1.8" fill="#F55D17" fill-opacity="0.82"/>
<circle cx="191.12" cy="822.70" r="1.8" fill="#F4C82B" fill-opacity="0.82"/>
<circle cx="193.76" cy="797.00" r="1.8" fill="#76FE62" fill-opacity="0.82"/>
<circle cx="261.57" cy="880.51" r="1.8" fill="#95FB50" fill-opacity="0.82"/>
<circle cx="310.42" cy="813.11" r="1.8" fill="#CAE939" fill-opacity="0.82"/>
<circle cx="154.86" cy="742.35" r="1.8" fill="#F76118" fill-opacity="0.82"/>
<circle cx="178.61" cy="844.94" r="1.8" fill="#FF831E" fill-opacity="0.82"/>
<circle cx="329.18" cy="795.96" r="1.8" fill="#FFB827" fill-opacity="0.82"/>
<circle cx="191.24" cy="824.67" r="1.8" fill="#D7E235" fill-opacity="0.82"/>
<circle cx="280.85" cy="749.35" r="1.8" fill="#FFAC24" fill-opacity="0.82"/>
<circle cx="322.31" cy="868.38" r="1.8" fill="#C1ED3D" fill-opacity="0.82"/>
<circle cx="238.75" cy="780.33" r="1.8" fill="#FF721B" fill-opacity="0.82"/>
<circle cx="326.01" cy="813.03" r="1.8" fill="#60FC72" fill-opacity="0.82"/>
<circle cx="200.27" cy="825.75" r="1.8" fill="#88FC57" fill-opacity="0.82"/>
<circle cx="197.69" cy="757.39" r="1.8" fill="#FF741B" fill-opacity="0.82"/>
<circle cx="228.43" cy="756.86" r="1.8" fill="#FF711B" fill-opacity="0.82"/>
<circle cx="213.09" cy="723.43" r="1.8" fill="#FFAC24" fill-opacity="0.82"/>
<circle cx="287.55" cy="841.92" r="1.8" fill="#FF741B" fill-opacity="0.82"/>
<circle cx="308.46" cy="747.67" r="1.8" fill="#E7D52F" fill-opacity="0.82"/>
<circle cx="188.40" cy="768.08" r="1.8" fill="#FF9F22" fill-opacity="0.82"/>
<circle cx="318.61" cy="795.54" r="1.8" fill="#6AFD6A" fill-opacity="0.82"/>
<circle cx="297.26" cy="839.46" r="1.8" fill="#65FD6E" fill-opacity="0.82"/>
<circle cx="140.22" cy="829.57" r="1.8" fill="#FFB827" fill-opacity="0.82"/>
<circle cx="246.41" cy="854.54" r="1.8" fill="#FF9621" fill-opacity="0.82"/>
<circle cx="251.32" cy="850.28" r="1.8" fill="#FFB426" fill-opacity="0.82"/>
<circle cx="330.24" cy="749.77" r="1.8" fill="#C9EA3A" fill-opacity="0.82"/>
<circle cx="263.06" cy="733.94" r="1.8" fill="#FF841E" fill-opacity="0.82"/>
<circle cx="296.54" cy="836.02" r="1.8" fill="#EE5315" fill-opacity="0.82"/>
<circle cx="167.32" cy="698.22" r="1.8" fill="#FF8B1F" fill-opacity="0.82"/>
<circle cx="343.05" cy="818.21" r="1.8" fill="#FF781C" fill-opacity="0.82"/>
<circle cx="239.61" cy="799.97" r="1.8" fill="#DDDD33" fill-opacity="0.82"/>
<circle cx="322.53" cy="734.23" r="1.8" fill="#FE6E1A" fill-opacity="0.82"/>
<circle cx="206.44" cy="754.03" r="1.8" fill="#B01B06" fill-opacity="0.82"/>
<circle cx="168.83" cy="846.81" r="1.8" fill="#FF821D" fill-opacity="0.82"/>
<circle cx="282.67" cy="725.72" r="1.8" fill="#FF811D" fill-opacity="0.82"/>
<circle cx="141.01" cy="732.46" r="1.8" fill="#62FD70" fill-opacity="0.82"/>
<circle cx="308.98" cy="895.87" r="1.8" fill="#FF821D" fill-opacity="0.82"/>
<circle cx="177.84" cy="850.14" r="1.8" fill="#D8E134" fill-opacity="0.82"/>
<circle cx="160.87" cy="740.36" r="1.8" fill="#FF9821" fill-opacity="0.82"/>
<circle cx="173.68" cy="821.04" r="1.8" fill="#69FD6B" fill-opacity="0.82"/>
<circle cx="247.64" cy="842.70" r="1.8" fill="#D1340E" fill-opacity="0.82"/>
<circle cx="203.70" cy="791.04" r="1.8" fill="#A3F84A" fill-opacity="0.82"/>
<circle cx="325.65" cy="873.92" r="1.8" fill="#B5F242" fill-opacity="0.82"/>
<circle cx="298.04" cy="804.76" r="1.8" fill="#FEB927" fill-opacity="0.82"/>
<circle cx="215.03" cy="765.25" r="1.8" fill="#F45C17" fill-opacity="0.82"/>
<circle cx="184.02" cy="774.33" r="1.8" fill="#FCBD28" fill-opacity="0.82"/>
<circle cx="171.10" cy="848.12" r="1.8" fill="#EDD02D" fill-opacity="0.82"/>
<circle cx="254.63" cy="792.52" r="1.8" fill="#FBBE28" fill-opacity="0.82"/>
<circle cx="147.71" cy="775.02" r="1.8" fill="#EDD02D" fill-opacity="0.82"/>
<circle cx="140.88" cy="791.69" r="1.8" fill="#FFAD25" fill-opacity="0.82"/>
<circle cx="183.60" cy="815.79" r="1.8" fill="#D5370F" fill-opacity="0.82"/>
<circle cx="170.79" cy="736.04" r="1.8" fill="#77FE62" fill-opacity="0.82"/>
<circle cx="213.41" cy="781.87" r="1.8" fill="#FF7B1C" fill-opacity="0.82"/>
<circle cx="242.48" cy="894.06" r="1.8" fill="#FFB626" fill-opacity="0.82"/>
<circle cx="276.95" cy="787.51" r="1.8" fill="#C1ED3D" fill-opacity="0.82"/>
<circle cx="288.38" cy="861.96" r="1.8" fill="#FFA022" fill-opacity="0.82"/>
<circle cx="325.53" cy="770.90" r="1.8" fill="#83FD5A" fill-opacity="0.82"/>
<circle cx="343.73" cy="709.40" r="1.8" fill="#FFAB24" fill-opacity="0.82"/>
<circle cx="314.17" cy="757.32" r="1.8" fill="#C9EA3A" fill-opacity="0.82"/>
<circle cx="310.54" cy="700.21" r="1.8" fill="#FF841E" fill-opacity="0.82"/>
<circle cx="265.13" cy="705.86" r="1.8" fill="#3393F8" fill-opacity="0.82"/>
<circle cx="273.78" cy="700.54" r="1.8" fill="#FD6D1A" fill-opacity="0.82"/>
<circle cx="301.80" cy="825.05" r="1.8" fill="#FEBA27" fill-opacity="0.82"/>
<circle cx="262.15" cy="695.16" r="1.8" fill="#E4D830" fill-opacity="0.82"/>
<circle cx="194.93" cy="828.44" r="1.8" fill="#EB5015" fill-opacity="0.82"/>
<circle cx="276.51" cy="716.68" r="1.8" fill="#F96318" fill-opacity="0.82"/>
<circle cx="251.99" cy="805.67" r="1.8" fill="#2AAAEE" fill-opacity="0.82"/>
<circle cx="323.68" cy="821.68" r="1.8" fill="#FF791C" fill-opacity="0.82"/>
<circle cx="322.60" cy="873.72" r="1.8" fill="#CC300D" fill-opacity="0.82"/>
<circle cx="178.49" cy="714.54" r="1.8" fill="#FF7F1D" fill-opacity="0.82"/>
<circle cx="354.03" cy="714.57" r="1.8" fill="#FFA022" fill-opacity="0.82"/>
<circle cx="245.10" cy="852.11" r="1.8" fill="#F9C129" fill-opacity="0.82"/>
<circle cx="170.22" cy="861.92" r="1.8" fill="#FFA022" fill-opacity="0.82"/>
<circle cx="276.35" cy="726.65" r="1.8" fill="#940C00" fill-opacity="0.82"/>
<circle cx="279.67" cy="841.76" r="1.8" fill="#87FD58" fill-opacity="0.82"/>
<circle cx="261.19" cy="825.60" r="1.8" fill="#FF871E" fill-opacity="0.82"/>
<circle cx="172.27" cy="793.33" r="1.8" fill="#75FE63" fill-opacity="0.82"/>
<circle cx="227.34" cy="702.89" r="1.8" fill="#FFAA24" fill-opacity="0.82"/>
<circle cx="239.30" cy="792.27" r="1.8" fill="#95FA50" fill-opacity="0.82"/>
<circle cx="251.12" cy="729.82" r="1.8" fill="#FF8B1F" fill-opacity="0.82"/>
<circle cx="290.34" cy="826.11" r="1.8" fill="#F35A17" fill-opacity="0.82"/>
<circle cx="296.72" cy="789.24" r="1.8" fill="#FFB727" fill-opacity="0.82"/>
<circle cx="155.80" cy="713.36" r="1.8" fill="#25CECE" fill-opacity="0.82"/>
<circle cx="253.54" cy="673.40" r="1.8" fill="#F86218" fill-opacity="0.82"/>
<circle cx="204.16" cy="742.61" r="1.8" fill="#FDBB27" fill-opacity="0.82"/>
<circle cx="199.63" cy="702.50" r="1.8" fill="#DDDE33" fill-opacity="0.82"/>
<circle cx="211.80" cy="719.35" r="1.8" fill="#72FE65" fill-opacity="0.82"/>
<circle cx="240.37" cy="706.14" r="1.8" fill="#F96519" fill-opacity="0.82"/>
<circle cx="171.87" cy="835.60" r="1.8" fill="#D0E637" fill-opacity="0.82"/>
<circle cx="179.76" cy="828.24" r="1.8" fill="#FF751B" fill-opacity="0.82"/>
<circle cx="285.07" cy="830.79" r="1.8" fill="#D5380F" fill-opacity="0.82"/>
<circle cx="313.83" cy="797.82" r="1.8" fill="#F86218" fill-opacity="0.82"/>
<circle cx="274.39" cy="699.31" r="1.8" fill="#64FD6F" fill-opacity="0.82"/>
<circle cx="210.94" cy="729.25" r="1.8" fill="#9C1000" fill-opacity="0.82"/>
<circle cx="356.99" cy="711.03" r="1.8" fill="#FF8E1F" fill-opacity="0.82"/>
<circle cx="203.14" cy="858.01" r="1.8" fill="#7DFD5E" fill-opacity="0.82"/>
<circle cx="307.71" cy="819.26" r="1.8" fill="#F86318" fill-opacity="0.82"/>
<circle cx="185.56" cy="828.62" r="1.8" fill="#47F689" fill-opacity="0.82"/>
<circle cx="161.57" cy="713.22" r="1.8" fill="#B6F241" fill-opacity="0.82"/>
<circle cx="168.23" cy="821.59" r="1.8" fill="#FF9E22" fill-opacity="0.82"/>
<circle cx="336.16" cy="716.85" r="1.8" fill="#E2DA31" fill-opacity="0.82"/>
<circle cx="215.39" cy="881.57" r="1.8" fill="#D2350E" fill-opacity="0.82"/>
<circle cx="254.70" cy="696.56" r="1.8" fill="#77FE61" fill-opacity="0.82"/>
<circle cx="254.99" cy="670.17" r="1.8" fill="#DCDE33" fill-opacity="0.82"/>
<circle cx="246.98" cy="682.28" r="1.8" fill="#BBF03F" fill-opacity="0.82"/>
<circle cx="268.84" cy="694.83" r="1.8" fill="#FF9D22" fill-opacity="0.82"/>
<circle cx="262.75" cy="684.79" r="1.8" fill="#90FB53" fill-opacity="0.82"/>
<circle cx="280.74" cy="692.56" r="1.8" fill="#FF871E" fill-opacity="0.82"/>
<circle cx="263.84" cy="695.28" r="1.8" fill="#25BFDE" fill-opacity="0.82"/>
<circle cx="259.73" cy="702.06" r="1.8" fill="#FFB526" fill-opacity="0.82"/>
<circle cx="265.09" cy="682.95" r="1.8" fill="#3393F8" fill-opacity="0.82"/>
<circle cx="265.16" cy="692.73" r="1.8" fill="#FB6819" fill-opacity="0.82"/>
<circle cx="259.35" cy="701.53" r="1.8" fill="#FF771C" fill-opacity="0.82"/>
<circle cx="267.29" cy="709.94" r="1.8" fill="#FFA423" fill-opacity="0.82"/>
<circle cx="256.43" cy="689.72" r="1.8" fill="#37ED9F" fill-opacity="0.82"/>
<circle cx="263.54" cy="696.74" r="1.8" fill="#FFB225" fill-opacity="0.82"/>
<circle cx="245.50" cy="692.76" r="1.8" fill="#C9E93A" fill-opacity="0.82"/>
<circle cx="258.10" cy="685.64" r="1.8" fill="#FFA723" fill-opacity="0.82"/>
<circle cx="257.41" cy="690.56" r="1.8" fill="#FE6F1A" fill-opacity="0.82"/>
<circle cx="263.38" cy="670.93" r="1.8" fill="#9DF94D" fill-opacity="0.82"/>
<circle cx="266.88" cy="702.30" r="1.8" fill="#FCBD28" fill-opacity="0.82"/>
<circle cx="281.43" cy="687.24" r="1.8" fill="#F86318" fill-opacity="0.82"/>
<circle cx="263.24" cy="712.85" r="1.8" fill="#FEB927" fill-opacity="0.82"/>
<circle cx="249.35" cy="687.00" r="1.8" fill="#FFA423" fill-opacity="0.82"/>
<circle cx="257.25" cy="700.35" r="1.8" fill="#FF7D1D" fill-opacity="0.82"/>
<circle cx="265.54" cy="674.60" r="1.8" fill="#CC300D" fill-opacity="0.82"/>
<circle cx="278.20" cy="671.29" r="1.8" fill="#FAC029" fill-opacity="0.82"/>
<circle cx="282.49" cy="695.88" r="1.8" fill="#FB6719" fill-opacity="0.82"/>
<circle cx="268.98" cy="671.20" r="1.8" fill="#C3280B" fill-opacity="0.82"/>
<circle cx="281.26" cy="683.52" r="1.8" fill="#F2CB2C" fill-opacity="0.82"/>
<circle cx="266.26" cy="676.30" r="1.8" fill="#C1270A" fill-opacity="0.82"/>
<circle cx="257.24" cy="676.69" r="1.8" fill="#D3360F" fill-opacity="0.82"/>
<circle cx="268.77" cy="679.16" r="1.8" fill="#FAC129" fill-opacity="0.82"/>
<circle cx="276.82" cy="680.22" r="1.8" fill="#B1F343" fill-opacity="0.82"/>
<circle cx="261.43" cy="686.93" r="1.8" fill="#FAC029" fill-opacity="0.82"/>
<circle cx="245.32" cy="691.12" r="1.8" fill="#DA3C10" fill-opacity="0.82"/>
<circle cx="277.02" cy="685.04" r="1.8" fill="#7CFD5F" fill-opacity="0.82"/>
<circle cx="268.70" cy="690.76" r="1.8" fill="#BB2209" fill-opacity="0.82"/>
<circle cx="246.94" cy="708.70" r="1.8" fill="#7CFD5E" fill-opacity="0.82"/>
<circle cx="262.74" cy="700.95" r="1.8" fill="#77FE62" fill-opacity="0.82"/>
<circle cx="268.04" cy="680.85" r="1.8" fill="#EF5516" fill-opacity="0.82"/>
<circle cx="271.57" cy="713.99" r="1.8" fill="#CFE638" fill-opacity="0.82"/>
<circle cx="278.64" cy="685.66" r="1.8" fill="#FFAC24" fill-opacity="0.82"/>
<circle cx="273.94" cy="696.96" r="1.8" fill="#B7F141" fill-opacity="0.82"/>
<circle cx="263.16" cy="694.09" r="1.8" fill="#FF7D1D" fill-opacity="0.82"/>
<circle cx="273.72" cy="696.18" r="1.8" fill="#FF7B1C" fill-opacity="0.82"/>
<circle cx="262.83" cy="697.23" r="1.8" fill="#FFAE25" fill-opacity="0.82"/>
<circle cx="337.30" cy="696.45" r="1.8" fill="#FF7A1C" fill-opacity="0.82"/>
<circle cx="340.48" cy="692.07" r="1.8" fill="#B7F141" fill-opacity="0.82"/>
<circle cx="315.84" cy="732.98" r="1.8" fill="#FF9020" fill-opacity="0.82"/>
<circle cx="334.81" cy="702.31" r="1.8" fill="#FF761B" fill-opacity="0.82"/>
<circle cx="342.37" cy="710.04" r="1.8" fill="#85FD59" fill-opacity="0.82"/>
<circle cx="338.76" cy="691.21" r="1.8" fill="#CBE839" fill-opacity="0.82"/>
<circle cx="316.29" cy="716.78" r="1.8" fill="#FC6A1A" fill-opacity="0.82"/>
<circle cx="297.06" cy="711.05" r="1.8" fill="#FF821D" fill-opacity="0.82"/>
<circle cx="351.60" cy="699.47" r="1.8" fill="#F8C329" fill-opacity="0.82"/>
<circle cx="302.74" cy="705.24" r="1.8" fill="#F76018" fill-opacity="0.82"/>
<circle cx="323.63" cy="715.32" r="1.8" fill="#C1ED3D" fill-opacity="0.82"/>
<circle cx="344.82" cy="706.24" r="1.8" fill="#BFEE3E" fill-opacity="0.82"/>
<circle cx="349.84" cy="720.30" r="1.8" fill="#C9EA3A" fill-opacity="0.82"/>
<circle cx="325.18" cy="701.41" r="1.8" fill="#27B7E5" fill-opacity="0.82"/>
<circle cx="337.10" cy="693.93" r="1.8" fill="#FD6B1A" fill-opacity="0.82"/>
<circle cx="330.11" cy="707.04" r="1.8" fill="#DC3F11" fill-opacity="0.82"/>
<circle cx="333.50" cy="689.67" r="1.8" fill="#FCBD28" fill-opacity="0.82"/>
<circle cx="340.62" cy="692.68" r="1.8" fill="#CD300D" fill-opacity="0.82"/>
<circle cx="313.61" cy="714.77" r="1.8" fill="#2EE4B0" fill-opacity="0.82"/>
<circle cx="336.62" cy="701.69" r="1.8" fill="#FF9921" fill-opacity="0.82"/>
<circle cx="335.25" cy="718.82" r="1.8" fill="#B6F242" fill-opacity="0.82"/>
<circle cx="313.13" cy="699.90" r="1.8" fill="#CFE638" fill-opacity="0.82"/>
<circle cx="327.23" cy="688.39" r="1.8" fill="#FF701A" fill-opacity="0.82"/>
<circle cx="354.43" cy="715.20" r="1.8" fill="#F0CD2C" fill-opacity="0.82"/>
<circle cx="311.71" cy="694.48" r="1.8" fill="#F4C82B" fill-opacity="0.82"/>
<circle cx="317.33" cy="710.99" r="1.8" fill="#FFAF25" fill-opacity="0.82"/>
<circle cx="318.21" cy="691.75" r="1.8" fill="#D5E335" fill-opacity="0.82"/>
<circle cx="332.33" cy="696.31" r="1.8" fill="#FE6F1A" fill-opacity="0.82"/>
<circle cx="339.04" cy="700.20" r="1.8" fill="#FFB626" fill-opacity="0.82"/>
<circle cx="335.57" cy="692.08" r="1.8" fill="#DB3D11" fill-opacity="0.82"/>
<line x1="106.60" y1="643.50" x2="106.60" y2="939.80" stroke="#000" stroke-width="1.80"/>
<line x1="105.70" y1="938.90" x2="379.60" y2="938.90" stroke="#000" stroke-width="1.80"/>
<line x1="99.60" y1="657.50" x2="106.60" y2="657.50" stroke="#000" stroke-width="1.30"/>
<line x1="99.60" y1="724.50" x2="106.60" y2="724.50" stroke="#000" stroke-width="1.30"/>
<line x1="99.60" y1="791.20" x2="106.60" y2="791.20" stroke="#000" stroke-width="1.30"/>
<line x1="99.60" y1="857.60" x2="106.60" y2="857.60" stroke="#000" stroke-width="1.30"/>
<line x1="99.60" y1="924.90" x2="106.60" y2="924.90" stroke="#000" stroke-width="1.30"/>
<line x1="118.80" y1="938.90" x2="118.80" y2="947.30" stroke="#000" stroke-width="1.30"/>
<line x1="180.80" y1="938.90" x2="180.80" y2="947.30" stroke="#000" stroke-width="1.30"/>
<line x1="242.90" y1="938.90" x2="242.90" y2="947.30" stroke="#000" stroke-width="1.30"/>
<line x1="304.90" y1="938.90" x2="304.90" y2="947.30" stroke="#000" stroke-width="1.30"/>
<line x1="367.00" y1="938.90" x2="367.00" y2="947.30" stroke="#000" stroke-width="1.30"/>
<defs><linearGradient id="tb" x1="0" y1="0" x2="0" y2="1"><stop offset="0.000" stop-color="#900D00"/><stop offset="0.050" stop-color="#9B0F00"/><stop offset="0.100" stop-color="#B82008"/><stop offset="0.150" stop-color="#D93B10"/><stop offset="0.200" stop-color="#F45C17"/><stop offset="0.250" stop-color="#FF801D"/><stop offset="0.300" stop-color="#FFA323"/><stop offset="0.350" stop-color="#F9C229"/><stop offset="0.400" stop-color="#DFDC32"/><stop offset="0.450" stop-color="#BDEF3E"/><stop offset="0.500" stop-color="#96FA50"/><stop offset="0.550" stop-color="#6FFE67"/><stop offset="0.600" stop-color="#4EF983"/><stop offset="0.650" stop-color="#35EBA2"/><stop offset="0.700" stop-color="#27D7C3"/><stop offset="0.750" stop-color="#26BDE1"/><stop offset="0.800" stop-color="#2F9EF5"/><stop offset="0.850" stop-color="#3E7BF7"/><stop offset="0.900" stop-color="#4958DD"/><stop offset="0.950" stop-color="#463699"/><stop offset="1.000" stop-color="#23171B"/></linearGradient></defs>
<rect x="387.3" y="739.1" width="14.2" height="77.7" fill="url(#tb)"/>
</g>
<g id="pe">
<path d="M676.20,722.90 C676.87,724.87 678.13,731.08 679.20,734.70 C680.27,738.32 681.42,741.32 682.60,744.60 C683.78,747.88 684.50,751.12 686.30,754.40 C688.10,757.68 690.73,761.02 693.40,764.30 C696.07,767.58 699.67,770.82 702.30,774.10 C704.93,777.38 707.78,781.37 709.20,784.00 C710.62,786.63 710.73,787.93 710.80,789.90 C710.87,791.87 710.52,793.50 709.60,795.80 C708.68,798.10 707.17,800.75 705.30,803.70 C703.43,806.65 700.70,810.22 698.40,813.50 C696.10,816.78 693.35,820.12 691.50,823.40 C689.65,826.68 688.28,830.25 687.30,833.20 C686.32,836.15 686.17,838.80 685.60,841.10 C685.03,843.40 684.50,845.03 683.90,847.00 C683.30,848.97 682.87,850.27 682.00,852.90 C681.13,855.53 679.52,859.52 678.70,862.80 C677.88,866.08 677.47,869.32 677.10,872.60 C676.73,875.88 676.63,877.57 676.50,882.50 C676.37,887.43 676.53,898.92 676.30,902.20 C676.07,905.48 675.33,905.48 675.10,902.20 C674.87,898.92 675.03,887.43 674.90,882.50 C674.77,877.57 674.67,875.88 674.30,872.60 C673.93,869.32 673.52,866.08 672.70,862.80 C671.88,859.52 670.27,855.53 669.40,852.90 C668.53,850.27 668.10,848.97 667.50,847.00 C666.90,845.03 666.37,843.40 665.80,841.10 C665.23,838.80 665.08,836.15 664.10,833.20 C663.12,830.25 661.75,826.68 659.90,823.40 C658.05,820.12 655.30,816.78 653.00,813.50 C650.70,810.22 647.97,806.65 646.10,803.70 C644.23,800.75 642.72,798.10 641.80,795.80 C640.88,793.50 640.53,791.87 640.60,789.90 C640.67,787.93 640.78,786.63 642.20,784.00 C643.62,781.37 646.47,777.38 649.10,774.10 C651.73,770.82 655.33,767.58 658.00,764.30 C660.67,761.02 663.30,757.68 665.10,754.40 C666.90,751.12 667.62,747.88 668.80,744.60 C669.98,741.32 671.13,738.32 672.20,734.70 C673.27,731.08 674.53,724.87 675.20,722.90 C675.87,720.93 675.53,720.93 676.20,722.90Z" fill="#A6CDE2" stroke="#333" stroke-width="0.8"/>
<path d="M752.30,723.90 C752.93,725.70 753.87,731.25 755.10,734.70 C756.33,738.15 758.12,741.32 759.70,744.60 C761.28,747.88 762.97,751.12 764.60,754.40 C766.23,757.68 767.70,761.02 769.50,764.30 C771.30,767.58 773.58,770.82 775.40,774.10 C777.22,777.38 779.18,780.72 780.40,784.00 C781.62,787.28 782.38,791.50 782.70,793.80 C783.02,796.10 782.85,796.15 782.30,797.80 C781.75,799.45 780.70,801.08 779.40,803.70 C778.10,806.32 775.98,810.22 774.50,813.50 C773.02,816.78 771.82,820.12 770.50,823.40 C769.18,826.68 767.85,829.92 766.60,833.20 C765.35,836.48 764.25,839.82 763.00,843.10 C761.75,846.38 760.42,849.62 759.10,852.90 C757.78,856.18 756.15,859.52 755.10,862.80 C754.05,866.08 753.23,869.32 752.80,872.60 C752.37,875.88 752.58,876.58 752.50,882.50 C752.42,888.42 752.50,903.83 752.30,908.10 C752.10,912.37 751.50,912.37 751.30,908.10 C751.10,903.83 751.18,888.42 751.10,882.50 C751.02,876.58 751.23,875.88 750.80,872.60 C750.37,869.32 749.55,866.08 748.50,862.80 C747.45,859.52 745.82,856.18 744.50,852.90 C743.18,849.62 741.85,846.38 740.60,843.10 C739.35,839.82 738.25,836.48 737.00,833.20 C735.75,829.92 734.42,826.68 733.10,823.40 C731.78,820.12 730.58,816.78 729.10,813.50 C727.62,810.22 725.50,806.32 724.20,803.70 C722.90,801.08 721.85,799.45 721.30,797.80 C720.75,796.15 720.58,796.10 720.90,793.80 C721.22,791.50 721.98,787.28 723.20,784.00 C724.42,780.72 726.38,777.38 728.20,774.10 C730.02,770.82 732.30,767.58 734.10,764.30 C735.90,761.02 737.37,757.68 739.00,754.40 C740.63,751.12 742.32,747.88 743.90,744.60 C745.48,741.32 747.27,738.15 748.50,734.70 C749.73,731.25 750.67,725.70 751.30,723.90 C751.93,722.10 751.67,722.10 752.30,723.90Z" fill="#F8898A" stroke="#333" stroke-width="0.8"/>
<path d="M828.90,706.00 C829.15,708.28 828.42,715.77 829.20,719.70 C829.98,723.63 832.17,726.32 833.60,729.60 C835.03,732.88 836.28,736.12 837.80,739.40 C839.32,742.68 840.73,746.02 842.70,749.30 C844.67,752.58 847.47,755.82 849.60,759.10 C851.73,762.38 853.80,765.72 855.50,769.00 C857.20,772.28 858.85,776.18 859.80,778.80 C860.75,781.42 861.10,782.73 861.20,784.70 C861.30,786.67 860.87,788.30 860.40,790.60 C859.93,792.90 859.65,795.53 858.40,798.50 C857.15,801.47 855.13,805.12 852.90,808.40 C850.67,811.68 847.57,814.93 845.00,818.20 C842.43,821.47 838.95,825.37 837.50,828.00 C836.05,830.63 836.47,832.00 836.30,834.00 C836.13,836.00 836.67,837.70 836.50,840.00 C836.33,842.30 835.80,844.87 835.30,847.80 C834.80,850.73 834.10,854.32 833.50,857.60 C832.90,860.88 832.30,864.22 831.70,867.50 C831.10,870.78 830.33,874.38 829.90,877.30 C829.47,880.22 829.28,882.53 829.10,885.00 C828.92,887.47 829.02,890.92 828.80,892.10 C828.58,893.28 828.02,893.28 827.80,892.10 C827.58,890.92 827.68,887.47 827.50,885.00 C827.32,882.53 827.13,880.22 826.70,877.30 C826.27,874.38 825.50,870.78 824.90,867.50 C824.30,864.22 823.70,860.88 823.10,857.60 C822.50,854.32 821.80,850.73 821.30,847.80 C820.80,844.87 820.27,842.30 820.10,840.00 C819.93,837.70 820.47,836.00 820.30,834.00 C820.13,832.00 820.55,830.63 819.10,828.00 C817.65,825.37 814.17,821.47 811.60,818.20 C809.03,814.93 805.93,811.68 803.70,808.40 C801.47,805.12 799.45,801.47 798.20,798.50 C796.95,795.53 796.67,792.90 796.20,790.60 C795.73,788.30 795.30,786.67 795.40,784.70 C795.50,782.73 795.85,781.42 796.80,778.80 C797.75,776.18 799.40,772.28 801.10,769.00 C802.80,765.72 804.87,762.38 807.00,759.10 C809.13,755.82 811.93,752.58 813.90,749.30 C815.87,746.02 817.28,742.68 818.80,739.40 C820.32,736.12 821.57,732.88 823.00,729.60 C824.43,726.32 826.62,723.63 827.40,719.70 C828.18,715.77 827.45,708.28 827.70,706.00 C827.95,703.72 828.65,703.72 828.90,706.00Z" fill="#7F71AE" stroke="#333" stroke-width="0.8"/>
<path d="M904.80,723.70 C905.13,725.50 904.98,731.62 905.80,734.50 C906.62,737.38 908.15,738.83 909.70,741.00 C911.25,743.17 913.00,744.60 915.10,747.50 C917.20,750.40 919.95,754.78 922.30,758.40 C924.65,762.02 927.13,765.60 929.20,769.20 C931.27,772.80 933.50,776.75 934.70,780.00 C935.90,783.25 936.52,786.17 936.40,788.70 C936.28,791.23 935.55,792.30 934.00,795.20 C932.45,798.10 928.80,802.85 927.10,806.10 C925.40,809.35 924.82,811.82 923.80,814.70 C922.78,817.58 922.55,820.15 921.00,823.40 C919.45,826.65 916.38,830.95 914.50,834.20 C912.62,837.45 910.50,839.63 909.70,842.90 C908.90,846.17 909.77,850.18 909.70,853.80 C909.63,857.42 909.73,861.00 909.30,864.60 C908.87,868.20 907.68,871.43 907.10,875.40 C906.52,879.37 906.13,882.62 905.80,888.40 C905.47,894.18 905.28,903.05 905.10,910.10 C904.92,917.15 904.90,927.27 904.70,930.70 C904.50,934.13 904.10,934.13 903.90,930.70 C903.70,927.27 903.68,917.15 903.50,910.10 C903.32,903.05 903.13,894.18 902.80,888.40 C902.47,882.62 902.08,879.37 901.50,875.40 C900.92,871.43 899.73,868.20 899.30,864.60 C898.87,861.00 898.97,857.42 898.90,853.80 C898.83,850.18 899.70,846.17 898.90,842.90 C898.10,839.63 895.98,837.45 894.10,834.20 C892.22,830.95 889.15,826.65 887.60,823.40 C886.05,820.15 885.82,817.58 884.80,814.70 C883.78,811.82 883.20,809.35 881.50,806.10 C879.80,802.85 876.15,798.10 874.60,795.20 C873.05,792.30 872.32,791.23 872.20,788.70 C872.08,786.17 872.70,783.25 873.90,780.00 C875.10,776.75 877.33,772.80 879.40,769.20 C881.47,765.60 883.95,762.02 886.30,758.40 C888.65,754.78 891.40,750.40 893.50,747.50 C895.60,744.60 897.35,743.17 898.90,741.00 C900.45,738.83 901.98,737.38 902.80,734.50 C903.62,731.62 903.47,725.50 903.80,723.70 C904.13,721.90 904.47,721.90 904.80,723.70Z" fill="#161212" stroke="#161212" stroke-width="0.8"/>
<line x1="641.52" y1="794.40" x2="709.88" y2="794.40" stroke="#444" stroke-width="1.00"/>
<line x1="721.20" y1="796.80" x2="782.40" y2="796.80" stroke="#444" stroke-width="1.00"/>
<line x1="796.16" y1="790.30" x2="860.44" y2="790.30" stroke="#333" stroke-width="1.00"/>
<line x1="873.64" y1="792.60" x2="934.96" y2="792.60" stroke="#4a4a4a" stroke-width="1.00"/>
<line x1="630.00" y1="648.90" x2="630.00" y2="944.50" stroke="#000" stroke-width="1.80"/>
<line x1="629.10" y1="943.70" x2="949.10" y2="943.70" stroke="#000" stroke-width="1.80"/>
<line x1="624.50" y1="653.10" x2="630.00" y2="653.10" stroke="#000" stroke-width="1.30"/>
<line x1="624.50" y1="715.70" x2="630.00" y2="715.70" stroke="#000" stroke-width="1.30"/>
<line x1="624.50" y1="778.90" x2="630.00" y2="778.90" stroke="#000" stroke-width="1.30"/>
<line x1="624.50" y1="841.50" x2="630.00" y2="841.50" stroke="#000" stroke-width="1.30"/>
<line x1="624.50" y1="904.00" x2="630.00" y2="904.00" stroke="#000" stroke-width="1.30"/>
<line x1="675.70" y1="943.70" x2="675.70" y2="951.70" stroke="#000" stroke-width="1.30"/>
<line x1="751.80" y1="943.70" x2="751.80" y2="951.70" stroke="#000" stroke-width="1.30"/>
<line x1="828.30" y1="943.70" x2="828.30" y2="951.70" stroke="#000" stroke-width="1.30"/>
<line x1="904.30" y1="943.70" x2="904.30" y2="951.70" stroke="#000" stroke-width="1.30"/>
<polyline fill="none" stroke="#111" stroke-width="1.40" points="827.30,647.70 827.30,642.30 903.80,642.30 903.80,647.70"/>
<polyline fill="none" stroke="#111" stroke-width="1.40" points="748.60,663.00 748.60,657.50 901.30,657.50 901.30,663.00"/>
<polyline fill="none" stroke="#111" stroke-width="1.40" points="751.70,680.70 751.70,675.70 828.00,675.70 828.00,680.70"/>
<polyline fill="none" stroke="#111" stroke-width="1.40" points="675.80,693.80 675.80,688.10 904.50,688.10 904.50,693.80"/>
<polyline fill="none" stroke="#111" stroke-width="1.40" points="675.80,726.10 675.80,704.80 828.40,704.80 828.40,720.50"/>
<polyline fill="none" stroke="#111" stroke-width="1.40" points="675.80,726.10 675.80,721.90 752.30,721.90 752.30,726.90"/>
<line x1="752.30" y1="711.10" x2="752.30" y2="721.90" stroke="#111" stroke-width="1.40"/>
</g>
<g id="pf">
<line x1="1096.50" y1="806.30" x2="1377.00" y2="806.30" stroke="#000" stroke-width="1.90"/>
<polyline fill="none" stroke="#000" stroke-width="1.8" points="1096.92,793.82 1097.38,780.75 1097.69,766.91 1109.99,774.14 1117.68,776.14 1119.22,770.76 1121.52,765.37 1126.91,766.14 1128.44,759.99 1139.98,768.45 1140.44,763.07 1140.75,757.68 1143.82,754.61 1153.82,762.30 1155.35,757.68 1155.35,753.07 1163.04,757.68 1165.35,754.61 1180.73,771.99 1190.72,783.83 1192.26,785.36 1195.34,786.13 1198.41,786.90 1203.79,789.21 1203.79,790.75 1206.87,787.67 1212.25,791.51 1213.79,789.98 1219.94,793.82 1227.63,799.97 1232.24,800.74 1234.55,798.90 1241.47,803.05 1246.08,803.05 1250.70,803.82 1256.08,807.66 1257.61,799.20 1259.15,801.51 1263.77,800.74 1269.15,798.13 1278.37,805.35 1282.22,803.82 1283.76,799.97 1284.53,795.36 1285.29,791.51 1285.29,787.67 1286.83,785.36 1289.91,781.52 1299.90,789.21 1301.44,784.59 1323.74,806.12 1330.66,807.66 1336.04,804.59 1336.81,801.51 1357.57,819.66 1363.72,819.66 1369.10,816.12 1370.64,809.20 1372.95,807.66 1376.79,803.82"/>
<circle cx="1096.92" cy="793.82" r="3.60" fill="#000"/>
<circle cx="1097.38" cy="780.75" r="3.60" fill="#000"/>
<circle cx="1097.69" cy="766.91" r="3.60" fill="#000"/>
<circle cx="1109.99" cy="774.14" r="3.60" fill="#000"/>
<circle cx="1117.68" cy="776.14" r="3.60" fill="#000"/>
<circle cx="1119.22" cy="770.76" r="3.60" fill="#000"/>
<circle cx="1121.52" cy="765.37" r="3.60" fill="#000"/>
<circle cx="1126.91" cy="766.14" r="3.60" fill="#000"/>
<circle cx="1128.44" cy="759.99" r="3.60" fill="#000"/>
<circle cx="1139.98" cy="768.45" r="3.60" fill="#000"/>
<circle cx="1140.44" cy="763.07" r="3.60" fill="#000"/>
<circle cx="1140.75" cy="757.68" r="3.60" fill="#000"/>
<circle cx="1143.82" cy="754.61" r="3.60" fill="#000"/>
<circle cx="1153.82" cy="762.30" r="3.60" fill="#000"/>
<circle cx="1155.35" cy="757.68" r="3.60" fill="#000"/>
<circle cx="1155.35" cy="753.07" r="3.60" fill="#000"/>
<circle cx="1163.04" cy="757.68" r="3.60" fill="#000"/>
<circle cx="1165.35" cy="754.61" r="3.60" fill="#000"/>
<circle cx="1180.73" cy="771.99" r="3.60" fill="#000"/>
<circle cx="1190.72" cy="783.83" r="3.60" fill="#000"/>
<circle cx="1192.26" cy="785.36" r="3.60" fill="#000"/>
<circle cx="1195.34" cy="786.13" r="3.60" fill="#000"/>
<circle cx="1198.41" cy="786.90" r="3.60" fill="#000"/>
<circle cx="1203.79" cy="789.21" r="3.60" fill="#000"/>
<circle cx="1203.79" cy="790.75" r="3.60" fill="#000"/>
<circle cx="1206.87" cy="787.67" r="3.60" fill="#000"/>
<circle cx="1212.25" cy="791.51" r="3.60" fill="#000"/>
<circle cx="1213.79" cy="789.98" r="3.60" fill="#000"/>
<circle cx="1219.94" cy="793.82" r="3.60" fill="#000"/>
<circle cx="1227.63" cy="799.97" r="3.60" fill="#000"/>
<circle cx="1232.24" cy="800.74" r="3.60" fill="#000"/>
<circle cx="1234.55" cy="798.90" r="3.60" fill="#000"/>
<circle cx="1241.47" cy="803.05" r="3.60" fill="#000"/>
<circle cx="1246.08" cy="803.05" r="3.60" fill="#000"/>
<circle cx="1250.70" cy="803.82" r="3.60" fill="#000"/>
<circle cx="1256.08" cy="807.66" r="3.60" fill="#000"/>
<circle cx="1257.61" cy="799.20" r="3.60" fill="#000"/>
<circle cx="1259.15" cy="801.51" r="3.60" fill="#000"/>
<circle cx="1263.77" cy="800.74" r="3.60" fill="#000"/>
<circle cx="1269.15" cy="798.13" r="3.60" fill="#000"/>
<circle cx="1278.37" cy="805.35" r="3.60" fill="#000"/>
<circle cx="1282.22" cy="803.82" r="3.60" fill="#000"/>
<circle cx="1283.76" cy="799.97" r="3.60" fill="#000"/>
<circle cx="1284.53" cy="795.36" r="3.60" fill="#000"/>
<circle cx="1285.29" cy="791.51" r="3.60" fill="#000"/>
<circle cx="1285.29" cy="787.67" r="3.60" fill="#000"/>
<circle cx="1286.83" cy="785.36" r="3.60" fill="#000"/>
<circle cx="1289.91" cy="781.52" r="3.60" fill="#000"/>
<circle cx="1299.90" cy="789.21" r="3.60" fill="#000"/>
<circle cx="1301.44" cy="784.59" r="3.60" fill="#000"/>
<circle cx="1323.74" cy="806.12" r="3.60" fill="#000"/>
<circle cx="1330.66" cy="807.66" r="3.60" fill="#000"/>
<circle cx="1336.04" cy="804.59" r="3.60" fill="#000"/>
<circle cx="1336.81" cy="801.51" r="3.60" fill="#000"/>
<circle cx="1357.57" cy="819.66" r="3.60" fill="#000"/>
<circle cx="1363.72" cy="819.66" r="3.60" fill="#000"/>
<circle cx="1369.10" cy="816.12" r="3.60" fill="#000"/>
<circle cx="1370.64" cy="809.20" r="3.60" fill="#000"/>
<circle cx="1372.95" cy="807.66" r="3.60" fill="#000"/>
<circle cx="1376.79" cy="803.82" r="3.60" fill="#000"/>
<line x1="1110.80" y1="942.50" x2="1110.80" y2="950.40" stroke="#111" stroke-width="1.30"/>
<line x1="1118.40" y1="942.50" x2="1118.40" y2="950.40" stroke="#111" stroke-width="1.30"/>
<line x1="1119.60" y1="942.50" x2="1119.60" y2="950.40" stroke="#111" stroke-width="1.30"/>
<line x1="1120.80" y1="942.50" x2="1120.80" y2="950.40" stroke="#111" stroke-width="1.30"/>
<line x1="1128.10" y1="942.50" x2="1128.10" y2="950.40" stroke="#111" stroke-width="1.30"/>
<line x1="1140.70" y1="942.50" x2="1140.70" y2="950.40" stroke="#111" stroke-width="1.30"/>
<line x1="1143.80" y1="942.50" x2="1143.80" y2="950.40" stroke="#111" stroke-width="1.30"/>
<line x1="1155.00" y1="942.50" x2="1155.00" y2="950.40" stroke="#111" stroke-width="1.30"/>
<line x1="1163.00" y1="942.50" x2="1163.00" y2="950.40" stroke="#111" stroke-width="1.30"/>
<line x1="1164.20" y1="942.50" x2="1164.20" y2="950.40" stroke="#111" stroke-width="1.30"/>
<line x1="1165.30" y1="942.50" x2="1165.30" y2="950.40" stroke="#111" stroke-width="1.30"/>
<line x1="1180.70" y1="942.50" x2="1180.70" y2="950.40" stroke="#111" stroke-width="1.30"/>
<line x1="1191.90" y1="942.50" x2="1191.90" y2="950.40" stroke="#111" stroke-width="1.30"/>
<line x1="1194.90" y1="942.50" x2="1194.90" y2="950.40" stroke="#111" stroke-width="1.30"/>
<line x1="1196.10" y1="942.50" x2="1196.10" y2="950.40" stroke="#111" stroke-width="1.30"/>
<line x1="1198.80" y1="942.50" x2="1198.80" y2="950.40" stroke="#111" stroke-width="1.30"/>
<line x1="1203.80" y1="942.50" x2="1203.80" y2="950.40" stroke="#111" stroke-width="1.30"/>
<line x1="1206.90" y1="942.50" x2="1206.90" y2="950.40" stroke="#111" stroke-width="1.30"/>
<line x1="1212.20" y1="942.50" x2="1212.20" y2="950.40" stroke="#111" stroke-width="1.30"/>
<line x1="1213.40" y1="942.50" x2="1213.40" y2="950.40" stroke="#111" stroke-width="1.30"/>
<line x1="1219.90" y1="942.50" x2="1219.90" y2="950.40" stroke="#111" stroke-width="1.30"/>
<line x1="1228.00" y1="942.50" x2="1228.00" y2="950.40" stroke="#111" stroke-width="1.30"/>
<line x1="1232.20" y1="942.50" x2="1232.20" y2="950.40" stroke="#111" stroke-width="1.30"/>
<line x1="1233.80" y1="942.50" x2="1233.80" y2="950.40" stroke="#111" stroke-width="1.30"/>
<line x1="1234.90" y1="942.50" x2="1234.90" y2="950.40" stroke="#111" stroke-width="1.30"/>
<line x1="1235.40" y1="942.50" x2="1235.40" y2="950.40" stroke="#111" stroke-width="1.30"/>
<line x1="1241.90" y1="942.50" x2="1241.90" y2="950.40" stroke="#111" stroke-width="1.30"/>
<line x1="1245.00" y1="942.50" x2="1245.00" y2="950.40" stroke="#111" stroke-width="1.30"/>
<line x1="1250.00" y1="942.50" x2="1250.00" y2="950.40" stroke="#111" stroke-width="1.30"/>
<line x1="1257.30" y1="942.50" x2="1257.30" y2="950.40" stroke="#111" stroke-width="1.30"/>
<line x1="1263.10" y1="942.50" x2="1263.10" y2="950.40" stroke="#111" stroke-width="1.30"/>
<line x1="1265.80" y1="942.50" x2="1265.80" y2="950.40" stroke="#111" stroke-width="1.30"/>
<line x1="1268.80" y1="942.50" x2="1268.80" y2="950.40" stroke="#111" stroke-width="1.30"/>
<line x1="1278.80" y1="942.50" x2="1278.80" y2="950.40" stroke="#111" stroke-width="1.30"/>
<line x1="1282.30" y1="942.50" x2="1282.30" y2="950.40" stroke="#111" stroke-width="1.30"/>
<line x1="1283.40" y1="942.50" x2="1283.40" y2="950.40" stroke="#111" stroke-width="1.30"/>
<line x1="1284.60" y1="942.50" x2="1284.60" y2="950.40" stroke="#111" stroke-width="1.30"/>
<line x1="1285.70" y1="942.50" x2="1285.70" y2="950.40" stroke="#111" stroke-width="1.30"/>
<line x1="1288.80" y1="942.50" x2="1288.80" y2="950.40" stroke="#111" stroke-width="1.30"/>
<line x1="1301.10" y1="942.50" x2="1301.10" y2="950.40" stroke="#111" stroke-width="1.30"/>
<line x1="1324.20" y1="942.50" x2="1324.20" y2="950.40" stroke="#111" stroke-width="1.30"/>
<line x1="1330.30" y1="942.50" x2="1330.30" y2="950.40" stroke="#111" stroke-width="1.30"/>
<line x1="1335.00" y1="942.50" x2="1335.00" y2="950.40" stroke="#111" stroke-width="1.30"/>
<line x1="1336.50" y1="942.50" x2="1336.50" y2="950.40" stroke="#111" stroke-width="1.30"/>
<line x1="1358.00" y1="942.50" x2="1358.00" y2="950.40" stroke="#111" stroke-width="1.30"/>
<line x1="1364.20" y1="942.50" x2="1364.20" y2="950.40" stroke="#111" stroke-width="1.30"/>
<line x1="1368.80" y1="942.50" x2="1368.80" y2="950.40" stroke="#111" stroke-width="1.30"/>
<line x1="1369.90" y1="942.50" x2="1369.90" y2="950.40" stroke="#111" stroke-width="1.30"/>
<rect x="1096.50" y="663.90" width="280.50" height="286.70" fill="none" stroke="#000" stroke-width="1.9"/>
<line x1="1091.30" y1="673.80" x2="1096.50" y2="673.80" stroke="#000" stroke-width="1.30"/>
<line x1="1091.30" y1="740.20" x2="1096.50" y2="740.20" stroke="#000" stroke-width="1.30"/>
<line x1="1091.30" y1="806.20" x2="1096.50" y2="806.20" stroke="#000" stroke-width="1.30"/>
<line x1="1091.30" y1="872.40" x2="1096.50" y2="872.40" stroke="#000" stroke-width="1.30"/>
<line x1="1091.30" y1="938.60" x2="1096.50" y2="938.60" stroke="#000" stroke-width="1.30"/>
<line x1="1156.70" y1="950.60" x2="1156.70" y2="957.50" stroke="#000" stroke-width="1.30"/>
<line x1="1219.90" y1="950.60" x2="1219.90" y2="957.50" stroke="#000" stroke-width="1.30"/>
<line x1="1283.60" y1="950.60" x2="1283.60" y2="957.50" stroke="#000" stroke-width="1.30"/>
<line x1="1347.00" y1="950.60" x2="1347.00" y2="957.50" stroke="#000" stroke-width="1.30"/>
</g>
<text x="6.24" y="98.38" font-size="32.67" textLength="16.38" lengthAdjust="spacingAndGlyphs" font-weight="bold" fill="#231F20">a</text>
<text x="158.53" y="92.50" font-size="23.60" textLength="189.63" lengthAdjust="spacingAndGlyphs">non-HBc-specific</text>
<text x="122.79" y="118.77" font-size="24.25" textLength="246.41" lengthAdjust="spacingAndGlyphs">polyclonal CD8 T cells</text>
<text x="74.53" y="147.35" font-size="25.71" textLength="34.39" lengthAdjust="spacingAndGlyphs">0.4</text>
<text x="74.51" y="214.76" font-size="25.00" textLength="35.16" lengthAdjust="spacingAndGlyphs">0.2</text>
<text x="74.94" y="282.06" font-size="25.00" textLength="34.22" lengthAdjust="spacingAndGlyphs">0.0</text>
<text x="66.10" y="349.95" font-size="25.28" textLength="42.83" lengthAdjust="spacingAndGlyphs">-0.4</text>
<text x="117.65" y="309.75" font-size="25.42" textLength="114.03" lengthAdjust="spacingAndGlyphs">NES: 1.00</text>
<text x="117.65" y="334.94" font-size="24.40" textLength="135.03" lengthAdjust="spacingAndGlyphs">FDR.q: 0.50</text>
<text x="119.04" y="397.26" font-size="24.94" textLength="63.57" lengthAdjust="spacingAndGlyphs">cHBV</text>
<text x="328.04" y="397.50" font-size="25.29" textLength="59.67" lengthAdjust="spacingAndGlyphs">rHBV</text>
<text x="130.42" y="445.27" font-size="23.73" textLength="54.84" lengthAdjust="spacingAndGlyphs">1000</text>
<text x="198.63" y="445.27" font-size="23.73" textLength="56.26" lengthAdjust="spacingAndGlyphs">2000</text>
<text x="268.86" y="445.27" font-size="23.73" textLength="54.90" lengthAdjust="spacingAndGlyphs">3000</text>
<text x="338.33" y="445.27" font-size="23.73" textLength="55.03" lengthAdjust="spacingAndGlyphs">4000</text>
<text x="88.74" y="480.36" font-size="24.78" textLength="325.24" lengthAdjust="spacingAndGlyphs">Gene rank in ordered dataset</text>
<text transform="translate(32.66,398.56) rotate(-90)" x="0" y="0" font-size="24.37" textLength="242.78" lengthAdjust="spacingAndGlyphs">enrichment score with</text>
<text transform="translate(58.80,402.76) rotate(-90)" x="0" y="0" font-size="24.57" textLength="243.46" lengthAdjust="spacingAndGlyphs">cAMP/Crem signature</text>
<text x="432.55" y="32.38" font-size="32.68" textLength="20.85" lengthAdjust="spacingAndGlyphs" font-weight="bold" fill="#231F20">b</text>
<text x="617.54" y="61.66" font-size="24.86" textLength="64.16" lengthAdjust="spacingAndGlyphs">RFX3</text>
<text x="656.34" y="120.75" font-size="25.28" textLength="64.16" lengthAdjust="spacingAndGlyphs">RFX3</text>
<text x="706.18" y="146.60" font-size="25.29" textLength="47.94" lengthAdjust="spacingAndGlyphs">REL</text>
<text x="613.35" y="157.65" font-size="25.28" textLength="51.40" lengthAdjust="spacingAndGlyphs">FOS</text>
<text x="713.76" y="167.45" font-size="25.42" textLength="77.54" lengthAdjust="spacingAndGlyphs">FOXJ3</text>
<text x="621.06" y="181.50" font-size="26.02" textLength="48.47" lengthAdjust="spacingAndGlyphs">REL</text>
<text x="728.66" y="188.96" font-size="24.58" textLength="63.64" lengthAdjust="spacingAndGlyphs">RFX3</text>
<text x="736.11" y="211.60" font-size="25.15" textLength="76.43" lengthAdjust="spacingAndGlyphs">ZNF44</text>
<text x="625.63" y="220.20" font-size="26.02" textLength="49.00" lengthAdjust="spacingAndGlyphs">REL</text>
<text x="582.54" y="246.64" font-size="26.13" textLength="77.96" lengthAdjust="spacingAndGlyphs">FOXJ3</text>
<text x="763.20" y="249.30" font-size="30.37" textLength="86.47" lengthAdjust="spacingAndGlyphs" font-weight="bold">CREM</text>
<text x="856.58" y="249.24" font-size="29.18" textLength="148.64" lengthAdjust="spacingAndGlyphs">(patient #3)</text>
<text x="662.54" y="271.75" font-size="25.28" textLength="60.07" lengthAdjust="spacingAndGlyphs">KLF3</text>
<text x="606.92" y="298.45" font-size="25.85" textLength="79.00" lengthAdjust="spacingAndGlyphs">FOXJ3</text>
<text x="621.01" y="366.91" font-size="29.52" textLength="85.53" lengthAdjust="spacingAndGlyphs" font-weight="bold">CREM</text>
<text x="589.89" y="396.52" font-size="30.25" textLength="147.82" lengthAdjust="spacingAndGlyphs">(patient #1)</text>
<text x="748.81" y="403.31" font-size="29.38" textLength="85.64" lengthAdjust="spacingAndGlyphs" font-weight="bold">CREM</text>
<text x="717.70" y="432.92" font-size="30.25" textLength="147.00" lengthAdjust="spacingAndGlyphs">(patient #2)</text>
<text x="483.03" y="117.25" font-size="25.14" textLength="48.47" lengthAdjust="spacingAndGlyphs">0.06</text>
<text x="482.93" y="259.45" font-size="25.99" textLength="48.30" lengthAdjust="spacingAndGlyphs">0.04</text>
<text x="482.92" y="401.64" font-size="26.13" textLength="48.63" lengthAdjust="spacingAndGlyphs">0.02</text>
<text x="678.47" y="537.56" font-size="24.29" textLength="13.26" lengthAdjust="spacingAndGlyphs">0</text>
<text x="880.78" y="537.56" font-size="24.29" textLength="26.97" lengthAdjust="spacingAndGlyphs">30</text>
<text x="1089.43" y="537.66" font-size="24.72" textLength="27.74" lengthAdjust="spacingAndGlyphs">60</text>
<text x="1298.73" y="537.66" font-size="24.72" textLength="27.74" lengthAdjust="spacingAndGlyphs">90</text>
<text x="924.05" y="569.57" font-size="23.42" textLength="48.31" lengthAdjust="spacingAndGlyphs">rank</text>
<text transform="translate(465.95,448.86) rotate(-90)" x="0" y="0" font-size="24.35" textLength="365.90" lengthAdjust="spacingAndGlyphs">mean transcription factor activitry</text>
<text x="1173.53" y="44.76" font-size="23.82" textLength="106.96" lengthAdjust="spacingAndGlyphs">patient #1</text>
<text x="1173.48" y="74.06" font-size="23.82" textLength="110.08" lengthAdjust="spacingAndGlyphs">patient #2</text>
<text x="1173.49" y="103.36" font-size="23.82" textLength="109.91" lengthAdjust="spacingAndGlyphs">patient #3</text>
<text x="1170.95" y="143.56" font-size="24.78" textLength="52.35" lengthAdjust="spacingAndGlyphs">false</text>
<text x="1170.92" y="172.64" font-size="26.36" textLength="43.09" lengthAdjust="spacingAndGlyphs">true</text>
<text x="1359.10" y="22.68" font-size="32.67" textLength="18.47" lengthAdjust="spacingAndGlyphs" font-weight="bold" fill="#231F20">c</text>
<text x="1528.91" y="51.36" font-size="24.29" textLength="60.80" lengthAdjust="spacingAndGlyphs">KLF6</text>
<text x="1541.43" y="84.96" font-size="24.58" textLength="66.50" lengthAdjust="spacingAndGlyphs">STAT4</text>
<text x="1474.92" y="110.86" font-size="25.00" textLength="75.06" lengthAdjust="spacingAndGlyphs">FOXJ1</text>
<text x="1570.35" y="121.60" font-size="25.00" textLength="69.50" lengthAdjust="spacingAndGlyphs">RARA</text>
<text x="1475.61" y="146.96" font-size="24.29" textLength="90.37" lengthAdjust="spacingAndGlyphs">ZNF510</text>
<text x="1536.33" y="181.86" font-size="24.29" textLength="85.37" lengthAdjust="spacingAndGlyphs">RUNX3</text>
<text x="1645.97" y="182.06" font-size="24.43" textLength="87.83" lengthAdjust="spacingAndGlyphs">HMGA1</text>
<text x="1623.50" y="212.16" font-size="24.29" textLength="90.90" lengthAdjust="spacingAndGlyphs">ZNF483</text>
<text x="1476.11" y="232.26" font-size="24.65" textLength="48.31" lengthAdjust="spacingAndGlyphs">JUN</text>
<text x="1566.99" y="244.00" font-size="25.00" textLength="85.70" lengthAdjust="spacingAndGlyphs">PRDM1</text>
<text x="1630.45" y="265.75" font-size="25.14" textLength="58.29" lengthAdjust="spacingAndGlyphs">ATF3</text>
<text x="1476.85" y="273.16" font-size="24.15" textLength="68.07" lengthAdjust="spacingAndGlyphs">FOSB</text>
<text x="1685.82" y="288.80" font-size="24.42" textLength="58.60" lengthAdjust="spacingAndGlyphs">BATF</text>
<text x="1485.92" y="313.35" font-size="25.65" textLength="64.18" lengthAdjust="spacingAndGlyphs">JUNB</text>
<text x="1571.41" y="360.82" font-size="28.25" textLength="85.53" lengthAdjust="spacingAndGlyphs" font-weight="bold">CREM</text>
<text x="1402.03" y="50.35" font-size="25.14" textLength="62.45" lengthAdjust="spacingAndGlyphs">0.040</text>
<text x="1402.02" y="143.36" font-size="24.72" textLength="62.53" lengthAdjust="spacingAndGlyphs">0.035</text>
<text x="1402.03" y="235.46" font-size="24.72" textLength="62.45" lengthAdjust="spacingAndGlyphs">0.030</text>
<text x="1402.02" y="328.56" font-size="24.58" textLength="62.53" lengthAdjust="spacingAndGlyphs">0.025</text>
<text x="1402.03" y="420.06" font-size="24.58" textLength="62.45" lengthAdjust="spacingAndGlyphs">0.020</text>
<text x="1402.02" y="511.96" font-size="24.58" textLength="62.53" lengthAdjust="spacingAndGlyphs">0.015</text>
<text x="1505.24" y="546.55" font-size="25.14" textLength="13.73" lengthAdjust="spacingAndGlyphs">0</text>
<text x="1611.26" y="546.55" font-size="25.14" textLength="27.51" lengthAdjust="spacingAndGlyphs">30</text>
<text x="1722.61" y="546.55" font-size="25.14" textLength="28.18" lengthAdjust="spacingAndGlyphs">60</text>
<text x="1835.61" y="546.55" font-size="25.14" textLength="28.18" lengthAdjust="spacingAndGlyphs">90</text>
<text x="1665.23" y="577.26" font-size="24.51" textLength="49.04" lengthAdjust="spacingAndGlyphs">rank</text>
<text transform="translate(1387.72,360.35) rotate(-90)" x="0" y="0" font-size="24.46" textLength="182.40" lengthAdjust="spacingAndGlyphs">mean TF activity</text>
<text x="44.65" y="636.59" font-size="31.73" textLength="20.12" lengthAdjust="spacingAndGlyphs" font-weight="bold" fill="#231F20">d</text>
<text x="77.95" y="667.40" font-size="24.13" textLength="13.24" lengthAdjust="spacingAndGlyphs">4</text>
<text x="77.93" y="732.50" font-size="23.77" textLength="14.04" lengthAdjust="spacingAndGlyphs">2</text>
<text x="77.64" y="799.87" font-size="23.73" textLength="13.73" lengthAdjust="spacingAndGlyphs">0</text>
<text x="67.66" y="866.70" font-size="23.92" textLength="22.83" lengthAdjust="spacingAndGlyphs">-2</text>
<text x="67.69" y="933.70" font-size="24.27" textLength="22.24" lengthAdjust="spacingAndGlyphs">-4</text>
<text x="101.30" y="974.30" font-size="24.86" textLength="21.92" lengthAdjust="spacingAndGlyphs">-4</text>
<text x="162.55" y="974.30" font-size="24.78" textLength="22.94" lengthAdjust="spacingAndGlyphs">-2</text>
<text x="237.97" y="974.06" font-size="24.43" textLength="13.26" lengthAdjust="spacingAndGlyphs">0</text>
<text x="298.53" y="974.30" font-size="24.78" textLength="14.04" lengthAdjust="spacingAndGlyphs">2</text>
<text x="359.04" y="974.30" font-size="24.86" textLength="13.46" lengthAdjust="spacingAndGlyphs">4</text>
<text x="199.41" y="1007.35" font-size="25.94" textLength="98.19" lengthAdjust="spacingAndGlyphs">UMAP_1</text>
<text transform="translate(65.17,849.92) rotate(-90)" x="0" y="0" font-size="26.31" textLength="99.36" lengthAdjust="spacingAndGlyphs">UMAP_2</text>
<text transform="translate(429.25,849.96) rotate(-90)" x="0" y="0" font-size="25.80" textLength="147.42" lengthAdjust="spacingAndGlyphs">cAMP/CREM</text>
<text transform="translate(450.75,861.70) rotate(-90)" x="0" y="0" font-size="24.35" textLength="171.01" lengthAdjust="spacingAndGlyphs">signature score</text>
<text x="491.51" y="639.18" font-size="32.31" textLength="18.31" lengthAdjust="spacingAndGlyphs" font-weight="bold" fill="#231F20">e</text>
<text x="562.92" y="668.05" font-size="25.56" textLength="48.99" lengthAdjust="spacingAndGlyphs">0.43</text>
<text x="562.91" y="726.16" font-size="24.43" textLength="49.16" lengthAdjust="spacingAndGlyphs">0.42</text>
<text x="567.49" y="788.06" font-size="24.43" textLength="45.35" lengthAdjust="spacingAndGlyphs">0.41</text>
<text x="563.41" y="852.66" font-size="24.43" textLength="49.28" lengthAdjust="spacingAndGlyphs">0.40</text>
<text x="563.41" y="914.06" font-size="24.43" textLength="49.50" lengthAdjust="spacingAndGlyphs">0.39</text>
<text x="657.08" y="978.30" font-size="25.44" textLength="28.67" lengthAdjust="spacingAndGlyphs">P1</text>
<text x="740.53" y="978.30" font-size="25.06" textLength="30.84" lengthAdjust="spacingAndGlyphs">P2</text>
<text x="812.11" y="978.06" font-size="24.72" textLength="31.10" lengthAdjust="spacingAndGlyphs">P3</text>
<text x="883.43" y="978.30" font-size="25.44" textLength="30.80" lengthAdjust="spacingAndGlyphs">P4</text>
<text x="717.89" y="1007.29" font-size="23.17" textLength="101.41" lengthAdjust="spacingAndGlyphs">#patients</text>
<text transform="translate(527.55,861.76) rotate(-90)" x="0" y="0" font-size="25.65" textLength="147.01" lengthAdjust="spacingAndGlyphs">cAMP/CREM</text>
<text transform="translate(548.56,873.39) rotate(-90)" x="0" y="0" font-size="24.78" textLength="170.20" lengthAdjust="spacingAndGlyphs">signature score</text>
<text x="843.51" y="636.50" font-size="16.47" textLength="42.90" lengthAdjust="spacingAndGlyphs">p=0.5</text>
<text x="836.23" y="655.00" font-size="17.04" textLength="51.15" lengthAdjust="spacingAndGlyphs">p=0.34</text>
<text x="765.12" y="672.70" font-size="16.61" textLength="60.97" lengthAdjust="spacingAndGlyphs">p=0.059</text>
<text x="841.52" y="684.60" font-size="16.04" textLength="51.52" lengthAdjust="spacingAndGlyphs">p=0.77</text>
<text x="734.61" y="702.70" font-size="16.61" textLength="52.29" lengthAdjust="spacingAndGlyphs">p=0.19</text>
<text x="703.11" y="719.60" font-size="16.47" textLength="42.74" lengthAdjust="spacingAndGlyphs">p=0.2</text>
<text x="980.40" y="647.70" font-size="33.67" textLength="11.73" lengthAdjust="spacingAndGlyphs" font-weight="bold" fill="#231F20">f</text>
<text x="1103.87" y="626.97" font-size="24.25" textLength="267.03" lengthAdjust="spacingAndGlyphs">HIV-specific CD8 T cells</text>
<text x="1090.14" y="653.26" font-size="24.24" textLength="294.67" lengthAdjust="spacingAndGlyphs">chronic vs. elite controllers</text>
<text x="1241.91" y="698.31" font-size="29.38" textLength="132.55" lengthAdjust="spacingAndGlyphs">NES: 0.92</text>
<text x="1209.67" y="727.77" font-size="28.59" textLength="161.02" lengthAdjust="spacingAndGlyphs">FDRq: 0.571</text>
<text x="1054.72" y="683.86" font-size="25.00" textLength="34.71" lengthAdjust="spacingAndGlyphs">0.4</text>
<text x="1054.71" y="747.76" font-size="25.00" textLength="35.27" lengthAdjust="spacingAndGlyphs">0.2</text>
<text x="1054.93" y="816.46" font-size="24.72" textLength="34.54" lengthAdjust="spacingAndGlyphs">0.0</text>
<text x="1046.38" y="881.37" font-size="24.01" textLength="43.39" lengthAdjust="spacingAndGlyphs">-0.2</text>
<text x="1046.40" y="950.36" font-size="24.58" textLength="42.83" lengthAdjust="spacingAndGlyphs">-0.4</text>
<text x="1126.60" y="983.96" font-size="25.00" textLength="41.47" lengthAdjust="spacingAndGlyphs">500</text>
<text x="1184.53" y="983.96" font-size="25.00" textLength="54.74" lengthAdjust="spacingAndGlyphs">1000</text>
<text x="1246.53" y="983.91" font-size="29.94" textLength="63.49" lengthAdjust="spacingAndGlyphs">1500</text>
<text x="1317.15" y="983.91" font-size="29.94" textLength="64.18" lengthAdjust="spacingAndGlyphs">2000</text>
<text x="1073.94" y="1014.16" font-size="25.06" textLength="325.04" lengthAdjust="spacingAndGlyphs">Gene rank in ordered dataset</text>
<text transform="translate(1004.06,913.06) rotate(-90)" x="0" y="0" font-size="24.37" textLength="243.19" lengthAdjust="spacingAndGlyphs">enrichment score with</text>
<text transform="translate(1029.72,916.76) rotate(-90)" x="0" y="0" font-size="24.46" textLength="243.97" lengthAdjust="spacingAndGlyphs">cAMP/Crem signature</text>
</svg>
</body></html>
